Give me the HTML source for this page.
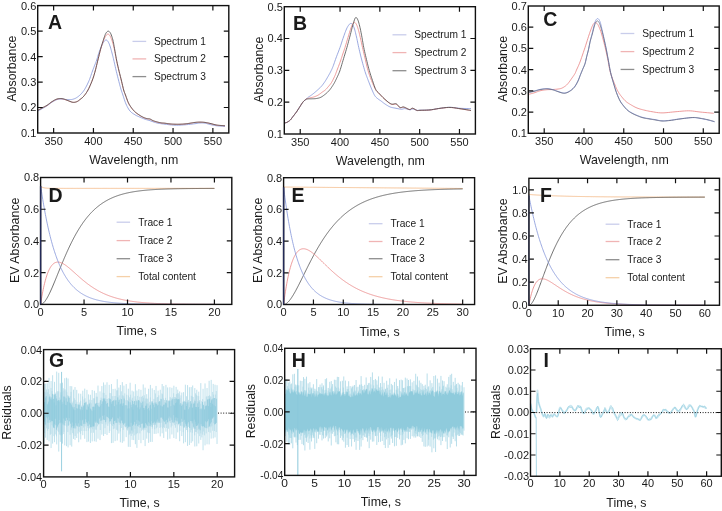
<!DOCTYPE html><html><head><meta charset="utf-8"><style>html,body{margin:0;padding:0;background:#fff;}svg{display:block;will-change:transform;}text{font-family:"Liberation Sans", sans-serif;}</style></head><body>
<svg width="722" height="511" viewBox="0 0 722 511">
<rect width="722" height="511" fill="#fff"/>
<path d="M37.5 111.2 L37.98 110.95 L38.65 110.6 L39.44 110.19 L40.3 109.73 L41.17 109.26 L42 108.8 L42.8 108.34 L43.63 107.87 L44.47 107.37 L45.31 106.87 L46.16 106.34 L47 105.8 L47.83 105.22 L48.67 104.61 L49.5 103.98 L50.33 103.35 L51.17 102.75 L52 102.2 L52.83 101.68 L53.67 101.18 L54.5 100.71 L55.33 100.27 L56.17 99.9 L57 99.6 L57.84 99.38 L58.7 99.24 L59.56 99.16 L60.41 99.12 L61.22 99.11 L62 99.1 L62.72 99.12 L63.4 99.18 L64.04 99.26 L64.68 99.36 L65.33 99.44 L66 99.5 L66.72 99.54 L67.47 99.57 L68.23 99.6 L68.97 99.61 L69.67 99.62 L70.3 99.6 L70.84 99.57 L71.3 99.54 L71.72 99.49 L72.12 99.42 L72.54 99.32 L73 99.2 L73.5 99.05 L74.01 98.89 L74.53 98.71 L75.07 98.49 L75.63 98.22 L76.2 97.9 L76.8 97.52 L77.43 97.1 L78.07 96.63 L78.72 96.12 L79.37 95.58 L80 95 L80.63 94.38 L81.27 93.72 L81.91 93.02 L82.54 92.29 L83.14 91.55 L83.7 90.8 L84.22 90.05 L84.69 89.31 L85.14 88.54 L85.59 87.75 L86.03 86.91 L86.5 86 L86.99 85.04 L87.49 84.03 L87.99 82.98 L88.49 81.88 L89 80.72 L89.5 79.5 L90.01 78.17 L90.53 76.72 L91.04 75.22 L91.55 73.72 L92.04 72.3 L92.5 71 L92.93 69.84 L93.33 68.78 L93.72 67.78 L94.09 66.83 L94.45 65.91 L94.8 65 L95.14 64.14 L95.45 63.35 L95.75 62.59 L96.05 61.81 L96.36 60.97 L96.7 60 L97.06 58.88 L97.43 57.65 L97.81 56.34 L98.2 55.02 L98.6 53.72 L99 52.5 L99.41 51.34 L99.82 50.19 L100.24 49.06 L100.66 47.98 L101.08 46.96 L101.5 46 L101.92 45.1 L102.35 44.24 L102.78 43.44 L103.2 42.7 L103.61 42.05 L104 41.5 L104.36 41.04 L104.7 40.67 L105.03 40.38 L105.35 40.17 L105.67 40.04 L106 40 L106.33 40.04 L106.67 40.17 L107 40.38 L107.33 40.67 L107.67 41.04 L108 41.5 L108.33 42.05 L108.67 42.69 L109 43.41 L109.33 44.2 L109.67 45.07 L110 46 L110.34 47.02 L110.68 48.15 L111.02 49.34 L111.35 50.57 L111.68 51.8 L112 53 L112.3 54.13 L112.58 55.22 L112.86 56.31 L113.14 57.44 L113.43 58.66 L113.75 60 L114.09 61.49 L114.45 63.11 L114.83 64.81 L115.21 66.56 L115.6 68.3 L116 70 L116.4 71.68 L116.82 73.37 L117.24 75.06 L117.66 76.74 L118.09 78.39 L118.5 80 L118.91 81.59 L119.32 83.19 L119.73 84.75 L120.13 86.26 L120.52 87.69 L120.9 89 L121.24 90.14 L121.56 91.11 L121.86 92 L122.17 92.89 L122.51 93.86 L122.9 95 L123.34 96.35 L123.82 97.85 L124.33 99.44 L124.86 101.04 L125.42 102.58 L126 104 L126.6 105.32 L127.23 106.6 L127.88 107.83 L128.56 108.98 L129.27 110.04 L130 111 L130.78 111.83 L131.59 112.56 L132.44 113.19 L133.3 113.76 L134.16 114.28 L135 114.8 L135.83 115.29 L136.67 115.72 L137.5 116.11 L138.33 116.48 L139.17 116.84 L140 117.2 L140.83 117.56 L141.67 117.91 L142.5 118.26 L143.33 118.59 L144.17 118.9 L145 119.2 L145.81 119.47 L146.6 119.71 L147.39 119.94 L148.21 120.17 L149.07 120.42 L150 120.7 L151 121.04 L152.05 121.41 L153.14 121.81 L154.29 122.21 L155.47 122.58 L156.7 122.9 L157.97 123.17 L159.29 123.41 L160.64 123.63 L162.05 123.82 L163.5 124.01 L165 124.2 L166.57 124.4 L168.21 124.61 L169.89 124.81 L171.6 124.98 L173.31 125.12 L175 125.2 L176.67 125.22 L178.33 125.2 L180 125.13 L181.67 125.04 L183.33 124.92 L185 124.8 L186.72 124.65 L188.52 124.47 L190.31 124.27 L192.04 124.06 L193.62 123.87 L195 123.7 L196.12 123.55 L197.04 123.4 L197.81 123.27 L198.52 123.15 L199.22 123.06 L200 123 L200.83 122.97 L201.67 122.96 L202.5 122.98 L203.33 123.02 L204.17 123.09 L205 123.2 L205.82 123.35 L206.63 123.56 L207.44 123.79 L208.26 124.03 L209.11 124.28 L210 124.5 L210.91 124.71 L211.81 124.93 L212.75 125.14 L213.74 125.34 L214.81 125.53 L216 125.7 L217.43 125.85 L219.11 126 L220.88 126.13 L222.56 126.24 L223.99 126.33 L225 126.4" fill="none" stroke="#8193d8" stroke-width="0.8" stroke-linejoin="round" />
<path d="M37.5 110.5 L37.98 110.23 L38.65 109.85 L39.44 109.41 L40.3 108.93 L41.17 108.45 L42 108 L42.8 107.6 L43.63 107.21 L44.47 106.83 L45.31 106.42 L46.16 105.99 L47 105.5 L47.83 104.94 L48.67 104.31 L49.5 103.66 L50.33 103 L51.17 102.37 L52 101.8 L52.83 101.28 L53.67 100.77 L54.5 100.29 L55.33 99.86 L56.17 99.49 L57 99.2 L57.83 98.98 L58.67 98.83 L59.5 98.74 L60.33 98.71 L61.17 98.73 L62 98.8 L62.82 98.93 L63.64 99.14 L64.45 99.4 L65.27 99.69 L66.12 100 L67 100.3 L67.94 100.64 L68.93 101.03 L69.95 101.44 L70.96 101.81 L71.92 102.12 L72.8 102.3 L73.61 102.36 L74.36 102.32 L75.07 102.21 L75.75 102.04 L76.39 101.83 L77 101.6 L77.56 101.34 L78.06 101.04 L78.53 100.71 L78.99 100.33 L79.47 99.93 L80 99.5 L80.57 99.07 L81.16 98.63 L81.77 98.16 L82.4 97.64 L83.04 97.03 L83.7 96.3 L84.38 95.47 L85.09 94.57 L85.81 93.57 L86.54 92.49 L87.27 91.3 L88 90 L88.75 88.54 L89.52 86.9 L90.29 85.17 L91.05 83.4 L91.76 81.65 L92.4 80 L92.96 78.47 L93.46 77 L93.91 75.56 L94.33 74.11 L94.76 72.6 L95.2 71 L95.66 69.27 L96.11 67.44 L96.56 65.56 L97.01 63.67 L97.46 61.8 L97.9 60 L98.34 58.25 L98.78 56.52 L99.21 54.81 L99.64 53.15 L100.07 51.54 L100.5 50 L100.92 48.52 L101.34 47.1 L101.76 45.73 L102.17 44.42 L102.58 43.18 L103 42 L103.42 40.88 L103.84 39.8 L104.26 38.79 L104.68 37.86 L105.09 37.02 L105.5 36.3 L105.9 35.69 L106.29 35.16 L106.67 34.74 L107.05 34.41 L107.42 34.2 L107.8 34.1 L108.17 34.11 L108.53 34.21 L108.89 34.43 L109.25 34.76 L109.62 35.21 L110 35.8 L110.41 36.55 L110.83 37.47 L111.26 38.51 L111.69 39.63 L112.11 40.81 L112.5 42 L112.86 43.21 L113.21 44.46 L113.54 45.76 L113.86 47.12 L114.18 48.53 L114.5 50 L114.82 51.55 L115.13 53.19 L115.43 54.88 L115.74 56.59 L116.06 58.31 L116.4 60 L116.76 61.67 L117.13 63.33 L117.51 65 L117.9 66.67 L118.3 68.33 L118.7 70 L119.11 71.67 L119.52 73.33 L119.94 75 L120.37 76.67 L120.79 78.33 L121.2 80 L121.61 81.72 L122.03 83.52 L122.44 85.31 L122.85 87.04 L123.24 88.62 L123.6 90 L123.92 91.09 L124.2 91.93 L124.47 92.63 L124.74 93.3 L125.04 94.06 L125.4 95 L125.82 96.18 L126.27 97.52 L126.76 98.94 L127.27 100.37 L127.79 101.71 L128.3 102.9 L128.81 103.92 L129.33 104.85 L129.86 105.69 L130.4 106.49 L130.95 107.25 L131.5 108 L132.06 108.74 L132.63 109.45 L133.2 110.13 L133.79 110.78 L134.38 111.4 L135 112 L135.63 112.56 L136.29 113.09 L136.95 113.59 L137.63 114.07 L138.31 114.54 L139 115 L139.71 115.46 L140.43 115.91 L141.17 116.36 L141.9 116.77 L142.61 117.16 L143.3 117.5 L143.96 117.8 L144.6 118.06 L145.23 118.28 L145.84 118.48 L146.43 118.65 L147 118.8 L147.54 118.9 L148.05 118.96 L148.54 118.98 L149.03 119.01 L149.51 119.07 L150 119.2 L150.49 119.4 L150.97 119.66 L151.46 119.95 L151.95 120.25 L152.46 120.54 L153 120.8 L153.57 121.03 L154.16 121.24 L154.77 121.44 L155.4 121.63 L156.04 121.82 L156.7 122 L157.39 122.19 L158.1 122.37 L158.83 122.56 L159.57 122.73 L160.29 122.88 L161 123 L161.67 123.09 L162.32 123.14 L162.96 123.17 L163.6 123.2 L164.28 123.23 L165 123.3 L165.78 123.4 L166.59 123.52 L167.44 123.65 L168.3 123.78 L169.16 123.9 L170 124 L170.83 124.08 L171.67 124.14 L172.5 124.19 L173.33 124.24 L174.17 124.27 L175 124.3 L175.83 124.32 L176.67 124.33 L177.5 124.34 L178.33 124.33 L179.17 124.32 L180 124.3 L180.83 124.27 L181.67 124.24 L182.5 124.19 L183.33 124.14 L184.17 124.08 L185 124 L185.83 123.91 L186.67 123.8 L187.5 123.68 L188.33 123.56 L189.17 123.43 L190 123.3 L190.83 123.17 L191.67 123.02 L192.5 122.87 L193.33 122.73 L194.17 122.61 L195 122.5 L195.83 122.41 L196.67 122.34 L197.5 122.28 L198.33 122.24 L199.17 122.21 L200 122.2 L200.83 122.21 L201.67 122.23 L202.5 122.27 L203.33 122.33 L204.17 122.4 L205 122.5 L205.82 122.62 L206.63 122.76 L207.44 122.92 L208.26 123.1 L209.11 123.3 L210 123.5 L210.97 123.73 L212 124 L213.06 124.28 L214.11 124.56 L215.1 124.8 L216 125 L216.77 125.14 L217.44 125.25 L218.06 125.33 L218.67 125.39 L219.3 125.44 L220 125.5 L220.83 125.57 L221.78 125.63 L222.75 125.68 L223.67 125.73 L224.44 125.77 L225 125.8" fill="none" stroke="#e88282" stroke-width="0.8" stroke-linejoin="round" />
<path d="M37.5 110.5 L37.98 110.23 L38.65 109.86 L39.44 109.42 L40.3 108.94 L41.17 108.46 L42 108 L42.8 107.57 L43.63 107.15 L44.47 106.73 L45.31 106.28 L46.16 105.81 L47 105.3 L47.83 104.73 L48.67 104.1 L49.5 103.44 L50.33 102.79 L51.17 102.16 L52 101.6 L52.83 101.08 L53.67 100.57 L54.5 100.09 L55.33 99.66 L56.17 99.29 L57 99 L57.83 98.78 L58.67 98.63 L59.5 98.54 L60.33 98.5 L61.17 98.53 L62 98.6 L62.82 98.75 L63.64 98.97 L64.45 99.24 L65.27 99.56 L66.12 99.88 L67 100.2 L67.94 100.55 L68.93 100.97 L69.95 101.39 L70.96 101.79 L71.92 102.11 L72.8 102.3 L73.61 102.36 L74.36 102.33 L75.07 102.21 L75.75 102.04 L76.39 101.83 L77 101.6 L77.56 101.34 L78.06 101.04 L78.53 100.71 L78.99 100.33 L79.47 99.93 L80 99.5 L80.57 99.07 L81.16 98.63 L81.77 98.16 L82.4 97.64 L83.04 97.03 L83.7 96.3 L84.38 95.47 L85.09 94.57 L85.81 93.57 L86.54 92.49 L87.27 91.3 L88 90 L88.75 88.54 L89.52 86.9 L90.29 85.17 L91.05 83.4 L91.76 81.65 L92.4 80 L92.96 78.47 L93.46 77 L93.91 75.56 L94.33 74.11 L94.76 72.6 L95.2 71 L95.66 69.28 L96.11 67.46 L96.56 65.59 L97.01 63.7 L97.46 61.83 L97.9 60 L98.34 58.2 L98.77 56.41 L99.2 54.62 L99.63 52.87 L100.06 51.16 L100.5 49.5 L100.95 47.89 L101.4 46.3 L101.86 44.76 L102.32 43.27 L102.77 41.85 L103.2 40.5 L103.62 39.2 L104.02 37.94 L104.41 36.75 L104.8 35.64 L105.2 34.65 L105.6 33.8 L106.01 33.08 L106.43 32.46 L106.85 31.96 L107.27 31.57 L107.69 31.32 L108.1 31.2 L108.51 31.21 L108.91 31.35 L109.31 31.61 L109.7 32.01 L110.1 32.54 L110.5 33.2 L110.91 34.02 L111.32 34.99 L111.73 36.1 L112.14 37.32 L112.53 38.63 L112.9 40 L113.25 41.48 L113.57 43.1 L113.89 44.8 L114.19 46.55 L114.49 48.3 L114.8 50 L115.1 51.67 L115.39 53.33 L115.68 55 L115.97 56.67 L116.28 58.33 L116.6 60 L116.94 61.67 L117.29 63.33 L117.66 65 L118.03 66.67 L118.41 68.33 L118.8 70 L119.2 71.67 L119.61 73.33 L120.04 75 L120.46 76.67 L120.89 78.33 L121.3 80 L121.71 81.72 L122.13 83.52 L122.54 85.31 L122.95 87.04 L123.34 88.62 L123.7 90 L124.02 91.09 L124.3 91.94 L124.57 92.64 L124.84 93.32 L125.14 94.07 L125.5 95 L125.92 96.16 L126.38 97.46 L126.87 98.84 L127.38 100.23 L127.89 101.54 L128.4 102.7 L128.9 103.71 L129.4 104.63 L129.91 105.48 L130.43 106.28 L130.96 107.04 L131.5 107.8 L132.05 108.54 L132.62 109.25 L133.19 109.93 L133.78 110.58 L134.38 111.2 L135 111.8 L135.63 112.36 L136.29 112.89 L136.95 113.39 L137.63 113.87 L138.31 114.34 L139 114.8 L139.71 115.26 L140.43 115.71 L141.17 116.16 L141.9 116.57 L142.61 116.96 L143.3 117.3 L143.96 117.6 L144.6 117.86 L145.23 118.08 L145.84 118.28 L146.43 118.45 L147 118.6 L147.54 118.7 L148.05 118.76 L148.54 118.78 L149.03 118.81 L149.51 118.87 L150 119 L150.49 119.2 L150.97 119.46 L151.46 119.75 L151.95 120.05 L152.46 120.34 L153 120.6 L153.57 120.83 L154.16 121.04 L154.77 121.24 L155.4 121.43 L156.04 121.62 L156.7 121.8 L157.39 121.99 L158.1 122.17 L158.83 122.35 L159.57 122.52 L160.29 122.67 L161 122.8 L161.67 122.9 L162.32 122.97 L162.96 123.02 L163.6 123.07 L164.28 123.12 L165 123.2 L165.78 123.3 L166.59 123.43 L167.44 123.56 L168.3 123.69 L169.16 123.8 L170 123.9 L170.83 123.98 L171.67 124.04 L172.5 124.09 L173.33 124.14 L174.17 124.17 L175 124.2 L175.83 124.22 L176.67 124.23 L177.5 124.24 L178.33 124.23 L179.17 124.22 L180 124.2 L180.83 124.17 L181.67 124.14 L182.5 124.09 L183.33 124.04 L184.17 123.98 L185 123.9 L185.83 123.81 L186.67 123.7 L187.5 123.58 L188.33 123.46 L189.17 123.33 L190 123.2 L190.83 123.07 L191.67 122.92 L192.5 122.78 L193.33 122.63 L194.17 122.51 L195 122.4 L195.83 122.31 L196.67 122.24 L197.5 122.18 L198.33 122.14 L199.17 122.11 L200 122.1 L200.83 122.11 L201.67 122.13 L202.5 122.17 L203.33 122.23 L204.17 122.3 L205 122.4 L205.82 122.52 L206.63 122.66 L207.44 122.83 L208.26 123 L209.11 123.2 L210 123.4 L210.97 123.63 L212 123.9 L213.06 124.18 L214.11 124.46 L215.1 124.7 L216 124.9 L216.77 125.04 L217.44 125.15 L218.06 125.23 L218.67 125.29 L219.3 125.34 L220 125.4 L220.83 125.47 L221.78 125.53 L222.75 125.58 L223.67 125.63 L224.44 125.67 L225 125.7" fill="none" stroke="#4a4a4a" stroke-width="0.8" stroke-linejoin="round" />
<path d="M132.5 41.4 H146.2" stroke="#c9cdeb" stroke-width="1.3"/>
<text x="153.9" y="44.87" font-size="10.2" text-anchor="start" font-weight="normal" fill="#1a1a1a" >Spectrum 1</text>
<path d="M132.5 58.9 H146.2" stroke="#f0b4b4" stroke-width="1.3"/>
<text x="153.9" y="62.37" font-size="10.2" text-anchor="start" font-weight="normal" fill="#1a1a1a" >Spectrum 2</text>
<path d="M132.5 76.6 H146.2" stroke="#8e8e8e" stroke-width="1.3"/>
<text x="153.9" y="80.07" font-size="10.2" text-anchor="start" font-weight="normal" fill="#1a1a1a" >Spectrum 3</text>
<path d="M53.62 133 V128 M53.62 5.6 V10.6 M93.44 133 V128 M93.44 5.6 V10.6 M133.25 133 V128 M133.25 5.6 V10.6 M173.06 133 V128 M173.06 5.6 V10.6 M212.88 133 V128 M212.88 5.6 V10.6 M37.7 107.52 H42.7 M228.8 107.52 H223.8 M37.7 82.04 H42.7 M228.8 82.04 H223.8 M37.7 56.56 H42.7 M228.8 56.56 H223.8 M37.7 31.08 H42.7 M228.8 31.08 H223.8" stroke="#111" stroke-width="1.2" fill="none"/>
<rect x="37.7" y="5.6" width="191.1" height="127.4" fill="none" stroke="#111" stroke-width="1.4"/>
<text x="53.62" y="144.7" font-size="11" text-anchor="middle" font-weight="normal" fill="#1a1a1a" >350</text>
<text x="93.44" y="144.7" font-size="11" text-anchor="middle" font-weight="normal" fill="#1a1a1a" >400</text>
<text x="133.25" y="144.7" font-size="11" text-anchor="middle" font-weight="normal" fill="#1a1a1a" >450</text>
<text x="173.06" y="144.7" font-size="11" text-anchor="middle" font-weight="normal" fill="#1a1a1a" >500</text>
<text x="212.88" y="144.7" font-size="11" text-anchor="middle" font-weight="normal" fill="#1a1a1a" >550</text>
<text x="36.3" y="136.96" font-size="11" text-anchor="end" font-weight="normal" fill="#1a1a1a" >0.1</text>
<text x="36.3" y="111.48" font-size="11" text-anchor="end" font-weight="normal" fill="#1a1a1a" >0.2</text>
<text x="36.3" y="86" font-size="11" text-anchor="end" font-weight="normal" fill="#1a1a1a" >0.3</text>
<text x="36.3" y="60.52" font-size="11" text-anchor="end" font-weight="normal" fill="#1a1a1a" >0.4</text>
<text x="36.3" y="35.04" font-size="11" text-anchor="end" font-weight="normal" fill="#1a1a1a" >0.5</text>
<text x="36.3" y="9.56" font-size="11" text-anchor="end" font-weight="normal" fill="#1a1a1a" >0.6</text>
<text x="133.75" y="163.7" font-size="12.4" text-anchor="middle" font-weight="normal" fill="#1a1a1a" >Wavelength, nm</text>
<text x="16" y="68.6" font-size="12.4" text-anchor="middle" font-weight="normal" fill="#1a1a1a" transform="rotate(-90 16 68.6)" >Absorbance</text>
<text x="48" y="28.7" font-size="19.5" text-anchor="start" font-weight="bold" fill="#1a1a1a" >A</text>
<path d="M284.5 123 L284.76 122.94 L285.12 122.88 L285.54 122.79 L286.01 122.68 L286.51 122.52 L287 122.3 L287.51 122.02 L288.06 121.7 L288.64 121.32 L289.21 120.91 L289.78 120.47 L290.3 120 L290.78 119.5 L291.21 118.96 L291.64 118.39 L292.06 117.79 L292.51 117.16 L293 116.5 L293.54 115.81 L294.11 115.08 L294.7 114.32 L295.3 113.53 L295.91 112.73 L296.5 111.9 L297.09 111.04 L297.69 110.13 L298.28 109.19 L298.87 108.26 L299.45 107.36 L300 106.5 L300.53 105.68 L301.04 104.86 L301.54 104.08 L302.03 103.33 L302.51 102.63 L303 102 L303.5 101.45 L304 100.97 L304.51 100.54 L305 100.15 L305.46 99.78 L305.9 99.4 L306.29 99.03 L306.63 98.69 L306.94 98.36 L307.26 98.04 L307.61 97.73 L308 97.4 L308.45 97.07 L308.93 96.74 L309.44 96.42 L309.97 96.09 L310.49 95.75 L311 95.4 L311.49 95.05 L311.96 94.7 L312.44 94.34 L312.93 93.97 L313.44 93.56 L314 93.1 L314.61 92.58 L315.28 92.02 L315.97 91.42 L316.67 90.8 L317.35 90.19 L318 89.6 L318.61 89.04 L319.2 88.51 L319.78 87.97 L320.35 87.43 L320.92 86.84 L321.5 86.2 L322.09 85.5 L322.69 84.74 L323.28 83.95 L323.87 83.14 L324.45 82.32 L325 81.5 L325.53 80.68 L326.06 79.84 L326.56 78.99 L327.06 78.14 L327.53 77.31 L328 76.5 L328.45 75.73 L328.87 75 L329.28 74.28 L329.69 73.56 L330.09 72.8 L330.5 72 L330.91 71.18 L331.31 70.35 L331.72 69.5 L332.13 68.59 L332.55 67.6 L333 66.5 L333.46 65.28 L333.93 63.96 L334.41 62.56 L334.91 61.09 L335.44 59.57 L336 58 L336.61 56.37 L337.28 54.65 L337.97 52.88 L338.67 51.07 L339.35 49.27 L340 47.5 L340.62 45.72 L341.22 43.91 L341.81 42.09 L342.39 40.31 L342.95 38.61 L343.5 37 L344.04 35.48 L344.56 34 L345.07 32.59 L345.57 31.28 L346.05 30.07 L346.5 29 L346.93 28.07 L347.34 27.28 L347.72 26.59 L348.1 26 L348.45 25.48 L348.8 25 L349.13 24.58 L349.43 24.22 L349.73 23.94 L350.01 23.72 L350.3 23.58 L350.6 23.5 L350.91 23.48 L351.22 23.52 L351.54 23.62 L351.86 23.81 L352.18 24.1 L352.5 24.5 L352.83 25.01 L353.16 25.61 L353.49 26.31 L353.83 27.11 L354.17 28.01 L354.5 29 L354.83 30.1 L355.16 31.31 L355.48 32.62 L355.81 34.02 L356.15 35.48 L356.5 37 L356.85 38.59 L357.21 40.28 L357.58 42.03 L357.95 43.83 L358.34 45.66 L358.75 47.5 L359.17 49.35 L359.6 51.22 L360.05 53.12 L360.51 55.06 L360.99 57.01 L361.5 59 L362.05 61.09 L362.65 63.3 L363.27 65.53 L363.88 67.7 L364.47 69.72 L365 71.5 L365.47 72.99 L365.91 74.26 L366.31 75.38 L366.7 76.41 L367.09 77.43 L367.5 78.5 L367.92 79.62 L368.33 80.72 L368.75 81.81 L369.17 82.89 L369.58 83.95 L370 85 L370.42 86.04 L370.83 87.07 L371.25 88.09 L371.67 89.09 L372.08 90.06 L372.5 91 L372.91 91.92 L373.31 92.82 L373.72 93.69 L374.13 94.53 L374.55 95.3 L375 96 L375.47 96.61 L375.95 97.14 L376.45 97.62 L376.96 98.06 L377.48 98.48 L378 98.9 L378.53 99.31 L379.06 99.69 L379.61 100.06 L380.16 100.42 L380.72 100.79 L381.3 101.2 L381.88 101.64 L382.46 102.09 L383.04 102.56 L383.66 103.04 L384.3 103.52 L385 104 L385.76 104.5 L386.57 105.02 L387.42 105.55 L388.29 106.06 L389.15 106.51 L390 106.9 L390.82 107.2 L391.62 107.43 L392.42 107.61 L393.24 107.77 L394.09 107.93 L395 108.1 L396 108.31 L397.1 108.54 L398.23 108.76 L399.34 108.96 L400.39 109.12 L401.3 109.2 L402.05 109.18 L402.68 109.06 L403.23 108.89 L403.77 108.73 L404.34 108.62 L405 108.6 L405.78 108.72 L406.64 108.94 L407.54 109.21 L408.43 109.48 L409.27 109.69 L410 109.8 L410.6 109.76 L411.11 109.6 L411.56 109.39 L412 109.19 L412.47 109.03 L413 109 L413.62 109.11 L414.3 109.33 L415 109.61 L415.7 109.89 L416.38 110.14 L417 110.3 L417.48 110.37 L417.81 110.38 L418.12 110.35 L418.52 110.3 L419.11 110.24 L420 110.2 L421.26 110.18 L422.81 110.16 L424.56 110.14 L426.41 110.1 L428.25 110.03 L430 109.9 L431.67 109.7 L433.33 109.44 L435 109.14 L436.67 108.84 L438.33 108.55 L440 108.3 L441.67 108.08 L443.33 107.85 L445 107.64 L446.67 107.46 L448.33 107.34 L450 107.3 L451.66 107.36 L453.3 107.51 L454.94 107.72 L456.59 107.94 L458.28 108.15 L460 108.3 L461.9 108.39 L464 108.46 L466.12 108.51 L468.11 108.55 L469.79 108.58 L471 108.6" fill="none" stroke="#8193d8" stroke-width="0.8" stroke-linejoin="round" />
<path d="M284.5 123 L284.76 122.94 L285.12 122.88 L285.54 122.79 L286.01 122.68 L286.51 122.52 L287 122.3 L287.51 122.02 L288.06 121.7 L288.64 121.32 L289.21 120.91 L289.78 120.47 L290.3 120 L290.78 119.5 L291.21 118.96 L291.64 118.39 L292.06 117.79 L292.51 117.16 L293 116.5 L293.54 115.81 L294.11 115.08 L294.7 114.32 L295.3 113.53 L295.91 112.73 L296.5 111.9 L297.09 111.04 L297.69 110.13 L298.28 109.19 L298.87 108.26 L299.45 107.36 L300 106.5 L300.53 105.68 L301.04 104.86 L301.54 104.08 L302.03 103.33 L302.51 102.63 L303 102 L303.5 101.44 L304 100.93 L304.51 100.48 L305 100.08 L305.46 99.72 L305.9 99.4 L306.29 99.14 L306.63 98.94 L306.94 98.79 L307.26 98.66 L307.61 98.54 L308 98.4 L308.45 98.25 L308.93 98.11 L309.44 97.98 L309.97 97.85 L310.49 97.73 L311 97.6 L311.49 97.49 L311.96 97.4 L312.44 97.31 L312.93 97.2 L313.44 97.07 L314 96.9 L314.61 96.69 L315.26 96.45 L315.94 96.19 L316.63 95.89 L317.32 95.56 L318 95.2 L318.68 94.78 L319.36 94.3 L320.05 93.79 L320.72 93.27 L321.38 92.76 L322 92.3 L322.59 91.89 L323.16 91.51 L323.7 91.16 L324.23 90.8 L324.75 90.42 L325.25 90 L325.73 89.56 L326.18 89.11 L326.61 88.64 L327.05 88.14 L327.5 87.59 L328 87 L328.54 86.37 L329.11 85.7 L329.7 85 L330.31 84.24 L330.91 83.41 L331.5 82.5 L332.09 81.47 L332.7 80.33 L333.31 79.12 L333.91 77.89 L334.47 76.67 L335 75.5 L335.47 74.41 L335.89 73.35 L336.28 72.31 L336.67 71.26 L337.07 70.16 L337.5 69 L337.98 67.74 L338.49 66.41 L339.01 65.03 L339.53 63.65 L340.03 62.29 L340.5 61 L340.92 59.77 L341.32 58.57 L341.7 57.41 L342.07 56.26 L342.43 55.13 L342.8 54 L343.16 52.93 L343.51 51.93 L343.86 50.94 L344.21 49.91 L344.59 48.78 L345 47.5 L345.45 46.03 L345.94 44.41 L346.45 42.69 L346.97 40.93 L347.49 39.18 L348 37.5 L348.5 35.84 L349.01 34.15 L349.52 32.47 L350.02 30.85 L350.51 29.35 L351 28 L351.48 26.77 L351.95 25.61 L352.41 24.56 L352.86 23.67 L353.31 22.97 L353.75 22.5 L354.18 22.3 L354.6 22.33 L355.02 22.56 L355.42 22.94 L355.82 23.44 L356.2 24 L356.57 24.66 L356.93 25.44 L357.28 26.34 L357.62 27.33 L357.96 28.39 L358.3 29.5 L358.64 30.67 L358.97 31.91 L359.29 33.22 L359.62 34.59 L359.96 36.02 L360.3 37.5 L360.65 39.03 L361 40.63 L361.36 42.28 L361.72 43.98 L362.1 45.72 L362.5 47.5 L362.92 49.33 L363.36 51.22 L363.81 53.16 L364.27 55.11 L364.74 57.07 L365.2 59 L365.65 60.93 L366.1 62.89 L366.55 64.84 L367.01 66.78 L367.49 68.67 L368 70.5 L368.54 72.26 L369.09 73.98 L369.67 75.65 L370.26 77.29 L370.87 78.9 L371.5 80.5 L372.16 82.13 L372.86 83.8 L373.57 85.45 L374.28 87.01 L374.96 88.41 L375.6 89.6 L376.14 90.49 L376.61 91.11 L377.04 91.57 L377.51 92 L378.06 92.51 L378.75 93.2 L379.61 94.11 L380.6 95.16 L381.68 96.28 L382.8 97.42 L383.92 98.51 L385 99.5 L386.06 100.43 L387.13 101.36 L388.2 102.24 L389.26 103.03 L390.28 103.7 L391.25 104.2 L392.17 104.45 L393.06 104.46 L393.91 104.34 L394.72 104.2 L395.5 104.15 L396.25 104.3 L396.95 104.71 L397.59 105.3 L398.2 105.98 L398.8 106.66 L399.39 107.23 L400 107.6 L400.6 107.72 L401.18 107.64 L401.75 107.46 L402.35 107.26 L403.01 107.15 L403.75 107.2 L404.62 107.48 L405.62 107.93 L406.67 108.46 L407.71 108.97 L408.68 109.38 L409.5 109.6 L410.14 109.56 L410.65 109.31 L411.08 108.96 L411.49 108.61 L411.95 108.36 L412.5 108.3 L413.18 108.49 L413.94 108.86 L414.75 109.33 L415.56 109.81 L416.32 110.23 L417 110.5 L417.51 110.62 L417.85 110.65 L418.16 110.61 L418.54 110.54 L419.11 110.46 L420 110.4 L421.26 110.36 L422.81 110.33 L424.56 110.29 L426.41 110.23 L428.25 110.14 L430 110 L431.67 109.79 L433.33 109.53 L435 109.23 L436.67 108.93 L438.33 108.64 L440 108.4 L441.67 108.18 L443.33 107.97 L445 107.77 L446.67 107.61 L448.33 107.51 L450 107.5 L451.66 107.58 L453.3 107.75 L454.94 107.98 L456.59 108.25 L458.28 108.53 L460 108.8 L461.9 109.09 L464 109.43 L466.12 109.78 L468.11 110.11 L469.79 110.4 L471 110.6" fill="none" stroke="#e88282" stroke-width="0.8" stroke-linejoin="round" />
<path d="M284.5 123 L284.76 122.94 L285.12 122.88 L285.54 122.79 L286.01 122.68 L286.51 122.52 L287 122.3 L287.51 122.02 L288.06 121.7 L288.64 121.32 L289.21 120.91 L289.78 120.47 L290.3 120 L290.78 119.5 L291.21 118.96 L291.64 118.39 L292.06 117.79 L292.51 117.16 L293 116.5 L293.54 115.81 L294.11 115.08 L294.7 114.32 L295.3 113.53 L295.91 112.73 L296.5 111.9 L297.09 111.04 L297.69 110.13 L298.28 109.19 L298.87 108.26 L299.45 107.36 L300 106.5 L300.53 105.68 L301.04 104.86 L301.54 104.08 L302.03 103.33 L302.51 102.63 L303 102 L303.5 101.43 L304 100.91 L304.51 100.45 L305 100.04 L305.46 99.69 L305.9 99.4 L306.27 99.19 L306.59 99.06 L306.88 98.99 L307.19 98.96 L307.55 98.94 L308 98.9 L308.55 98.86 L309.17 98.84 L309.85 98.84 L310.56 98.83 L311.28 98.82 L312 98.8 L312.72 98.77 L313.46 98.75 L314.22 98.72 L314.98 98.68 L315.74 98.61 L316.5 98.5 L317.24 98.37 L317.98 98.23 L318.72 98.06 L319.46 97.84 L320.22 97.56 L321 97.2 L321.82 96.74 L322.67 96.19 L323.53 95.57 L324.39 94.92 L325.22 94.26 L326 93.6 L326.72 92.97 L327.41 92.34 L328.06 91.7 L328.7 91.03 L329.34 90.3 L330 89.5 L330.68 88.61 L331.37 87.64 L332.06 86.62 L332.74 85.57 L333.39 84.52 L334 83.5 L334.56 82.51 L335.08 81.52 L335.57 80.53 L336.05 79.54 L336.52 78.53 L337 77.5 L337.47 76.49 L337.93 75.52 L338.39 74.53 L338.84 73.48 L339.31 72.32 L339.8 71 L340.3 69.51 L340.81 67.89 L341.33 66.16 L341.87 64.33 L342.42 62.44 L343 60.5 L343.62 58.46 L344.28 56.3 L344.96 54.06 L345.63 51.81 L346.29 49.61 L346.9 47.5 L347.47 45.48 L348.01 43.5 L348.53 41.56 L349.03 39.67 L349.52 37.81 L350 36 L350.46 34.23 L350.9 32.49 L351.32 30.79 L351.74 29.14 L352.16 27.55 L352.6 26 L353.06 24.41 L353.53 22.76 L354.01 21.15 L354.49 19.71 L354.95 18.56 L355.4 17.8 L355.83 17.48 L356.24 17.5 L356.64 17.81 L357.03 18.33 L357.42 19.02 L357.8 19.8 L358.18 20.73 L358.56 21.86 L358.93 23.15 L359.29 24.55 L359.65 26.02 L360 27.5 L360.35 29.03 L360.69 30.66 L361.03 32.36 L361.36 34.08 L361.68 35.81 L362 37.5 L362.29 39.14 L362.56 40.76 L362.83 42.38 L363.1 44.02 L363.4 45.72 L363.75 47.5 L364.15 49.4 L364.59 51.39 L365.06 53.44 L365.54 55.5 L366.03 57.53 L366.5 59.5 L366.96 61.4 L367.41 63.28 L367.87 65.12 L368.34 66.94 L368.81 68.74 L369.3 70.5 L369.81 72.23 L370.33 73.94 L370.87 75.62 L371.41 77.27 L371.96 78.9 L372.5 80.5 L373.05 82.13 L373.6 83.8 L374.16 85.45 L374.71 87.01 L375.26 88.41 L375.8 89.6 L376.29 90.49 L376.74 91.11 L377.17 91.58 L377.65 92.01 L378.21 92.51 L378.9 93.2 L379.74 94.1 L380.71 95.13 L381.75 96.24 L382.84 97.36 L383.94 98.43 L385 99.4 L386.05 100.31 L387.12 101.23 L388.19 102.1 L389.25 102.88 L390.28 103.53 L391.25 104 L392.17 104.2 L393.06 104.14 L393.91 103.96 L394.72 103.76 L395.5 103.66 L396.25 103.8 L396.95 104.24 L397.59 104.9 L398.2 105.67 L398.8 106.43 L399.39 107.08 L400 107.5 L400.6 107.62 L401.18 107.53 L401.75 107.33 L402.35 107.1 L403.01 106.96 L403.75 107 L404.62 107.29 L405.62 107.75 L406.67 108.3 L407.71 108.84 L408.68 109.27 L409.5 109.5 L410.14 109.46 L410.65 109.22 L411.08 108.87 L411.49 108.51 L411.95 108.26 L412.5 108.2 L413.18 108.39 L413.94 108.76 L414.75 109.23 L415.56 109.71 L416.32 110.13 L417 110.4 L417.51 110.52 L417.85 110.55 L418.16 110.51 L418.54 110.44 L419.11 110.36 L420 110.3 L421.26 110.26 L422.81 110.23 L424.56 110.19 L426.41 110.13 L428.25 110.04 L430 109.9 L431.67 109.69 L433.33 109.43 L435 109.13 L436.67 108.83 L438.33 108.54 L440 108.3 L441.67 108.08 L443.33 107.87 L445 107.67 L446.67 107.51 L448.33 107.41 L450 107.4 L451.66 107.48 L453.3 107.66 L454.94 107.89 L456.59 108.16 L458.28 108.43 L460 108.7 L461.9 108.98 L464 109.3 L466.12 109.63 L468.11 109.94 L469.79 110.21 L471 110.4" fill="none" stroke="#4a4a4a" stroke-width="0.8" stroke-linejoin="round" />
<path d="M392.5 34.8 H406.4" stroke="#c9cdeb" stroke-width="1.3"/>
<text x="414.3" y="38.27" font-size="10.2" text-anchor="start" font-weight="normal" fill="#1a1a1a" >Spectrum 1</text>
<path d="M392.5 52.6 H406.4" stroke="#f0b4b4" stroke-width="1.3"/>
<text x="414.3" y="56.07" font-size="10.2" text-anchor="start" font-weight="normal" fill="#1a1a1a" >Spectrum 2</text>
<path d="M392.5 70.7 H406.4" stroke="#8e8e8e" stroke-width="1.3"/>
<text x="414.3" y="74.17" font-size="10.2" text-anchor="start" font-weight="normal" fill="#1a1a1a" >Spectrum 3</text>
<path d="M300.23 134 V129 M300.23 6.7 V11.7 M340.04 134 V129 M340.04 6.7 V11.7 M379.85 134 V129 M379.85 6.7 V11.7 M419.66 134 V129 M419.66 6.7 V11.7 M459.47 134 V129 M459.47 6.7 V11.7 M284.3 102.17 H289.3 M475.4 102.17 H470.4 M284.3 70.35 H289.3 M475.4 70.35 H470.4 M284.3 38.52 H289.3 M475.4 38.52 H470.4" stroke="#111" stroke-width="1.2" fill="none"/>
<rect x="284.3" y="6.7" width="191.1" height="127.3" fill="none" stroke="#111" stroke-width="1.4"/>
<text x="300.23" y="145.7" font-size="11" text-anchor="middle" font-weight="normal" fill="#1a1a1a" >350</text>
<text x="340.04" y="145.7" font-size="11" text-anchor="middle" font-weight="normal" fill="#1a1a1a" >400</text>
<text x="379.85" y="145.7" font-size="11" text-anchor="middle" font-weight="normal" fill="#1a1a1a" >450</text>
<text x="419.66" y="145.7" font-size="11" text-anchor="middle" font-weight="normal" fill="#1a1a1a" >500</text>
<text x="459.47" y="145.7" font-size="11" text-anchor="middle" font-weight="normal" fill="#1a1a1a" >550</text>
<text x="282.9" y="137.96" font-size="11" text-anchor="end" font-weight="normal" fill="#1a1a1a" >0.1</text>
<text x="282.9" y="106.13" font-size="11" text-anchor="end" font-weight="normal" fill="#1a1a1a" >0.2</text>
<text x="282.9" y="74.31" font-size="11" text-anchor="end" font-weight="normal" fill="#1a1a1a" >0.3</text>
<text x="282.9" y="42.48" font-size="11" text-anchor="end" font-weight="normal" fill="#1a1a1a" >0.4</text>
<text x="282.9" y="10.66" font-size="11" text-anchor="end" font-weight="normal" fill="#1a1a1a" >0.5</text>
<text x="380.35" y="164.7" font-size="12.4" text-anchor="middle" font-weight="normal" fill="#1a1a1a" >Wavelength, nm</text>
<text x="262.6" y="69.65" font-size="12.4" text-anchor="middle" font-weight="normal" fill="#1a1a1a" transform="rotate(-90 262.6 69.65)" >Absorbance</text>
<text x="293" y="30.3" font-size="19.5" text-anchor="start" font-weight="bold" fill="#1a1a1a" >B</text>
<path d="M528.5 94.4 L529.22 94.2 L530.24 93.93 L531.44 93.61 L532.7 93.27 L533.93 92.92 L535 92.6 L535.9 92.29 L536.71 91.97 L537.48 91.65 L538.26 91.34 L539.08 91.06 L540 90.8 L541.04 90.57 L542.16 90.36 L543.33 90.18 L544.51 90.01 L545.68 89.87 L546.8 89.75 L547.85 89.67 L548.86 89.63 L549.86 89.62 L550.86 89.6 L551.9 89.57 L553 89.5 L554.21 89.4 L555.51 89.3 L556.86 89.18 L558.17 89.03 L559.41 88.84 L560.5 88.6 L561.44 88.3 L562.28 87.96 L563.03 87.57 L563.72 87.16 L564.37 86.73 L565 86.3 L565.58 85.89 L566.07 85.5 L566.53 85.1 L566.98 84.65 L567.46 84.13 L568 83.5 L568.62 82.73 L569.3 81.83 L570 80.86 L570.7 79.86 L571.38 78.89 L572 78 L572.58 77.18 L573.13 76.39 L573.66 75.62 L574.15 74.89 L574.6 74.18 L575 73.5 L575.31 72.91 L575.54 72.43 L575.72 71.97 L575.91 71.46 L576.15 70.83 L576.5 70 L576.95 69 L577.46 67.91 L578.03 66.69 L578.65 65.31 L579.31 63.76 L580 62 L580.76 59.94 L581.59 57.57 L582.47 55.03 L583.35 52.43 L584.21 49.88 L585 47.5 L585.74 45.24 L586.46 42.98 L587.16 40.78 L587.81 38.69 L588.43 36.74 L589 35 L589.51 33.48 L589.97 32.14 L590.39 30.95 L590.78 29.89 L591.15 28.91 L591.5 28 L591.83 27.17 L592.12 26.45 L592.39 25.82 L592.66 25.26 L592.92 24.76 L593.2 24.3 L593.49 23.87 L593.79 23.5 L594.09 23.18 L594.4 22.91 L594.7 22.72 L595 22.6 L595.3 22.55 L595.6 22.58 L595.9 22.68 L596.2 22.83 L596.5 23.04 L596.8 23.3 L597.09 23.58 L597.37 23.89 L597.64 24.26 L597.93 24.71 L598.25 25.28 L598.6 26 L598.98 26.83 L599.39 27.73 L599.82 28.76 L600.28 29.94 L600.77 31.34 L601.3 33 L601.89 35.01 L602.55 37.37 L603.24 39.93 L603.94 42.58 L604.6 45.18 L605.2 47.6 L605.73 49.86 L606.23 52.06 L606.69 54.21 L607.14 56.33 L607.57 58.42 L608 60.5 L608.4 62.55 L608.75 64.55 L609.09 66.53 L609.45 68.5 L609.88 70.48 L610.4 72.5 L611.06 74.62 L611.83 76.85 L612.66 79.09 L613.5 81.26 L614.3 83.26 L615 85 L615.59 86.45 L616.11 87.67 L616.58 88.73 L617.04 89.68 L617.5 90.58 L618 91.5 L618.52 92.39 L619.03 93.21 L619.54 93.98 L620.09 94.73 L620.67 95.5 L621.3 96.3 L622 97.16 L622.74 98.07 L623.52 98.98 L624.34 99.88 L625.17 100.73 L626 101.5 L626.84 102.19 L627.71 102.81 L628.59 103.39 L629.48 103.93 L630.39 104.47 L631.3 105 L632.21 105.54 L633.13 106.07 L634.06 106.59 L635.01 107.09 L635.98 107.56 L637 108 L638.05 108.39 L639.12 108.75 L640.22 109.08 L641.35 109.39 L642.53 109.7 L643.75 110 L645.02 110.31 L646.32 110.61 L647.67 110.9 L649.06 111.18 L650.51 111.45 L652 111.7 L653.53 111.96 L655.09 112.22 L656.7 112.48 L658.38 112.69 L660.14 112.84 L662 112.9 L663.98 112.85 L666.09 112.7 L668.27 112.49 L670.5 112.24 L672.76 112 L675 111.8 L677.27 111.6 L679.6 111.38 L681.96 111.16 L684.29 110.97 L686.55 110.84 L688.7 110.8 L690.69 110.87 L692.56 111.03 L694.35 111.26 L696.14 111.51 L698.01 111.77 L700 112 L702.3 112.23 L704.9 112.47 L707.56 112.72 L710.06 112.96 L712.18 113.16 L713.7 113.3" fill="none" stroke="#e88282" stroke-width="0.8" stroke-linejoin="round" />
<path d="M528.5 92.3 L529.22 92.14 L530.24 91.91 L531.44 91.64 L532.7 91.35 L533.93 91.06 L535 90.8 L535.9 90.55 L536.71 90.3 L537.48 90.06 L538.26 89.82 L539.08 89.6 L540 89.4 L541.04 89.21 L542.16 89.02 L543.33 88.85 L544.51 88.71 L545.68 88.62 L546.8 88.6 L547.88 88.65 L548.96 88.77 L550.01 88.94 L551.04 89.14 L552.04 89.37 L553 89.6 L553.89 89.86 L554.71 90.15 L555.49 90.46 L556.28 90.79 L557.11 91.1 L558 91.4 L558.99 91.72 L560.04 92.08 L561.12 92.44 L562.22 92.74 L563.29 92.94 L564.3 93 L565.26 92.9 L566.19 92.68 L567.1 92.36 L567.99 91.96 L568.85 91.5 L569.7 91 L570.54 90.46 L571.36 89.86 L572.17 89.19 L572.95 88.48 L573.69 87.71 L574.4 86.9 L575.07 86.02 L575.7 85.06 L576.3 84.06 L576.87 83.03 L577.4 82 L577.9 81 L578.35 80.03 L578.75 79.06 L579.12 78.1 L579.47 77.14 L579.82 76.17 L580.2 75.2 L580.59 74.22 L580.99 73.24 L581.39 72.25 L581.8 71.26 L582.2 70.28 L582.6 69.3 L583.01 68.34 L583.43 67.41 L583.84 66.47 L584.25 65.53 L584.64 64.54 L585 63.5 L585.32 62.39 L585.61 61.23 L585.89 60.02 L586.15 58.81 L586.42 57.59 L586.7 56.4 L587 55.24 L587.3 54.11 L587.6 52.98 L587.9 51.83 L588.2 50.65 L588.5 49.4 L588.78 48.08 L589.06 46.69 L589.33 45.26 L589.61 43.82 L589.89 42.39 L590.2 41 L590.52 39.66 L590.86 38.36 L591.21 37.07 L591.57 35.76 L591.93 34.42 L592.3 33 L592.68 31.44 L593.08 29.73 L593.49 27.98 L593.89 26.29 L594.26 24.77 L594.6 23.5 L594.9 22.52 L595.16 21.74 L595.4 21.13 L595.63 20.63 L595.86 20.2 L596.1 19.8 L596.35 19.43 L596.6 19.13 L596.85 18.89 L597.1 18.73 L597.35 18.63 L597.6 18.6 L597.85 18.63 L598.1 18.73 L598.35 18.89 L598.6 19.13 L598.85 19.43 L599.1 19.8 L599.34 20.19 L599.57 20.6 L599.79 21.07 L600.03 21.67 L600.3 22.46 L600.6 23.5 L600.94 24.82 L601.31 26.38 L601.71 28.13 L602.12 30.02 L602.55 31.99 L603 34 L603.47 36.1 L603.98 38.35 L604.51 40.68 L605.03 43.04 L605.53 45.37 L606 47.6 L606.42 49.73 L606.82 51.82 L607.19 53.87 L607.56 55.9 L607.92 57.94 L608.3 60 L608.67 62.09 L609.04 64.21 L609.4 66.32 L609.77 68.42 L610.17 70.49 L610.6 72.5 L611.08 74.48 L611.6 76.44 L612.15 78.36 L612.7 80.23 L613.24 82.03 L613.75 83.75 L614.22 85.36 L614.67 86.88 L615.1 88.32 L615.54 89.72 L616 91.11 L616.5 92.5 L617.04 93.92 L617.61 95.36 L618.2 96.78 L618.81 98.15 L619.41 99.44 L620 100.6 L620.58 101.62 L621.15 102.52 L621.72 103.33 L622.3 104.09 L622.89 104.84 L623.5 105.6 L624.13 106.38 L624.78 107.16 L625.44 107.92 L626.11 108.66 L626.8 109.35 L627.5 110 L628.21 110.59 L628.92 111.12 L629.65 111.61 L630.4 112.08 L631.18 112.54 L632 113 L632.87 113.46 L633.79 113.92 L634.74 114.37 L635.71 114.8 L636.67 115.21 L637.6 115.6 L638.49 115.96 L639.36 116.31 L640.21 116.63 L641.09 116.94 L642.01 117.23 L643 117.5 L644.1 117.76 L645.29 118 L646.52 118.22 L647.76 118.43 L648.93 118.62 L650 118.8 L650.93 118.96 L651.74 119.09 L652.5 119.21 L653.26 119.32 L654.07 119.45 L655 119.6 L656.04 119.8 L657.15 120.03 L658.31 120.28 L659.52 120.51 L660.75 120.69 L662 120.8 L663.25 120.83 L664.52 120.8 L665.81 120.72 L667.15 120.6 L668.54 120.46 L670 120.3 L671.52 120.1 L673.08 119.86 L674.7 119.59 L676.39 119.31 L678.15 119.04 L680 118.8 L682.04 118.56 L684.27 118.3 L686.58 118.06 L688.84 117.84 L690.96 117.68 L692.8 117.6 L694.31 117.61 L695.59 117.69 L696.7 117.83 L697.75 118 L698.82 118.2 L700 118.4 L701.3 118.62 L702.66 118.87 L704.04 119.14 L705.41 119.42 L706.74 119.71 L708 120 L709.25 120.31 L710.52 120.65 L711.75 121 L712.87 121.33 L713.81 121.6 L714.5 121.8" fill="none" stroke="#8193d8" stroke-width="0.8" stroke-linejoin="round" />
<path d="M528.5 92.6 L529.22 92.44 L530.24 92.21 L531.44 91.94 L532.7 91.65 L533.93 91.36 L535 91.1 L535.9 90.85 L536.71 90.6 L537.48 90.36 L538.26 90.12 L539.08 89.9 L540 89.7 L541.04 89.51 L542.16 89.32 L543.33 89.15 L544.51 89.01 L545.68 88.92 L546.8 88.9 L547.88 88.95 L548.96 89.07 L550.01 89.24 L551.04 89.44 L552.04 89.67 L553 89.9 L553.89 90.16 L554.71 90.45 L555.49 90.76 L556.28 91.09 L557.11 91.4 L558 91.7 L558.99 92.02 L560.04 92.38 L561.12 92.74 L562.22 93.04 L563.29 93.24 L564.3 93.3 L565.26 93.2 L566.19 92.98 L567.1 92.66 L567.99 92.26 L568.85 91.8 L569.7 91.3 L570.54 90.76 L571.36 90.16 L572.17 89.49 L572.95 88.78 L573.69 88.01 L574.4 87.2 L575.07 86.32 L575.7 85.36 L576.3 84.36 L576.87 83.33 L577.4 82.3 L577.9 81.3 L578.35 80.33 L578.75 79.36 L579.12 78.4 L579.47 77.44 L579.82 76.47 L580.2 75.5 L580.59 74.52 L580.99 73.54 L581.39 72.55 L581.8 71.56 L582.2 70.58 L582.6 69.6 L583.01 68.64 L583.43 67.71 L583.84 66.77 L584.25 65.83 L584.64 64.84 L585 63.8 L585.32 62.69 L585.61 61.53 L585.89 60.33 L586.15 59.11 L586.42 57.89 L586.7 56.7 L587 55.54 L587.3 54.4 L587.6 53.27 L587.9 52.12 L588.2 50.93 L588.5 49.7 L588.78 48.39 L589.06 47.03 L589.33 45.63 L589.61 44.23 L589.89 42.84 L590.2 41.5 L590.53 40.22 L590.87 38.97 L591.23 37.74 L591.59 36.51 L591.95 35.27 L592.3 34 L592.66 32.65 L593.02 31.21 L593.39 29.77 L593.74 28.37 L594.08 27.1 L594.4 26 L594.68 25.09 L594.94 24.33 L595.19 23.68 L595.42 23.13 L595.66 22.64 L595.9 22.2 L596.15 21.81 L596.4 21.49 L596.65 21.23 L596.9 21.05 L597.15 20.94 L597.4 20.9 L597.65 20.94 L597.9 21.06 L598.15 21.24 L598.4 21.5 L598.65 21.82 L598.9 22.2 L599.14 22.61 L599.36 23.04 L599.59 23.54 L599.83 24.14 L600.09 24.88 L600.4 25.8 L600.75 26.9 L601.14 28.15 L601.56 29.54 L601.99 31.06 L602.44 32.72 L602.9 34.5 L603.38 36.47 L603.89 38.66 L604.41 40.97 L604.93 43.33 L605.43 45.67 L605.9 47.9 L606.34 50.03 L606.75 52.11 L607.14 54.17 L607.53 56.21 L607.91 58.25 L608.3 60.3 L608.68 62.37 L609.04 64.44 L609.4 66.51 L609.77 68.57 L610.17 70.6 L610.6 72.6 L611.08 74.58 L611.6 76.56 L612.15 78.52 L612.7 80.43 L613.24 82.26 L613.75 84 L614.22 85.63 L614.67 87.15 L615.1 88.61 L615.54 90.01 L616 91.4 L616.5 92.8 L617.04 94.23 L617.61 95.67 L618.2 97.09 L618.81 98.46 L619.41 99.74 L620 100.9 L620.58 101.92 L621.15 102.82 L621.72 103.63 L622.3 104.39 L622.89 105.14 L623.5 105.9 L624.13 106.68 L624.78 107.46 L625.44 108.23 L626.11 108.96 L626.8 109.65 L627.5 110.3 L628.21 110.89 L628.92 111.42 L629.65 111.91 L630.4 112.38 L631.18 112.84 L632 113.3 L632.87 113.76 L633.79 114.22 L634.74 114.67 L635.71 115.1 L636.67 115.51 L637.6 115.9 L638.49 116.26 L639.36 116.61 L640.21 116.93 L641.09 117.24 L642.01 117.53 L643 117.8 L644.1 118.06 L645.29 118.3 L646.52 118.52 L647.76 118.73 L648.93 118.92 L650 119.1 L650.93 119.26 L651.74 119.39 L652.5 119.51 L653.26 119.63 L654.07 119.76 L655 119.9 L656.04 120.08 L657.15 120.3 L658.31 120.53 L659.52 120.74 L660.75 120.91 L662 121 L663.25 121.02 L664.52 120.99 L665.81 120.91 L667.15 120.8 L668.54 120.66 L670 120.5 L671.52 120.31 L673.08 120.07 L674.7 119.81 L676.39 119.54 L678.15 119.26 L680 119 L682.04 118.72 L684.27 118.42 L686.58 118.11 L688.84 117.84 L690.96 117.62 L692.8 117.5 L694.31 117.48 L695.59 117.54 L696.7 117.66 L697.75 117.82 L698.82 118.01 L700 118.2 L701.3 118.41 L702.66 118.66 L704.04 118.93 L705.41 119.22 L706.74 119.51 L708 119.8 L709.25 120.11 L710.52 120.45 L711.75 120.8 L712.87 121.13 L713.81 121.4 L714.5 121.6" fill="none" stroke="#686c80" stroke-width="0.8" stroke-linejoin="round" />
<path d="M620.6 33.5 H634.3" stroke="#c9cdeb" stroke-width="1.3"/>
<text x="642.2" y="36.97" font-size="10.2" text-anchor="start" font-weight="normal" fill="#1a1a1a" >Spectrum 1</text>
<path d="M620.6 51.6 H634.3" stroke="#f0b4b4" stroke-width="1.3"/>
<text x="642.2" y="55.07" font-size="10.2" text-anchor="start" font-weight="normal" fill="#1a1a1a" >Spectrum 2</text>
<path d="M620.6 69.45 H634.3" stroke="#8e8e8e" stroke-width="1.3"/>
<text x="642.2" y="72.92" font-size="10.2" text-anchor="start" font-weight="normal" fill="#1a1a1a" >Spectrum 3</text>
<path d="M544.21 133.3 V128.3 M544.21 6 V11 M583.98 133.3 V128.3 M583.98 6 V11 M623.75 133.3 V128.3 M623.75 6 V11 M663.52 133.3 V128.3 M663.52 6 V11 M703.29 133.3 V128.3 M703.29 6 V11 M528.3 112.08 H533.3 M719.2 112.08 H714.2 M528.3 90.87 H533.3 M719.2 90.87 H714.2 M528.3 69.65 H533.3 M719.2 69.65 H714.2 M528.3 48.43 H533.3 M719.2 48.43 H714.2 M528.3 27.22 H533.3 M719.2 27.22 H714.2" stroke="#111" stroke-width="1.2" fill="none"/>
<rect x="528.3" y="6" width="190.9" height="127.3" fill="none" stroke="#111" stroke-width="1.4"/>
<text x="544.21" y="145" font-size="11" text-anchor="middle" font-weight="normal" fill="#1a1a1a" >350</text>
<text x="583.98" y="145" font-size="11" text-anchor="middle" font-weight="normal" fill="#1a1a1a" >400</text>
<text x="623.75" y="145" font-size="11" text-anchor="middle" font-weight="normal" fill="#1a1a1a" >450</text>
<text x="663.52" y="145" font-size="11" text-anchor="middle" font-weight="normal" fill="#1a1a1a" >500</text>
<text x="703.29" y="145" font-size="11" text-anchor="middle" font-weight="normal" fill="#1a1a1a" >550</text>
<text x="526.9" y="137.26" font-size="11" text-anchor="end" font-weight="normal" fill="#1a1a1a" >0.1</text>
<text x="526.9" y="116.04" font-size="11" text-anchor="end" font-weight="normal" fill="#1a1a1a" >0.2</text>
<text x="526.9" y="94.83" font-size="11" text-anchor="end" font-weight="normal" fill="#1a1a1a" >0.3</text>
<text x="526.9" y="73.61" font-size="11" text-anchor="end" font-weight="normal" fill="#1a1a1a" >0.4</text>
<text x="526.9" y="52.39" font-size="11" text-anchor="end" font-weight="normal" fill="#1a1a1a" >0.5</text>
<text x="526.9" y="31.18" font-size="11" text-anchor="end" font-weight="normal" fill="#1a1a1a" >0.6</text>
<text x="526.9" y="9.96" font-size="11" text-anchor="end" font-weight="normal" fill="#1a1a1a" >0.7</text>
<text x="624.25" y="164" font-size="12.4" text-anchor="middle" font-weight="normal" fill="#1a1a1a" >Wavelength, nm</text>
<text x="506.6" y="68.95" font-size="12.4" text-anchor="middle" font-weight="normal" fill="#1a1a1a" transform="rotate(-90 506.6 68.95)" >Absorbance</text>
<text x="543.3" y="25.9" font-size="19.5" text-anchor="start" font-weight="bold" fill="#1a1a1a" >C</text>
<path d="M40.6 186.22 L41.04 186.55 L41.47 186.83 L41.91 187.07 L42.34 187.27 L42.78 187.44 L43.21 187.58 L43.65 187.7 L44.09 187.8 L44.52 187.89 L44.96 187.96 L45.39 188.03 L45.83 188.08 L46.26 188.12 L46.7 188.16 L47.13 188.19 L47.57 188.22 L48.01 188.24 L48.44 188.26 L48.88 188.28 L49.31 188.29 L49.75 188.3 L50.18 188.31 L50.62 188.32 L51.06 188.33 L51.49 188.33 L51.93 188.34 L52.36 188.34 L52.8 188.35 L53.23 188.35 L53.67 188.35 L54.1 188.35 L54.54 188.36 L54.98 188.36 L55.41 188.36 L55.85 188.36 L56.28 188.36 L56.72 188.36 L57.15 188.36 L57.59 188.36 L58.03 188.36 L58.46 188.36 L58.9 188.36 L59.33 188.36 L59.77 188.36 L60.2 188.36 L60.64 188.36 L61.07 188.36 L61.51 188.37 L61.95 188.37 L62.38 188.37 L62.82 188.37 L63.25 188.37 L63.69 188.37 L64.12 188.37 L64.56 188.37 L65 188.37 L65.43 188.37 L65.87 188.37 L66.3 188.37 L66.74 188.37 L67.17 188.37 L67.61 188.37 L68.04 188.37 L68.48 188.37 L68.92 188.37 L69.35 188.37 L69.79 188.37 L70.22 188.37 L70.66 188.37 L71.09 188.37 L71.53 188.37 L71.97 188.37 L72.4 188.37 L72.84 188.37 L73.27 188.37 L73.71 188.37 L74.14 188.37 L74.58 188.37 L75.02 188.37 L75.45 188.37 L75.89 188.37 L76.32 188.37 L76.76 188.37 L77.19 188.37 L77.63 188.37 L78.06 188.37 L78.5 188.37 L78.94 188.37 L79.37 188.37 L79.81 188.37 L80.24 188.37 L80.68 188.37 L81.11 188.37 L81.55 188.37 L81.99 188.37 L82.42 188.37 L82.86 188.37 L83.29 188.37 L83.73 188.37 L84.16 188.37 L84.6 188.37 L85.03 188.37 L85.47 188.37 L85.91 188.37 L86.34 188.37 L86.78 188.37 L87.21 188.37 L87.65 188.37 L88.08 188.37 L88.52 188.37 L88.96 188.37 L89.39 188.37 L89.83 188.37 L90.26 188.37 L90.7 188.37 L91.13 188.37 L91.57 188.37 L92 188.37 L92.44 188.37 L92.88 188.37 L93.31 188.37 L93.75 188.37 L94.18 188.37 L94.62 188.37 L95.05 188.37 L95.49 188.37 L95.93 188.37 L96.36 188.37 L96.8 188.37 L97.23 188.37 L97.67 188.37 L98.1 188.37 L98.54 188.37 L98.98 188.37 L99.41 188.37 L99.85 188.37 L100.28 188.37 L100.72 188.37 L101.15 188.37 L101.59 188.37 L102.02 188.37 L102.46 188.37 L102.9 188.37 L103.33 188.37 L103.77 188.37 L104.2 188.37 L104.64 188.37 L105.07 188.37 L105.51 188.37 L105.95 188.37 L106.38 188.37 L106.82 188.37 L107.25 188.37 L107.69 188.37 L108.12 188.37 L108.56 188.37 L108.99 188.37 L109.43 188.37 L109.87 188.37 L110.3 188.37 L110.74 188.37 L111.17 188.37 L111.61 188.37 L112.04 188.37 L112.48 188.37 L112.92 188.37 L113.35 188.37 L113.79 188.37 L114.22 188.37 L114.66 188.37 L115.09 188.37 L115.53 188.37 L115.96 188.37 L116.4 188.37 L116.84 188.37 L117.27 188.37 L117.71 188.37 L118.14 188.37 L118.58 188.37 L119.01 188.37 L119.45 188.37 L119.89 188.37 L120.32 188.37 L120.76 188.37 L121.19 188.37 L121.63 188.37 L122.06 188.37 L122.5 188.37 L122.93 188.37 L123.37 188.37 L123.81 188.37 L124.24 188.37 L124.68 188.37 L125.11 188.37 L125.55 188.37 L125.98 188.37 L126.42 188.37 L126.86 188.37 L127.29 188.37 L127.73 188.37 L128.16 188.37 L128.6 188.37 L129.03 188.37 L129.47 188.37 L129.91 188.37 L130.34 188.37 L130.78 188.37 L131.21 188.37 L131.65 188.37 L132.08 188.37 L132.52 188.37 L132.95 188.37 L133.39 188.37 L133.83 188.37 L134.26 188.37 L134.7 188.37 L135.13 188.37 L135.57 188.37 L136 188.37 L136.44 188.37 L136.88 188.37 L137.31 188.37 L137.75 188.37 L138.18 188.37 L138.62 188.37 L139.05 188.37 L139.49 188.37 L139.92 188.37 L140.36 188.37 L140.8 188.37 L141.23 188.37 L141.67 188.37 L142.1 188.37 L142.54 188.37 L142.97 188.37 L143.41 188.37 L143.85 188.37 L144.28 188.37 L144.72 188.37 L145.15 188.37 L145.59 188.37 L146.02 188.37 L146.46 188.37 L146.89 188.37 L147.33 188.37 L147.77 188.37 L148.2 188.37 L148.64 188.37 L149.07 188.37 L149.51 188.37 L149.94 188.37 L150.38 188.37 L150.82 188.37 L151.25 188.37 L151.69 188.37 L152.12 188.37 L152.56 188.37 L152.99 188.37 L153.43 188.37 L153.86 188.37 L154.3 188.37 L154.74 188.37 L155.17 188.37 L155.61 188.37 L156.04 188.37 L156.48 188.37 L156.91 188.37 L157.35 188.37 L157.79 188.37 L158.22 188.37 L158.66 188.37 L159.09 188.37 L159.53 188.37 L159.96 188.37 L160.4 188.37 L160.84 188.37 L161.27 188.37 L161.71 188.37 L162.14 188.37 L162.58 188.37 L163.01 188.37 L163.45 188.37 L163.88 188.37 L164.32 188.37 L164.76 188.37 L165.19 188.37 L165.63 188.37 L166.06 188.37 L166.5 188.37 L166.93 188.37 L167.37 188.37 L167.81 188.37 L168.24 188.37 L168.68 188.37 L169.11 188.37 L169.55 188.37 L169.98 188.37 L170.42 188.37 L170.85 188.37 L171.29 188.37 L171.73 188.37 L172.16 188.37 L172.6 188.37 L173.03 188.37 L173.47 188.37 L173.9 188.37 L174.34 188.37 L174.78 188.37 L175.21 188.37 L175.65 188.37 L176.08 188.37 L176.52 188.37 L176.95 188.37 L177.39 188.37 L177.82 188.37 L178.26 188.37 L178.7 188.37 L179.13 188.37 L179.57 188.37 L180 188.37 L180.44 188.37 L180.87 188.37 L181.31 188.37 L181.75 188.37 L182.18 188.37 L182.62 188.37 L183.05 188.37 L183.49 188.37 L183.92 188.37 L184.36 188.37 L184.8 188.37 L185.23 188.37 L185.67 188.37 L186.1 188.37 L186.54 188.37 L186.97 188.37 L187.41 188.37 L187.84 188.37 L188.28 188.37 L188.72 188.37 L189.15 188.37 L189.59 188.37 L190.02 188.37 L190.46 188.37 L190.89 188.37 L191.33 188.37 L191.77 188.37 L192.2 188.37 L192.64 188.37 L193.07 188.37 L193.51 188.37 L193.94 188.37 L194.38 188.37 L194.81 188.37 L195.25 188.37 L195.69 188.37 L196.12 188.37 L196.56 188.37 L196.99 188.37 L197.43 188.37 L197.86 188.37 L198.3 188.37 L198.74 188.37 L199.17 188.37 L199.61 188.37 L200.04 188.37 L200.48 188.37 L200.91 188.37 L201.35 188.37 L201.78 188.37 L202.22 188.37 L202.66 188.37 L203.09 188.37 L203.53 188.37 L203.96 188.37 L204.4 188.37 L204.83 188.37 L205.27 188.37 L205.71 188.37 L206.14 188.37 L206.58 188.37 L207.01 188.37 L207.45 188.37 L207.88 188.37 L208.32 188.37 L208.75 188.37 L209.19 188.37 L209.63 188.37 L210.06 188.37 L210.5 188.37 L210.93 188.37 L211.37 188.37 L211.8 188.37 L212.24 188.37 L212.68 188.37 L213.11 188.37 L213.55 188.37 L213.98 188.37 L214.42 188.37" fill="none" stroke="#f2b27a" stroke-width="0.8" stroke-linejoin="round" />
<path d="M40.6 304.4 L41.04 304.36 L41.47 304.26 L41.91 304.08 L42.34 303.85 L42.78 303.55 L43.21 303.2 L43.65 302.79 L44.09 302.33 L44.52 301.82 L44.96 301.27 L45.39 300.68 L45.83 300.04 L46.26 299.37 L46.7 298.66 L47.13 297.92 L47.57 297.14 L48.01 296.34 L48.44 295.51 L48.88 294.65 L49.31 293.77 L49.75 292.86 L50.18 291.94 L50.62 291 L51.06 290.04 L51.49 289.06 L51.93 288.07 L52.36 287.07 L52.8 286.06 L53.23 285.03 L53.67 283.99 L54.1 282.95 L54.54 281.9 L54.98 280.84 L55.41 279.78 L55.85 278.71 L56.28 277.64 L56.72 276.57 L57.15 275.49 L57.59 274.42 L58.03 273.34 L58.46 272.26 L58.9 271.19 L59.33 270.11 L59.77 269.04 L60.2 267.97 L60.64 266.9 L61.07 265.84 L61.51 264.78 L61.95 263.73 L62.38 262.68 L62.82 261.64 L63.25 260.6 L63.69 259.57 L64.12 258.54 L64.56 257.52 L65 256.51 L65.43 255.51 L65.87 254.51 L66.3 253.53 L66.74 252.55 L67.17 251.58 L67.61 250.61 L68.04 249.66 L68.48 248.71 L68.92 247.78 L69.35 246.85 L69.79 245.93 L70.22 245.03 L70.66 244.13 L71.09 243.24 L71.53 242.36 L71.97 241.49 L72.4 240.63 L72.84 239.78 L73.27 238.94 L73.71 238.11 L74.14 237.29 L74.58 236.48 L75.02 235.68 L75.45 234.89 L75.89 234.11 L76.32 233.34 L76.76 232.58 L77.19 231.83 L77.63 231.09 L78.06 230.36 L78.5 229.64 L78.94 228.93 L79.37 228.23 L79.81 227.54 L80.24 226.85 L80.68 226.18 L81.11 225.52 L81.55 224.87 L81.99 224.22 L82.42 223.59 L82.86 222.97 L83.29 222.35 L83.73 221.74 L84.16 221.15 L84.6 220.56 L85.03 219.98 L85.47 219.41 L85.91 218.85 L86.34 218.3 L86.78 217.75 L87.21 217.22 L87.65 216.69 L88.08 216.17 L88.52 215.66 L88.96 215.16 L89.39 214.66 L89.83 214.18 L90.26 213.7 L90.7 213.23 L91.13 212.77 L91.57 212.31 L92 211.86 L92.44 211.42 L92.88 210.99 L93.31 210.57 L93.75 210.15 L94.18 209.74 L94.62 209.33 L95.05 208.93 L95.49 208.54 L95.93 208.16 L96.36 207.78 L96.8 207.41 L97.23 207.05 L97.67 206.69 L98.1 206.34 L98.54 205.99 L98.98 205.65 L99.41 205.32 L99.85 204.99 L100.28 204.67 L100.72 204.35 L101.15 204.04 L101.59 203.74 L102.02 203.44 L102.46 203.14 L102.9 202.85 L103.33 202.57 L103.77 202.29 L104.2 202.02 L104.64 201.75 L105.07 201.49 L105.51 201.23 L105.95 200.97 L106.38 200.72 L106.82 200.48 L107.25 200.24 L107.69 200 L108.12 199.77 L108.56 199.54 L108.99 199.32 L109.43 199.1 L109.87 198.89 L110.3 198.68 L110.74 198.47 L111.17 198.27 L111.61 198.07 L112.04 197.87 L112.48 197.68 L112.92 197.5 L113.35 197.31 L113.79 197.13 L114.22 196.95 L114.66 196.78 L115.09 196.61 L115.53 196.44 L115.96 196.28 L116.4 196.12 L116.84 195.96 L117.27 195.8 L117.71 195.65 L118.14 195.5 L118.58 195.36 L119.01 195.22 L119.45 195.07 L119.89 194.94 L120.32 194.8 L120.76 194.67 L121.19 194.54 L121.63 194.41 L122.06 194.29 L122.5 194.17 L122.93 194.05 L123.37 193.93 L123.81 193.81 L124.24 193.7 L124.68 193.59 L125.11 193.48 L125.55 193.38 L125.98 193.27 L126.42 193.17 L126.86 193.07 L127.29 192.97 L127.73 192.88 L128.16 192.78 L128.6 192.69 L129.03 192.6 L129.47 192.51 L129.91 192.43 L130.34 192.34 L130.78 192.26 L131.21 192.18 L131.65 192.1 L132.08 192.02 L132.52 191.94 L132.95 191.87 L133.39 191.79 L133.83 191.72 L134.26 191.65 L134.7 191.58 L135.13 191.51 L135.57 191.45 L136 191.38 L136.44 191.32 L136.88 191.25 L137.31 191.19 L137.75 191.13 L138.18 191.07 L138.62 191.02 L139.05 190.96 L139.49 190.91 L139.92 190.85 L140.36 190.8 L140.8 190.75 L141.23 190.7 L141.67 190.65 L142.1 190.6 L142.54 190.55 L142.97 190.5 L143.41 190.46 L143.85 190.41 L144.28 190.37 L144.72 190.33 L145.15 190.28 L145.59 190.24 L146.02 190.2 L146.46 190.16 L146.89 190.13 L147.33 190.09 L147.77 190.05 L148.2 190.01 L148.64 189.98 L149.07 189.94 L149.51 189.91 L149.94 189.88 L150.38 189.84 L150.82 189.81 L151.25 189.78 L151.69 189.75 L152.12 189.72 L152.56 189.69 L152.99 189.66 L153.43 189.63 L153.86 189.61 L154.3 189.58 L154.74 189.55 L155.17 189.53 L155.61 189.5 L156.04 189.48 L156.48 189.45 L156.91 189.43 L157.35 189.41 L157.79 189.38 L158.22 189.36 L158.66 189.34 L159.09 189.32 L159.53 189.3 L159.96 189.28 L160.4 189.26 L160.84 189.24 L161.27 189.22 L161.71 189.2 L162.14 189.18 L162.58 189.17 L163.01 189.15 L163.45 189.13 L163.88 189.11 L164.32 189.1 L164.76 189.08 L165.19 189.07 L165.63 189.05 L166.06 189.04 L166.5 189.02 L166.93 189.01 L167.37 188.99 L167.81 188.98 L168.24 188.97 L168.68 188.95 L169.11 188.94 L169.55 188.93 L169.98 188.91 L170.42 188.9 L170.85 188.89 L171.29 188.88 L171.73 188.87 L172.16 188.86 L172.6 188.85 L173.03 188.83 L173.47 188.82 L173.9 188.81 L174.34 188.8 L174.78 188.79 L175.21 188.79 L175.65 188.78 L176.08 188.77 L176.52 188.76 L176.95 188.75 L177.39 188.74 L177.82 188.73 L178.26 188.72 L178.7 188.72 L179.13 188.71 L179.57 188.7 L180 188.69 L180.44 188.69 L180.87 188.68 L181.31 188.67 L181.75 188.67 L182.18 188.66 L182.62 188.65 L183.05 188.65 L183.49 188.64 L183.92 188.63 L184.36 188.63 L184.8 188.62 L185.23 188.62 L185.67 188.61 L186.1 188.61 L186.54 188.6 L186.97 188.59 L187.41 188.59 L187.84 188.58 L188.28 188.58 L188.72 188.57 L189.15 188.57 L189.59 188.57 L190.02 188.56 L190.46 188.56 L190.89 188.55 L191.33 188.55 L191.77 188.54 L192.2 188.54 L192.64 188.54 L193.07 188.53 L193.51 188.53 L193.94 188.53 L194.38 188.52 L194.81 188.52 L195.25 188.51 L195.69 188.51 L196.12 188.51 L196.56 188.5 L196.99 188.5 L197.43 188.5 L197.86 188.5 L198.3 188.49 L198.74 188.49 L199.17 188.49 L199.61 188.48 L200.04 188.48 L200.48 188.48 L200.91 188.48 L201.35 188.47 L201.78 188.47 L202.22 188.47 L202.66 188.47 L203.09 188.46 L203.53 188.46 L203.96 188.46 L204.4 188.46 L204.83 188.46 L205.27 188.45 L205.71 188.45 L206.14 188.45 L206.58 188.45 L207.01 188.45 L207.45 188.44 L207.88 188.44 L208.32 188.44 L208.75 188.44 L209.19 188.44 L209.63 188.44 L210.06 188.43 L210.5 188.43 L210.93 188.43 L211.37 188.43 L211.8 188.43 L212.24 188.43 L212.68 188.43 L213.11 188.42 L213.55 188.42 L213.98 188.42 L214.42 188.42" fill="none" stroke="#4a4a4a" stroke-width="0.8" stroke-linejoin="round" />
<path d="M40.6 304.4 L41.04 301.57 L41.47 298.88 L41.91 296.33 L42.34 293.9 L42.78 291.61 L43.21 289.43 L43.65 287.37 L44.09 285.42 L44.52 283.59 L44.96 281.85 L45.39 280.21 L45.83 278.67 L46.26 277.22 L46.7 275.86 L47.13 274.58 L47.57 273.39 L48.01 272.27 L48.44 271.23 L48.88 270.26 L49.31 269.36 L49.75 268.52 L50.18 267.75 L50.62 267.04 L51.06 266.39 L51.49 265.79 L51.93 265.24 L52.36 264.75 L52.8 264.31 L53.23 263.91 L53.67 263.56 L54.1 263.25 L54.54 262.98 L54.98 262.75 L55.41 262.56 L55.85 262.4 L56.28 262.28 L56.72 262.19 L57.15 262.12 L57.59 262.09 L58.03 262.09 L58.46 262.11 L58.9 262.16 L59.33 262.23 L59.77 262.33 L60.2 262.44 L60.64 262.58 L61.07 262.74 L61.51 262.91 L61.95 263.1 L62.38 263.31 L62.82 263.53 L63.25 263.77 L63.69 264.02 L64.12 264.28 L64.56 264.56 L65 264.84 L65.43 265.14 L65.87 265.45 L66.3 265.76 L66.74 266.09 L67.17 266.42 L67.61 266.76 L68.04 267.1 L68.48 267.46 L68.92 267.81 L69.35 268.18 L69.79 268.54 L70.22 268.92 L70.66 269.29 L71.09 269.67 L71.53 270.05 L71.97 270.44 L72.4 270.82 L72.84 271.21 L73.27 271.6 L73.71 271.99 L74.14 272.38 L74.58 272.78 L75.02 273.17 L75.45 273.56 L75.89 273.95 L76.32 274.35 L76.76 274.74 L77.19 275.13 L77.63 275.52 L78.06 275.91 L78.5 276.29 L78.94 276.68 L79.37 277.06 L79.81 277.44 L80.24 277.82 L80.68 278.2 L81.11 278.58 L81.55 278.95 L81.99 279.32 L82.42 279.69 L82.86 280.05 L83.29 280.41 L83.73 280.77 L84.16 281.13 L84.6 281.48 L85.03 281.83 L85.47 282.18 L85.91 282.52 L86.34 282.86 L86.78 283.2 L87.21 283.53 L87.65 283.86 L88.08 284.19 L88.52 284.51 L88.96 284.83 L89.39 285.15 L89.83 285.46 L90.26 285.77 L90.7 286.07 L91.13 286.37 L91.57 286.67 L92 286.96 L92.44 287.25 L92.88 287.54 L93.31 287.82 L93.75 288.1 L94.18 288.38 L94.62 288.65 L95.05 288.92 L95.49 289.19 L95.93 289.45 L96.36 289.7 L96.8 289.96 L97.23 290.21 L97.67 290.46 L98.1 290.7 L98.54 290.94 L98.98 291.18 L99.41 291.41 L99.85 291.64 L100.28 291.87 L100.72 292.09 L101.15 292.31 L101.59 292.53 L102.02 292.74 L102.46 292.95 L102.9 293.16 L103.33 293.36 L103.77 293.56 L104.2 293.76 L104.64 293.95 L105.07 294.14 L105.51 294.33 L105.95 294.52 L106.38 294.7 L106.82 294.88 L107.25 295.05 L107.69 295.23 L108.12 295.4 L108.56 295.56 L108.99 295.73 L109.43 295.89 L109.87 296.05 L110.3 296.21 L110.74 296.36 L111.17 296.51 L111.61 296.66 L112.04 296.81 L112.48 296.95 L112.92 297.09 L113.35 297.23 L113.79 297.37 L114.22 297.5 L114.66 297.64 L115.09 297.77 L115.53 297.89 L115.96 298.02 L116.4 298.14 L116.84 298.26 L117.27 298.38 L117.71 298.5 L118.14 298.61 L118.58 298.73 L119.01 298.84 L119.45 298.94 L119.89 299.05 L120.32 299.16 L120.76 299.26 L121.19 299.36 L121.63 299.46 L122.06 299.56 L122.5 299.65 L122.93 299.74 L123.37 299.84 L123.81 299.93 L124.24 300.02 L124.68 300.1 L125.11 300.19 L125.55 300.27 L125.98 300.35 L126.42 300.43 L126.86 300.51 L127.29 300.59 L127.73 300.67 L128.16 300.74 L128.6 300.82 L129.03 300.89 L129.47 300.96 L129.91 301.03 L130.34 301.1 L130.78 301.16 L131.21 301.23 L131.65 301.29 L132.08 301.36 L132.52 301.42 L132.95 301.48 L133.39 301.54 L133.83 301.6 L134.26 301.65 L134.7 301.71 L135.13 301.76 L135.57 301.82 L136 301.87 L136.44 301.92 L136.88 301.97 L137.31 302.02 L137.75 302.07 L138.18 302.12 L138.62 302.17 L139.05 302.21 L139.49 302.26 L139.92 302.3 L140.36 302.34 L140.8 302.39 L141.23 302.43 L141.67 302.47 L142.1 302.51 L142.54 302.55 L142.97 302.59 L143.41 302.62 L143.85 302.66 L144.28 302.7 L144.72 302.73 L145.15 302.77 L145.59 302.8 L146.02 302.84 L146.46 302.87 L146.89 302.9 L147.33 302.93 L147.77 302.96 L148.2 302.99 L148.64 303.02 L149.07 303.05 L149.51 303.08 L149.94 303.11 L150.38 303.13 L150.82 303.16 L151.25 303.19 L151.69 303.21 L152.12 303.24 L152.56 303.26 L152.99 303.29 L153.43 303.31 L153.86 303.33 L154.3 303.36 L154.74 303.38 L155.17 303.4 L155.61 303.42 L156.04 303.44 L156.48 303.46 L156.91 303.48 L157.35 303.5 L157.79 303.52 L158.22 303.54 L158.66 303.56 L159.09 303.57 L159.53 303.59 L159.96 303.61 L160.4 303.63 L160.84 303.64 L161.27 303.66 L161.71 303.68 L162.14 303.69 L162.58 303.71 L163.01 303.72 L163.45 303.74 L163.88 303.75 L164.32 303.76 L164.76 303.78 L165.19 303.79 L165.63 303.8 L166.06 303.82 L166.5 303.83 L166.93 303.84 L167.37 303.85 L167.81 303.87 L168.24 303.88 L168.68 303.89 L169.11 303.9 L169.55 303.91 L169.98 303.92 L170.42 303.93 L170.85 303.94 L171.29 303.95 L171.73 303.96 L172.16 303.97 L172.6 303.98 L173.03 303.99 L173.47 304 L173.9 304.01 L174.34 304.01 L174.78 304.02 L175.21 304.03 L175.65 304.04 L176.08 304.05 L176.52 304.06 L176.95 304.06 L177.39 304.07 L177.82 304.08 L178.26 304.08 L178.7 304.09 L179.13 304.1 L179.57 304.1 L180 304.11 L180.44 304.12 L180.87 304.12 L181.31 304.13 L181.75 304.14 L182.18 304.14 L182.62 304.15 L183.05 304.15 L183.49 304.16 L183.92 304.16 L184.36 304.17 L184.8 304.17 L185.23 304.18 L185.67 304.18 L186.1 304.19 L186.54 304.19 L186.97 304.2 L187.41 304.2 L187.84 304.21 L188.28 304.21 L188.72 304.21 L189.15 304.22 L189.59 304.22 L190.02 304.23 L190.46 304.23 L190.89 304.23 L191.33 304.24 L191.77 304.24 L192.2 304.24 L192.64 304.25 L193.07 304.25 L193.51 304.25 L193.94 304.26 L194.38 304.26 L194.81 304.26 L195.25 304.27 L195.69 304.27 L196.12 304.27 L196.56 304.28 L196.99 304.28 L197.43 304.28 L197.86 304.28 L198.3 304.29 L198.74 304.29 L199.17 304.29 L199.61 304.29 L200.04 304.3 L200.48 304.3 L200.91 304.3 L201.35 304.3 L201.78 304.31 L202.22 304.31 L202.66 304.31 L203.09 304.31 L203.53 304.31 L203.96 304.32 L204.4 304.32 L204.83 304.32 L205.27 304.32 L205.71 304.32 L206.14 304.32 L206.58 304.33 L207.01 304.33 L207.45 304.33 L207.88 304.33 L208.32 304.33 L208.75 304.33 L209.19 304.34 L209.63 304.34 L210.06 304.34 L210.5 304.34 L210.93 304.34 L211.37 304.34 L211.8 304.34 L212.24 304.34 L212.68 304.35 L213.11 304.35 L213.55 304.35 L213.98 304.35 L214.42 304.35" fill="none" stroke="#e88282" stroke-width="0.8" stroke-linejoin="round" />
<path d="M40.6 185.43 L41.04 188.42 L41.47 191.33 L41.91 194.16 L42.34 196.93 L42.78 199.63 L43.21 202.26 L43.65 204.82 L44.09 207.32 L44.52 209.75 L44.96 212.13 L45.39 214.44 L45.83 216.7 L46.26 218.9 L46.7 221.05 L47.13 223.14 L47.57 225.18 L48.01 227.17 L48.44 229.1 L48.88 230.99 L49.31 232.84 L49.75 234.63 L50.18 236.38 L50.62 238.09 L51.06 239.75 L51.49 241.38 L51.93 242.96 L52.36 244.5 L52.8 246 L53.23 247.47 L53.67 248.9 L54.1 250.29 L54.54 251.65 L54.98 252.97 L55.41 254.26 L55.85 255.52 L56.28 256.75 L56.72 257.94 L57.15 259.11 L57.59 260.24 L58.03 261.35 L58.46 262.43 L58.9 263.49 L59.33 264.51 L59.77 265.51 L60.2 266.49 L60.64 267.44 L61.07 268.37 L61.51 269.27 L61.95 270.15 L62.38 271.01 L62.82 271.85 L63.25 272.67 L63.69 273.46 L64.12 274.24 L64.56 275 L65 275.73 L65.43 276.45 L65.87 277.15 L66.3 277.84 L66.74 278.51 L67.17 279.15 L67.61 279.79 L68.04 280.41 L68.48 281.01 L68.92 281.59 L69.35 282.17 L69.79 282.73 L70.22 283.27 L70.66 283.8 L71.09 284.32 L71.53 284.82 L71.97 285.31 L72.4 285.79 L72.84 286.26 L73.27 286.71 L73.71 287.16 L74.14 287.59 L74.58 288.01 L75.02 288.42 L75.45 288.82 L75.89 289.21 L76.32 289.6 L76.76 289.97 L77.19 290.33 L77.63 290.68 L78.06 291.03 L78.5 291.36 L78.94 291.69 L79.37 292.01 L79.81 292.32 L80.24 292.62 L80.68 292.92 L81.11 293.21 L81.55 293.49 L81.99 293.76 L82.42 294.03 L82.86 294.29 L83.29 294.54 L83.73 294.79 L84.16 295.03 L84.6 295.27 L85.03 295.49 L85.47 295.72 L85.91 295.94 L86.34 296.15 L86.78 296.36 L87.21 296.56 L87.65 296.75 L88.08 296.95 L88.52 297.13 L88.96 297.32 L89.39 297.49 L89.83 297.67 L90.26 297.84 L90.7 298 L91.13 298.16 L91.57 298.32 L92 298.47 L92.44 298.62 L92.88 298.76 L93.31 298.91 L93.75 299.04 L94.18 299.18 L94.62 299.31 L95.05 299.44 L95.49 299.56 L95.93 299.68 L96.36 299.8 L96.8 299.92 L97.23 300.03 L97.67 300.14 L98.1 300.25 L98.54 300.35 L98.98 300.45 L99.41 300.55 L99.85 300.65 L100.28 300.74 L100.72 300.83 L101.15 300.92 L101.59 301.01 L102.02 301.09 L102.46 301.18 L102.9 301.26 L103.33 301.34 L103.77 301.41 L104.2 301.49 L104.64 301.56 L105.07 301.63 L105.51 301.7 L105.95 301.77 L106.38 301.84 L106.82 301.9 L107.25 301.96 L107.69 302.02 L108.12 302.08 L108.56 302.14 L108.99 302.2 L109.43 302.25 L109.87 302.31 L110.3 302.36 L110.74 302.41 L111.17 302.46 L111.61 302.51 L112.04 302.56 L112.48 302.6 L112.92 302.65 L113.35 302.69 L113.79 302.74 L114.22 302.78 L114.66 302.82 L115.09 302.86 L115.53 302.9 L115.96 302.93 L116.4 302.97 L116.84 303.01 L117.27 303.04 L117.71 303.08 L118.14 303.11 L118.58 303.14 L119.01 303.17 L119.45 303.2 L119.89 303.23 L120.32 303.26 L120.76 303.29 L121.19 303.32 L121.63 303.35 L122.06 303.37 L122.5 303.4 L122.93 303.42 L123.37 303.45 L123.81 303.47 L124.24 303.5 L124.68 303.52 L125.11 303.54 L125.55 303.56 L125.98 303.58 L126.42 303.6 L126.86 303.62 L127.29 303.64 L127.73 303.66 L128.16 303.68 L128.6 303.7 L129.03 303.72 L129.47 303.73 L129.91 303.75 L130.34 303.77 L130.78 303.78 L131.21 303.8 L131.65 303.81 L132.08 303.83 L132.52 303.84 L132.95 303.86 L133.39 303.87 L133.83 303.88 L134.26 303.9 L134.7 303.91 L135.13 303.92 L135.57 303.93 L136 303.94 L136.44 303.96 L136.88 303.97 L137.31 303.98 L137.75 303.99 L138.18 304 L138.62 304.01 L139.05 304.02 L139.49 304.03 L139.92 304.04 L140.36 304.05 L140.8 304.06 L141.23 304.06 L141.67 304.07 L142.1 304.08 L142.54 304.09 L142.97 304.1 L143.41 304.1 L143.85 304.11 L144.28 304.12 L144.72 304.13 L145.15 304.13 L145.59 304.14 L146.02 304.15 L146.46 304.15 L146.89 304.16 L147.33 304.16 L147.77 304.17 L148.2 304.18 L148.64 304.18 L149.07 304.19 L149.51 304.19 L149.94 304.2 L150.38 304.2 L150.82 304.21 L151.25 304.21 L151.69 304.22 L152.12 304.22 L152.56 304.23 L152.99 304.23 L153.43 304.24 L153.86 304.24 L154.3 304.24 L154.74 304.25 L155.17 304.25 L155.61 304.25 L156.04 304.26 L156.48 304.26 L156.91 304.27 L157.35 304.27 L157.79 304.27 L158.22 304.28 L158.66 304.28 L159.09 304.28 L159.53 304.28 L159.96 304.29 L160.4 304.29 L160.84 304.29 L161.27 304.3 L161.71 304.3 L162.14 304.3 L162.58 304.3 L163.01 304.31 L163.45 304.31 L163.88 304.31 L164.32 304.31 L164.76 304.31 L165.19 304.32 L165.63 304.32 L166.06 304.32 L166.5 304.32 L166.93 304.33 L167.37 304.33 L167.81 304.33 L168.24 304.33 L168.68 304.33 L169.11 304.33 L169.55 304.34 L169.98 304.34 L170.42 304.34 L170.85 304.34 L171.29 304.34 L171.73 304.34 L172.16 304.34 L172.6 304.35 L173.03 304.35 L173.47 304.35 L173.9 304.35 L174.34 304.35 L174.78 304.35 L175.21 304.35 L175.65 304.35 L176.08 304.36 L176.52 304.36 L176.95 304.36 L177.39 304.36 L177.82 304.36 L178.26 304.36 L178.7 304.36 L179.13 304.36 L179.57 304.36 L180 304.37 L180.44 304.37 L180.87 304.37 L181.31 304.37 L181.75 304.37 L182.18 304.37 L182.62 304.37 L183.05 304.37 L183.49 304.37 L183.92 304.37 L184.36 304.37 L184.8 304.37 L185.23 304.37 L185.67 304.37 L186.1 304.38 L186.54 304.38 L186.97 304.38 L187.41 304.38 L187.84 304.38 L188.28 304.38 L188.72 304.38 L189.15 304.38 L189.59 304.38 L190.02 304.38 L190.46 304.38 L190.89 304.38 L191.33 304.38 L191.77 304.38 L192.2 304.38 L192.64 304.38 L193.07 304.38 L193.51 304.38 L193.94 304.38 L194.38 304.38 L194.81 304.39 L195.25 304.39 L195.69 304.39 L196.12 304.39 L196.56 304.39 L196.99 304.39 L197.43 304.39 L197.86 304.39 L198.3 304.39 L198.74 304.39 L199.17 304.39 L199.61 304.39 L200.04 304.39 L200.48 304.39 L200.91 304.39 L201.35 304.39 L201.78 304.39 L202.22 304.39 L202.66 304.39 L203.09 304.39 L203.53 304.39 L203.96 304.39 L204.4 304.39 L204.83 304.39 L205.27 304.39 L205.71 304.39 L206.14 304.39 L206.58 304.39 L207.01 304.39 L207.45 304.39 L207.88 304.39 L208.32 304.39 L208.75 304.39 L209.19 304.39 L209.63 304.39 L210.06 304.39 L210.5 304.39 L210.93 304.39 L211.37 304.39 L211.8 304.39 L212.24 304.39 L212.68 304.39 L213.11 304.39 L213.55 304.4 L213.98 304.4 L214.42 304.4" fill="none" stroke="#8193d8" stroke-width="0.8" stroke-linejoin="round" />
<path d="M116.6 222.2 H130.1" stroke="#c9cdeb" stroke-width="1.3"/>
<text x="138.2" y="225.67" font-size="10.2" text-anchor="start" font-weight="normal" fill="#1a1a1a" >Trace 1</text>
<path d="M116.6 240.6 H130.1" stroke="#f0b4b4" stroke-width="1.3"/>
<text x="138.2" y="244.07" font-size="10.2" text-anchor="start" font-weight="normal" fill="#1a1a1a" >Trace 2</text>
<path d="M116.6 258.7 H130.1" stroke="#8e8e8e" stroke-width="1.3"/>
<text x="138.2" y="262.17" font-size="10.2" text-anchor="start" font-weight="normal" fill="#1a1a1a" >Trace 3</text>
<path d="M116.6 276.6 H130.1" stroke="#f5d0a8" stroke-width="1.3"/>
<text x="138.2" y="280.07" font-size="10.2" text-anchor="start" font-weight="normal" fill="#1a1a1a" >Total content</text>
<path d="M84.05 304.4 V299.4 M84.05 177.5 V182.5 M127.51 304.4 V299.4 M127.51 177.5 V182.5 M170.96 304.4 V299.4 M170.96 177.5 V182.5 M214.42 304.4 V299.4 M214.42 177.5 V182.5 M40.6 272.67 H45.6 M231.8 272.67 H226.8 M40.6 240.95 H45.6 M231.8 240.95 H226.8 M40.6 209.23 H45.6 M231.8 209.23 H226.8" stroke="#111" stroke-width="1.2" fill="none"/>
<rect x="40.6" y="177.5" width="191.2" height="126.9" fill="none" stroke="#111" stroke-width="1.4"/>
<text x="40.6" y="316.1" font-size="11" text-anchor="middle" font-weight="normal" fill="#1a1a1a" >0</text>
<text x="84.05" y="316.1" font-size="11" text-anchor="middle" font-weight="normal" fill="#1a1a1a" >5</text>
<text x="127.51" y="316.1" font-size="11" text-anchor="middle" font-weight="normal" fill="#1a1a1a" >10</text>
<text x="170.96" y="316.1" font-size="11" text-anchor="middle" font-weight="normal" fill="#1a1a1a" >15</text>
<text x="214.42" y="316.1" font-size="11" text-anchor="middle" font-weight="normal" fill="#1a1a1a" >20</text>
<text x="39.2" y="308.36" font-size="11" text-anchor="end" font-weight="normal" fill="#1a1a1a" >0.0</text>
<text x="39.2" y="276.63" font-size="11" text-anchor="end" font-weight="normal" fill="#1a1a1a" >0.2</text>
<text x="39.2" y="244.91" font-size="11" text-anchor="end" font-weight="normal" fill="#1a1a1a" >0.4</text>
<text x="39.2" y="213.19" font-size="11" text-anchor="end" font-weight="normal" fill="#1a1a1a" >0.6</text>
<text x="39.2" y="181.46" font-size="11" text-anchor="end" font-weight="normal" fill="#1a1a1a" >0.8</text>
<text x="136.7" y="335.1" font-size="12.4" text-anchor="middle" font-weight="normal" fill="#1a1a1a" >Time, s</text>
<text x="18.9" y="240.25" font-size="12.4" text-anchor="middle" font-weight="normal" fill="#1a1a1a" transform="rotate(-90 18.9 240.25)" >EV Absorbance</text>
<text x="48.5" y="201.8" font-size="19.5" text-anchor="start" font-weight="bold" fill="#1a1a1a" >D</text>
<path d="M40.6 304.4 V186.22" stroke="#232a58" stroke-width="1.4"/>
<path d="M283.6 187.05 L284.05 187.06 L284.5 187.06 L284.95 187.06 L285.4 187.07 L285.84 187.07 L286.29 187.07 L286.74 187.08 L287.19 187.08 L287.64 187.08 L288.09 187.09 L288.54 187.09 L288.99 187.09 L289.43 187.1 L289.88 187.1 L290.33 187.11 L290.78 187.11 L291.23 187.11 L291.68 187.12 L292.13 187.12 L292.58 187.12 L293.02 187.13 L293.47 187.13 L293.92 187.13 L294.37 187.14 L294.82 187.14 L295.27 187.14 L295.72 187.15 L296.17 187.15 L296.61 187.16 L297.06 187.16 L297.51 187.16 L297.96 187.17 L298.41 187.17 L298.86 187.17 L299.31 187.18 L299.76 187.18 L300.2 187.18 L300.65 187.19 L301.1 187.19 L301.55 187.19 L302 187.2 L302.45 187.2 L302.9 187.21 L303.35 187.21 L303.8 187.21 L304.24 187.22 L304.69 187.22 L305.14 187.22 L305.59 187.23 L306.04 187.23 L306.49 187.23 L306.94 187.24 L307.39 187.24 L307.83 187.24 L308.28 187.25 L308.73 187.25 L309.18 187.26 L309.63 187.26 L310.08 187.26 L310.53 187.27 L310.98 187.27 L311.42 187.27 L311.87 187.28 L312.32 187.28 L312.77 187.28 L313.22 187.29 L313.67 187.29 L314.12 187.29 L314.57 187.3 L315.01 187.3 L315.46 187.31 L315.91 187.31 L316.36 187.31 L316.81 187.32 L317.26 187.32 L317.71 187.32 L318.16 187.33 L318.6 187.33 L319.05 187.33 L319.5 187.34 L319.95 187.34 L320.4 187.34 L320.85 187.35 L321.3 187.35 L321.75 187.36 L322.19 187.36 L322.64 187.36 L323.09 187.37 L323.54 187.37 L323.99 187.37 L324.44 187.38 L324.89 187.38 L325.34 187.38 L325.79 187.39 L326.23 187.39 L326.68 187.39 L327.13 187.4 L327.58 187.4 L328.03 187.41 L328.48 187.41 L328.93 187.41 L329.38 187.42 L329.82 187.42 L330.27 187.42 L330.72 187.43 L331.17 187.43 L331.62 187.43 L332.07 187.44 L332.52 187.44 L332.97 187.44 L333.41 187.45 L333.86 187.45 L334.31 187.46 L334.76 187.46 L335.21 187.46 L335.66 187.47 L336.11 187.47 L336.56 187.47 L337 187.48 L337.45 187.48 L337.9 187.48 L338.35 187.49 L338.8 187.49 L339.25 187.49 L339.7 187.5 L340.15 187.5 L340.59 187.51 L341.04 187.51 L341.49 187.51 L341.94 187.52 L342.39 187.52 L342.84 187.52 L343.29 187.53 L343.74 187.53 L344.19 187.53 L344.63 187.54 L345.08 187.54 L345.53 187.54 L345.98 187.55 L346.43 187.55 L346.88 187.56 L347.33 187.56 L347.78 187.56 L348.22 187.57 L348.67 187.57 L349.12 187.57 L349.57 187.58 L350.02 187.58 L350.47 187.58 L350.92 187.59 L351.37 187.59 L351.81 187.59 L352.26 187.6 L352.71 187.6 L353.16 187.61 L353.61 187.61 L354.06 187.61 L354.51 187.62 L354.96 187.62 L355.4 187.62 L355.85 187.63 L356.3 187.63 L356.75 187.63 L357.2 187.64 L357.65 187.64 L358.1 187.64 L358.55 187.65 L358.99 187.65 L359.44 187.66 L359.89 187.66 L360.34 187.66 L360.79 187.67 L361.24 187.67 L361.69 187.67 L362.14 187.68 L362.58 187.68 L363.03 187.68 L363.48 187.69 L363.93 187.69 L364.38 187.7 L364.83 187.7 L365.28 187.7 L365.73 187.71 L366.18 187.71 L366.62 187.71 L367.07 187.72 L367.52 187.72 L367.97 187.72 L368.42 187.73 L368.87 187.73 L369.32 187.73 L369.77 187.74 L370.21 187.74 L370.66 187.75 L371.11 187.75 L371.56 187.75 L372.01 187.76 L372.46 187.76 L372.91 187.76 L373.36 187.77 L373.8 187.77 L374.25 187.77 L374.7 187.78 L375.15 187.78 L375.6 187.78 L376.05 187.79 L376.5 187.79 L376.95 187.8 L377.39 187.8 L377.84 187.8 L378.29 187.81 L378.74 187.81 L379.19 187.81 L379.64 187.82 L380.09 187.82 L380.54 187.82 L380.98 187.83 L381.43 187.83 L381.88 187.83 L382.33 187.84 L382.78 187.84 L383.23 187.85 L383.68 187.85 L384.13 187.85 L384.58 187.86 L385.02 187.86 L385.47 187.86 L385.92 187.87 L386.37 187.87 L386.82 187.87 L387.27 187.88 L387.72 187.88 L388.17 187.88 L388.61 187.89 L389.06 187.89 L389.51 187.9 L389.96 187.9 L390.41 187.9 L390.86 187.91 L391.31 187.91 L391.76 187.91 L392.2 187.92 L392.65 187.92 L393.1 187.92 L393.55 187.93 L394 187.93 L394.45 187.93 L394.9 187.94 L395.35 187.94 L395.79 187.95 L396.24 187.95 L396.69 187.95 L397.14 187.96 L397.59 187.96 L398.04 187.96 L398.49 187.97 L398.94 187.97 L399.38 187.97 L399.83 187.98 L400.28 187.98 L400.73 187.98 L401.18 187.99 L401.63 187.99 L402.08 188 L402.53 188 L402.98 188 L403.42 188.01 L403.87 188.01 L404.32 188.01 L404.77 188.02 L405.22 188.02 L405.67 188.02 L406.12 188.03 L406.57 188.03 L407.01 188.03 L407.46 188.04 L407.91 188.04 L408.36 188.05 L408.81 188.05 L409.26 188.05 L409.71 188.06 L410.16 188.06 L410.6 188.06 L411.05 188.07 L411.5 188.07 L411.95 188.07 L412.4 188.08 L412.85 188.08 L413.3 188.08 L413.75 188.09 L414.19 188.09 L414.64 188.1 L415.09 188.1 L415.54 188.1 L415.99 188.11 L416.44 188.11 L416.89 188.11 L417.34 188.12 L417.78 188.12 L418.23 188.12 L418.68 188.13 L419.13 188.13 L419.58 188.13 L420.03 188.14 L420.48 188.14 L420.93 188.15 L421.37 188.15 L421.82 188.15 L422.27 188.16 L422.72 188.16 L423.17 188.16 L423.62 188.17 L424.07 188.17 L424.52 188.17 L424.97 188.18 L425.41 188.18 L425.86 188.18 L426.31 188.19 L426.76 188.19 L427.21 188.2 L427.66 188.2 L428.11 188.2 L428.56 188.21 L429 188.21 L429.45 188.21 L429.9 188.22 L430.35 188.22 L430.8 188.22 L431.25 188.23 L431.7 188.23 L432.15 188.23 L432.59 188.24 L433.04 188.24 L433.49 188.25 L433.94 188.25 L434.39 188.25 L434.84 188.26 L435.29 188.26 L435.74 188.26 L436.18 188.27 L436.63 188.27 L437.08 188.27 L437.53 188.28 L437.98 188.28 L438.43 188.28 L438.88 188.29 L439.33 188.29 L439.77 188.3 L440.22 188.3 L440.67 188.3 L441.12 188.31 L441.57 188.31 L442.02 188.31 L442.47 188.32 L442.92 188.32 L443.37 188.32 L443.81 188.33 L444.26 188.33 L444.71 188.33 L445.16 188.34 L445.61 188.34 L446.06 188.35 L446.51 188.35 L446.96 188.35 L447.4 188.36 L447.85 188.36 L448.3 188.36 L448.75 188.37 L449.2 188.37 L449.65 188.37 L450.1 188.38 L450.55 188.38 L450.99 188.39 L451.44 188.39 L451.89 188.39 L452.34 188.4 L452.79 188.4 L453.24 188.4 L453.69 188.41 L454.14 188.41 L454.58 188.41 L455.03 188.42 L455.48 188.42 L455.93 188.42 L456.38 188.43 L456.83 188.43 L457.28 188.44 L457.73 188.44 L458.17 188.44 L458.62 188.45 L459.07 188.45 L459.52 188.45 L459.97 188.46 L460.42 188.46 L460.87 188.46 L461.32 188.47 L461.76 188.47 L462.21 188.47 L462.66 188.48" fill="none" stroke="#f2b27a" stroke-width="0.8" stroke-linejoin="round" />
<path d="M283.6 304.5 L284.05 304.47 L284.5 304.39 L284.95 304.25 L285.4 304.07 L285.84 303.84 L286.29 303.56 L286.74 303.24 L287.19 302.88 L287.64 302.49 L288.09 302.05 L288.54 301.58 L288.99 301.08 L289.43 300.55 L289.88 299.98 L290.33 299.39 L290.78 298.78 L291.23 298.13 L291.68 297.47 L292.13 296.78 L292.58 296.07 L293.02 295.35 L293.47 294.6 L293.92 293.84 L294.37 293.06 L294.82 292.27 L295.27 291.47 L295.72 290.65 L296.17 289.82 L296.61 288.98 L297.06 288.13 L297.51 287.27 L297.96 286.4 L298.41 285.52 L298.86 284.64 L299.31 283.76 L299.76 282.86 L300.2 281.97 L300.65 281.07 L301.1 280.16 L301.55 279.26 L302 278.35 L302.45 277.44 L302.9 276.53 L303.35 275.62 L303.8 274.7 L304.24 273.79 L304.69 272.88 L305.14 271.97 L305.59 271.06 L306.04 270.16 L306.49 269.26 L306.94 268.35 L307.39 267.46 L307.83 266.56 L308.28 265.67 L308.73 264.78 L309.18 263.9 L309.63 263.02 L310.08 262.14 L310.53 261.27 L310.98 260.41 L311.42 259.55 L311.87 258.69 L312.32 257.85 L312.77 257 L313.22 256.16 L313.67 255.33 L314.12 254.51 L314.57 253.69 L315.01 252.87 L315.46 252.06 L315.91 251.26 L316.36 250.47 L316.81 249.68 L317.26 248.9 L317.71 248.13 L318.16 247.36 L318.6 246.6 L319.05 245.84 L319.5 245.1 L319.95 244.36 L320.4 243.63 L320.85 242.9 L321.3 242.18 L321.75 241.47 L322.19 240.77 L322.64 240.07 L323.09 239.38 L323.54 238.7 L323.99 238.02 L324.44 237.35 L324.89 236.69 L325.34 236.04 L325.79 235.39 L326.23 234.75 L326.68 234.12 L327.13 233.49 L327.58 232.88 L328.03 232.26 L328.48 231.66 L328.93 231.06 L329.38 230.47 L329.82 229.89 L330.27 229.31 L330.72 228.74 L331.17 228.18 L331.62 227.62 L332.07 227.07 L332.52 226.53 L332.97 225.99 L333.41 225.46 L333.86 224.94 L334.31 224.42 L334.76 223.91 L335.21 223.41 L335.66 222.91 L336.11 222.42 L336.56 221.93 L337 221.46 L337.45 220.98 L337.9 220.52 L338.35 220.05 L338.8 219.6 L339.25 219.15 L339.7 218.71 L340.15 218.27 L340.59 217.84 L341.04 217.41 L341.49 216.99 L341.94 216.58 L342.39 216.17 L342.84 215.76 L343.29 215.37 L343.74 214.97 L344.19 214.59 L344.63 214.2 L345.08 213.83 L345.53 213.45 L345.98 213.09 L346.43 212.72 L346.88 212.37 L347.33 212.01 L347.78 211.67 L348.22 211.32 L348.67 210.99 L349.12 210.65 L349.57 210.33 L350.02 210 L350.47 209.68 L350.92 209.37 L351.37 209.06 L351.81 208.75 L352.26 208.45 L352.71 208.15 L353.16 207.86 L353.61 207.57 L354.06 207.28 L354.51 207 L354.96 206.72 L355.4 206.45 L355.85 206.18 L356.3 205.92 L356.75 205.65 L357.2 205.4 L357.65 205.14 L358.1 204.89 L358.55 204.64 L358.99 204.4 L359.44 204.16 L359.89 203.92 L360.34 203.69 L360.79 203.46 L361.24 203.23 L361.69 203.01 L362.14 202.79 L362.58 202.57 L363.03 202.36 L363.48 202.15 L363.93 201.94 L364.38 201.74 L364.83 201.54 L365.28 201.34 L365.73 201.14 L366.18 200.95 L366.62 200.76 L367.07 200.58 L367.52 200.39 L367.97 200.21 L368.42 200.03 L368.87 199.86 L369.32 199.68 L369.77 199.51 L370.21 199.34 L370.66 199.18 L371.11 199.01 L371.56 198.85 L372.01 198.69 L372.46 198.54 L372.91 198.38 L373.36 198.23 L373.8 198.08 L374.25 197.94 L374.7 197.79 L375.15 197.65 L375.6 197.51 L376.05 197.37 L376.5 197.23 L376.95 197.1 L377.39 196.97 L377.84 196.84 L378.29 196.71 L378.74 196.58 L379.19 196.46 L379.64 196.33 L380.09 196.21 L380.54 196.09 L380.98 195.98 L381.43 195.86 L381.88 195.75 L382.33 195.64 L382.78 195.53 L383.23 195.42 L383.68 195.31 L384.13 195.2 L384.58 195.1 L385.02 195 L385.47 194.9 L385.92 194.8 L386.37 194.7 L386.82 194.61 L387.27 194.51 L387.72 194.42 L388.17 194.33 L388.61 194.24 L389.06 194.15 L389.51 194.06 L389.96 193.97 L390.41 193.89 L390.86 193.8 L391.31 193.72 L391.76 193.64 L392.2 193.56 L392.65 193.48 L393.1 193.4 L393.55 193.33 L394 193.25 L394.45 193.18 L394.9 193.11 L395.35 193.03 L395.79 192.96 L396.24 192.89 L396.69 192.83 L397.14 192.76 L397.59 192.69 L398.04 192.63 L398.49 192.56 L398.94 192.5 L399.38 192.44 L399.83 192.37 L400.28 192.31 L400.73 192.25 L401.18 192.2 L401.63 192.14 L402.08 192.08 L402.53 192.03 L402.98 191.97 L403.42 191.92 L403.87 191.86 L404.32 191.81 L404.77 191.76 L405.22 191.71 L405.67 191.66 L406.12 191.61 L406.57 191.56 L407.01 191.51 L407.46 191.46 L407.91 191.42 L408.36 191.37 L408.81 191.33 L409.26 191.28 L409.71 191.24 L410.16 191.2 L410.6 191.15 L411.05 191.11 L411.5 191.07 L411.95 191.03 L412.4 190.99 L412.85 190.95 L413.3 190.91 L413.75 190.88 L414.19 190.84 L414.64 190.8 L415.09 190.76 L415.54 190.73 L415.99 190.69 L416.44 190.66 L416.89 190.63 L417.34 190.59 L417.78 190.56 L418.23 190.53 L418.68 190.49 L419.13 190.46 L419.58 190.43 L420.03 190.4 L420.48 190.37 L420.93 190.34 L421.37 190.31 L421.82 190.28 L422.27 190.26 L422.72 190.23 L423.17 190.2 L423.62 190.17 L424.07 190.15 L424.52 190.12 L424.97 190.1 L425.41 190.07 L425.86 190.05 L426.31 190.02 L426.76 190 L427.21 189.97 L427.66 189.95 L428.11 189.93 L428.56 189.9 L429 189.88 L429.45 189.86 L429.9 189.84 L430.35 189.82 L430.8 189.8 L431.25 189.78 L431.7 189.76 L432.15 189.74 L432.59 189.72 L433.04 189.7 L433.49 189.68 L433.94 189.66 L434.39 189.64 L434.84 189.62 L435.29 189.6 L435.74 189.59 L436.18 189.57 L436.63 189.55 L437.08 189.54 L437.53 189.52 L437.98 189.5 L438.43 189.49 L438.88 189.47 L439.33 189.46 L439.77 189.44 L440.22 189.43 L440.67 189.41 L441.12 189.4 L441.57 189.38 L442.02 189.37 L442.47 189.35 L442.92 189.34 L443.37 189.33 L443.81 189.31 L444.26 189.3 L444.71 189.29 L445.16 189.27 L445.61 189.26 L446.06 189.25 L446.51 189.24 L446.96 189.23 L447.4 189.21 L447.85 189.2 L448.3 189.19 L448.75 189.18 L449.2 189.17 L449.65 189.16 L450.1 189.15 L450.55 189.14 L450.99 189.13 L451.44 189.12 L451.89 189.11 L452.34 189.1 L452.79 189.09 L453.24 189.08 L453.69 189.07 L454.14 189.06 L454.58 189.05 L455.03 189.04 L455.48 189.03 L455.93 189.02 L456.38 189.02 L456.83 189.01 L457.28 189 L457.73 188.99 L458.17 188.98 L458.62 188.97 L459.07 188.97 L459.52 188.96 L459.97 188.95 L460.42 188.94 L460.87 188.94 L461.32 188.93 L461.76 188.92 L462.21 188.92 L462.66 188.91" fill="none" stroke="#4a4a4a" stroke-width="0.8" stroke-linejoin="round" />
<path d="M283.6 304.5 L284.05 301.09 L284.5 297.83 L284.95 294.73 L285.4 291.77 L285.84 288.96 L286.29 286.28 L286.74 283.73 L287.19 281.32 L287.64 279.02 L288.09 276.84 L288.54 274.77 L288.99 272.82 L289.43 270.97 L289.88 269.22 L290.33 267.56 L290.78 266 L291.23 264.54 L291.68 263.15 L292.13 261.85 L292.58 260.63 L293.02 259.49 L293.47 258.42 L293.92 257.43 L294.37 256.5 L294.82 255.64 L295.27 254.84 L295.72 254.1 L296.17 253.42 L296.61 252.79 L297.06 252.22 L297.51 251.7 L297.96 251.23 L298.41 250.81 L298.86 250.43 L299.31 250.1 L299.76 249.8 L300.2 249.55 L300.65 249.33 L301.1 249.16 L301.55 249.01 L302 248.9 L302.45 248.82 L302.9 248.77 L303.35 248.75 L303.8 248.76 L304.24 248.8 L304.69 248.86 L305.14 248.94 L305.59 249.05 L306.04 249.18 L306.49 249.33 L306.94 249.49 L307.39 249.68 L307.83 249.89 L308.28 250.11 L308.73 250.35 L309.18 250.6 L309.63 250.87 L310.08 251.15 L310.53 251.45 L310.98 251.75 L311.42 252.07 L311.87 252.4 L312.32 252.74 L312.77 253.08 L313.22 253.44 L313.67 253.8 L314.12 254.18 L314.57 254.55 L315.01 254.94 L315.46 255.33 L315.91 255.73 L316.36 256.13 L316.81 256.54 L317.26 256.95 L317.71 257.37 L318.16 257.79 L318.6 258.21 L319.05 258.64 L319.5 259.07 L319.95 259.5 L320.4 259.93 L320.85 260.36 L321.3 260.8 L321.75 261.23 L322.19 261.67 L322.64 262.11 L323.09 262.55 L323.54 262.99 L323.99 263.42 L324.44 263.86 L324.89 264.3 L325.34 264.73 L325.79 265.17 L326.23 265.6 L326.68 266.04 L327.13 266.47 L327.58 266.9 L328.03 267.33 L328.48 267.75 L328.93 268.18 L329.38 268.6 L329.82 269.02 L330.27 269.44 L330.72 269.86 L331.17 270.27 L331.62 270.68 L332.07 271.09 L332.52 271.5 L332.97 271.9 L333.41 272.3 L333.86 272.7 L334.31 273.09 L334.76 273.48 L335.21 273.87 L335.66 274.26 L336.11 274.64 L336.56 275.02 L337 275.4 L337.45 275.77 L337.9 276.14 L338.35 276.5 L338.8 276.87 L339.25 277.23 L339.7 277.58 L340.15 277.93 L340.59 278.28 L341.04 278.63 L341.49 278.97 L341.94 279.31 L342.39 279.65 L342.84 279.98 L343.29 280.31 L343.74 280.63 L344.19 280.95 L344.63 281.27 L345.08 281.59 L345.53 281.9 L345.98 282.21 L346.43 282.51 L346.88 282.81 L347.33 283.11 L347.78 283.4 L348.22 283.7 L348.67 283.98 L349.12 284.27 L349.57 284.55 L350.02 284.83 L350.47 285.1 L350.92 285.37 L351.37 285.64 L351.81 285.91 L352.26 286.17 L352.71 286.42 L353.16 286.68 L353.61 286.93 L354.06 287.18 L354.51 287.43 L354.96 287.67 L355.4 287.91 L355.85 288.15 L356.3 288.38 L356.75 288.61 L357.2 288.84 L357.65 289.06 L358.1 289.29 L358.55 289.5 L358.99 289.72 L359.44 289.93 L359.89 290.15 L360.34 290.35 L360.79 290.56 L361.24 290.76 L361.69 290.96 L362.14 291.16 L362.58 291.35 L363.03 291.54 L363.48 291.73 L363.93 291.92 L364.38 292.1 L364.83 292.29 L365.28 292.47 L365.73 292.64 L366.18 292.82 L366.62 292.99 L367.07 293.16 L367.52 293.33 L367.97 293.49 L368.42 293.65 L368.87 293.81 L369.32 293.97 L369.77 294.13 L370.21 294.28 L370.66 294.43 L371.11 294.58 L371.56 294.73 L372.01 294.88 L372.46 295.02 L372.91 295.16 L373.36 295.3 L373.8 295.44 L374.25 295.57 L374.7 295.71 L375.15 295.84 L375.6 295.97 L376.05 296.1 L376.5 296.22 L376.95 296.35 L377.39 296.47 L377.84 296.59 L378.29 296.71 L378.74 296.83 L379.19 296.94 L379.64 297.06 L380.09 297.17 L380.54 297.28 L380.98 297.39 L381.43 297.5 L381.88 297.6 L382.33 297.71 L382.78 297.81 L383.23 297.91 L383.68 298.01 L384.13 298.11 L384.58 298.21 L385.02 298.3 L385.47 298.4 L385.92 298.49 L386.37 298.58 L386.82 298.67 L387.27 298.76 L387.72 298.85 L388.17 298.93 L388.61 299.02 L389.06 299.1 L389.51 299.18 L389.96 299.26 L390.41 299.34 L390.86 299.42 L391.31 299.5 L391.76 299.58 L392.2 299.65 L392.65 299.73 L393.1 299.8 L393.55 299.87 L394 299.94 L394.45 300.01 L394.9 300.08 L395.35 300.15 L395.79 300.22 L396.24 300.28 L396.69 300.35 L397.14 300.41 L397.59 300.47 L398.04 300.53 L398.49 300.6 L398.94 300.66 L399.38 300.71 L399.83 300.77 L400.28 300.83 L400.73 300.89 L401.18 300.94 L401.63 301 L402.08 301.05 L402.53 301.1 L402.98 301.16 L403.42 301.21 L403.87 301.26 L404.32 301.31 L404.77 301.36 L405.22 301.41 L405.67 301.45 L406.12 301.5 L406.57 301.55 L407.01 301.59 L407.46 301.64 L407.91 301.68 L408.36 301.73 L408.81 301.77 L409.26 301.81 L409.71 301.85 L410.16 301.89 L410.6 301.93 L411.05 301.97 L411.5 302.01 L411.95 302.05 L412.4 302.09 L412.85 302.13 L413.3 302.16 L413.75 302.2 L414.19 302.23 L414.64 302.27 L415.09 302.3 L415.54 302.34 L415.99 302.37 L416.44 302.4 L416.89 302.44 L417.34 302.47 L417.78 302.5 L418.23 302.53 L418.68 302.56 L419.13 302.59 L419.58 302.62 L420.03 302.65 L420.48 302.68 L420.93 302.71 L421.37 302.74 L421.82 302.76 L422.27 302.79 L422.72 302.82 L423.17 302.84 L423.62 302.87 L424.07 302.89 L424.52 302.92 L424.97 302.94 L425.41 302.97 L425.86 302.99 L426.31 303.02 L426.76 303.04 L427.21 303.06 L427.66 303.08 L428.11 303.11 L428.56 303.13 L429 303.15 L429.45 303.17 L429.9 303.19 L430.35 303.21 L430.8 303.23 L431.25 303.25 L431.7 303.27 L432.15 303.29 L432.59 303.31 L433.04 303.33 L433.49 303.34 L433.94 303.36 L434.39 303.38 L434.84 303.4 L435.29 303.42 L435.74 303.43 L436.18 303.45 L436.63 303.46 L437.08 303.48 L437.53 303.5 L437.98 303.51 L438.43 303.53 L438.88 303.54 L439.33 303.56 L439.77 303.57 L440.22 303.59 L440.67 303.6 L441.12 303.62 L441.57 303.63 L442.02 303.64 L442.47 303.66 L442.92 303.67 L443.37 303.68 L443.81 303.7 L444.26 303.71 L444.71 303.72 L445.16 303.73 L445.61 303.74 L446.06 303.76 L446.51 303.77 L446.96 303.78 L447.4 303.79 L447.85 303.8 L448.3 303.81 L448.75 303.82 L449.2 303.83 L449.65 303.84 L450.1 303.85 L450.55 303.86 L450.99 303.87 L451.44 303.88 L451.89 303.89 L452.34 303.9 L452.79 303.91 L453.24 303.92 L453.69 303.93 L454.14 303.94 L454.58 303.95 L455.03 303.96 L455.48 303.97 L455.93 303.97 L456.38 303.98 L456.83 303.99 L457.28 304 L457.73 304.01 L458.17 304.01 L458.62 304.02 L459.07 304.03 L459.52 304.04 L459.97 304.04 L460.42 304.05 L460.87 304.06 L461.32 304.06 L461.76 304.07 L462.21 304.08 L462.66 304.08" fill="none" stroke="#e88282" stroke-width="0.8" stroke-linejoin="round" />
<path d="M283.6 187.21 L284.05 190.81 L284.5 194.31 L284.95 197.69 L285.4 200.97 L285.84 204.15 L286.29 207.24 L286.74 210.22 L287.19 213.12 L287.64 215.93 L288.09 218.65 L288.54 221.29 L288.99 223.84 L289.43 226.32 L289.88 228.72 L290.33 231.05 L290.78 233.31 L291.23 235.49 L291.68 237.61 L292.13 239.67 L292.58 241.66 L293.02 243.59 L293.47 245.46 L293.92 247.28 L294.37 249.03 L294.82 250.74 L295.27 252.39 L295.72 253.99 L296.17 255.54 L296.61 257.05 L297.06 258.5 L297.51 259.92 L297.96 261.29 L298.41 262.61 L298.86 263.9 L299.31 265.15 L299.76 266.36 L300.2 267.53 L300.65 268.66 L301.1 269.77 L301.55 270.83 L302 271.87 L302.45 272.87 L302.9 273.84 L303.35 274.78 L303.8 275.7 L304.24 276.58 L304.69 277.44 L305.14 278.27 L305.59 279.08 L306.04 279.86 L306.49 280.61 L306.94 281.35 L307.39 282.06 L307.83 282.75 L308.28 283.42 L308.73 284.06 L309.18 284.69 L309.63 285.3 L310.08 285.89 L310.53 286.46 L310.98 287.02 L311.42 287.55 L311.87 288.07 L312.32 288.58 L312.77 289.07 L313.22 289.54 L313.67 290 L314.12 290.45 L314.57 290.88 L315.01 291.3 L315.46 291.7 L315.91 292.1 L316.36 292.48 L316.81 292.85 L317.26 293.2 L317.71 293.55 L318.16 293.89 L318.6 294.21 L319.05 294.53 L319.5 294.84 L319.95 295.13 L320.4 295.42 L320.85 295.7 L321.3 295.97 L321.75 296.23 L322.19 296.49 L322.64 296.73 L323.09 296.97 L323.54 297.2 L323.99 297.43 L324.44 297.64 L324.89 297.85 L325.34 298.06 L325.79 298.26 L326.23 298.45 L326.68 298.63 L327.13 298.81 L327.58 298.99 L328.03 299.16 L328.48 299.32 L328.93 299.48 L329.38 299.64 L329.82 299.79 L330.27 299.93 L330.72 300.07 L331.17 300.21 L331.62 300.34 L332.07 300.47 L332.52 300.59 L332.97 300.71 L333.41 300.83 L333.86 300.94 L334.31 301.05 L334.76 301.15 L335.21 301.26 L335.66 301.36 L336.11 301.45 L336.56 301.55 L337 301.64 L337.45 301.73 L337.9 301.81 L338.35 301.89 L338.8 301.97 L339.25 302.05 L339.7 302.13 L340.15 302.2 L340.59 302.27 L341.04 302.34 L341.49 302.41 L341.94 302.47 L342.39 302.53 L342.84 302.59 L343.29 302.65 L343.74 302.71 L344.19 302.76 L344.63 302.82 L345.08 302.87 L345.53 302.92 L345.98 302.97 L346.43 303.01 L346.88 303.06 L347.33 303.1 L347.78 303.15 L348.22 303.19 L348.67 303.23 L349.12 303.27 L349.57 303.31 L350.02 303.34 L350.47 303.38 L350.92 303.41 L351.37 303.45 L351.81 303.48 L352.26 303.51 L352.71 303.54 L353.16 303.57 L353.61 303.6 L354.06 303.63 L354.51 303.65 L354.96 303.68 L355.4 303.7 L355.85 303.73 L356.3 303.75 L356.75 303.77 L357.2 303.8 L357.65 303.82 L358.1 303.84 L358.55 303.86 L358.99 303.88 L359.44 303.9 L359.89 303.92 L360.34 303.94 L360.79 303.95 L361.24 303.97 L361.69 303.99 L362.14 304 L362.58 304.02 L363.03 304.03 L363.48 304.05 L363.93 304.06 L364.38 304.07 L364.83 304.09 L365.28 304.1 L365.73 304.11 L366.18 304.12 L366.62 304.14 L367.07 304.15 L367.52 304.16 L367.97 304.17 L368.42 304.18 L368.87 304.19 L369.32 304.2 L369.77 304.21 L370.21 304.22 L370.66 304.22 L371.11 304.23 L371.56 304.24 L372.01 304.25 L372.46 304.26 L372.91 304.26 L373.36 304.27 L373.8 304.28 L374.25 304.29 L374.7 304.29 L375.15 304.3 L375.6 304.3 L376.05 304.31 L376.5 304.32 L376.95 304.32 L377.39 304.33 L377.84 304.33 L378.29 304.34 L378.74 304.34 L379.19 304.35 L379.64 304.35 L380.09 304.36 L380.54 304.36 L380.98 304.37 L381.43 304.37 L381.88 304.37 L382.33 304.38 L382.78 304.38 L383.23 304.38 L383.68 304.39 L384.13 304.39 L384.58 304.4 L385.02 304.4 L385.47 304.4 L385.92 304.4 L386.37 304.41 L386.82 304.41 L387.27 304.41 L387.72 304.42 L388.17 304.42 L388.61 304.42 L389.06 304.42 L389.51 304.43 L389.96 304.43 L390.41 304.43 L390.86 304.43 L391.31 304.43 L391.76 304.44 L392.2 304.44 L392.65 304.44 L393.1 304.44 L393.55 304.44 L394 304.45 L394.45 304.45 L394.9 304.45 L395.35 304.45 L395.79 304.45 L396.24 304.45 L396.69 304.45 L397.14 304.46 L397.59 304.46 L398.04 304.46 L398.49 304.46 L398.94 304.46 L399.38 304.46 L399.83 304.46 L400.28 304.46 L400.73 304.47 L401.18 304.47 L401.63 304.47 L402.08 304.47 L402.53 304.47 L402.98 304.47 L403.42 304.47 L403.87 304.47 L404.32 304.47 L404.77 304.47 L405.22 304.48 L405.67 304.48 L406.12 304.48 L406.57 304.48 L407.01 304.48 L407.46 304.48 L407.91 304.48 L408.36 304.48 L408.81 304.48 L409.26 304.48 L409.71 304.48 L410.16 304.48 L410.6 304.48 L411.05 304.48 L411.5 304.48 L411.95 304.48 L412.4 304.48 L412.85 304.49 L413.3 304.49 L413.75 304.49 L414.19 304.49 L414.64 304.49 L415.09 304.49 L415.54 304.49 L415.99 304.49 L416.44 304.49 L416.89 304.49 L417.34 304.49 L417.78 304.49 L418.23 304.49 L418.68 304.49 L419.13 304.49 L419.58 304.49 L420.03 304.49 L420.48 304.49 L420.93 304.49 L421.37 304.49 L421.82 304.49 L422.27 304.49 L422.72 304.49 L423.17 304.49 L423.62 304.49 L424.07 304.49 L424.52 304.49 L424.97 304.49 L425.41 304.49 L425.86 304.49 L426.31 304.49 L426.76 304.49 L427.21 304.49 L427.66 304.49 L428.11 304.49 L428.56 304.5 L429 304.5 L429.45 304.5 L429.9 304.5 L430.35 304.5 L430.8 304.5 L431.25 304.5 L431.7 304.5 L432.15 304.5 L432.59 304.5 L433.04 304.5 L433.49 304.5 L433.94 304.5 L434.39 304.5 L434.84 304.5 L435.29 304.5 L435.74 304.5 L436.18 304.5 L436.63 304.5 L437.08 304.5 L437.53 304.5 L437.98 304.5 L438.43 304.5 L438.88 304.5 L439.33 304.5 L439.77 304.5 L440.22 304.5 L440.67 304.5 L441.12 304.5 L441.57 304.5 L442.02 304.5 L442.47 304.5 L442.92 304.5 L443.37 304.5 L443.81 304.5 L444.26 304.5 L444.71 304.5 L445.16 304.5 L445.61 304.5 L446.06 304.5 L446.51 304.5 L446.96 304.5 L447.4 304.5 L447.85 304.5 L448.3 304.5 L448.75 304.5 L449.2 304.5 L449.65 304.5 L450.1 304.5 L450.55 304.5 L450.99 304.5 L451.44 304.5 L451.89 304.5 L452.34 304.5 L452.79 304.5 L453.24 304.5 L453.69 304.5 L454.14 304.5 L454.58 304.5 L455.03 304.5 L455.48 304.5 L455.93 304.5 L456.38 304.5 L456.83 304.5 L457.28 304.5 L457.73 304.5 L458.17 304.5 L458.62 304.5 L459.07 304.5 L459.52 304.5 L459.97 304.5 L460.42 304.5 L460.87 304.5 L461.32 304.5 L461.76 304.5 L462.21 304.5 L462.66 304.5" fill="none" stroke="#8193d8" stroke-width="0.8" stroke-linejoin="round" />
<path d="M368.8 223.7 H382.5" stroke="#c9cdeb" stroke-width="1.3"/>
<text x="390.4" y="227.17" font-size="10.2" text-anchor="start" font-weight="normal" fill="#1a1a1a" >Trace 1</text>
<path d="M368.8 241.5 H382.5" stroke="#f0b4b4" stroke-width="1.3"/>
<text x="390.4" y="244.97" font-size="10.2" text-anchor="start" font-weight="normal" fill="#1a1a1a" >Trace 2</text>
<path d="M368.8 258.7 H382.5" stroke="#8e8e8e" stroke-width="1.3"/>
<text x="390.4" y="262.17" font-size="10.2" text-anchor="start" font-weight="normal" fill="#1a1a1a" >Trace 3</text>
<path d="M368.8 276.7 H382.5" stroke="#f5d0a8" stroke-width="1.3"/>
<text x="390.4" y="280.17" font-size="10.2" text-anchor="start" font-weight="normal" fill="#1a1a1a" >Total content</text>
<path d="M313.44 304.5 V299.5 M313.44 177.7 V182.7 M343.29 304.5 V299.5 M343.29 177.7 V182.7 M373.13 304.5 V299.5 M373.13 177.7 V182.7 M402.98 304.5 V299.5 M402.98 177.7 V182.7 M432.82 304.5 V299.5 M432.82 177.7 V182.7 M462.66 304.5 V299.5 M462.66 177.7 V182.7 M283.6 272.8 H288.6 M474.6 272.8 H469.6 M283.6 241.1 H288.6 M474.6 241.1 H469.6 M283.6 209.4 H288.6 M474.6 209.4 H469.6" stroke="#111" stroke-width="1.2" fill="none"/>
<rect x="283.6" y="177.7" width="191" height="126.8" fill="none" stroke="#111" stroke-width="1.4"/>
<text x="283.6" y="316.2" font-size="11" text-anchor="middle" font-weight="normal" fill="#1a1a1a" >0</text>
<text x="313.44" y="316.2" font-size="11" text-anchor="middle" font-weight="normal" fill="#1a1a1a" >5</text>
<text x="343.29" y="316.2" font-size="11" text-anchor="middle" font-weight="normal" fill="#1a1a1a" >10</text>
<text x="373.13" y="316.2" font-size="11" text-anchor="middle" font-weight="normal" fill="#1a1a1a" >15</text>
<text x="402.98" y="316.2" font-size="11" text-anchor="middle" font-weight="normal" fill="#1a1a1a" >20</text>
<text x="432.82" y="316.2" font-size="11" text-anchor="middle" font-weight="normal" fill="#1a1a1a" >25</text>
<text x="462.66" y="316.2" font-size="11" text-anchor="middle" font-weight="normal" fill="#1a1a1a" >30</text>
<text x="282.2" y="308.46" font-size="11" text-anchor="end" font-weight="normal" fill="#1a1a1a" >0.0</text>
<text x="282.2" y="276.76" font-size="11" text-anchor="end" font-weight="normal" fill="#1a1a1a" >0.2</text>
<text x="282.2" y="245.06" font-size="11" text-anchor="end" font-weight="normal" fill="#1a1a1a" >0.4</text>
<text x="282.2" y="213.36" font-size="11" text-anchor="end" font-weight="normal" fill="#1a1a1a" >0.6</text>
<text x="282.2" y="181.66" font-size="11" text-anchor="end" font-weight="normal" fill="#1a1a1a" >0.8</text>
<text x="379.6" y="335.7" font-size="12.4" text-anchor="middle" font-weight="normal" fill="#1a1a1a" >Time, s</text>
<text x="261.9" y="240.4" font-size="12.4" text-anchor="middle" font-weight="normal" fill="#1a1a1a" transform="rotate(-90 261.9 240.4)" >EV Absorbance</text>
<text x="291.5" y="201.6" font-size="19.5" text-anchor="start" font-weight="bold" fill="#1a1a1a" >E</text>
<path d="M283.6 304.5 V187.21" stroke="#232a58" stroke-width="1.4"/>
<path d="M528.9 194.46 L529.34 194.49 L529.78 194.52 L530.22 194.56 L530.66 194.59 L531.1 194.62 L531.55 194.65 L531.99 194.68 L532.43 194.71 L532.87 194.74 L533.31 194.77 L533.75 194.8 L534.19 194.83 L534.63 194.86 L535.07 194.88 L535.51 194.91 L535.96 194.94 L536.4 194.97 L536.84 194.99 L537.28 195.02 L537.72 195.05 L538.16 195.07 L538.6 195.1 L539.04 195.12 L539.48 195.15 L539.92 195.17 L540.36 195.2 L540.81 195.22 L541.25 195.24 L541.69 195.27 L542.13 195.29 L542.57 195.31 L543.01 195.33 L543.45 195.36 L543.89 195.38 L544.33 195.4 L544.77 195.42 L545.22 195.44 L545.66 195.46 L546.1 195.48 L546.54 195.5 L546.98 195.52 L547.42 195.54 L547.86 195.56 L548.3 195.58 L548.74 195.6 L549.18 195.62 L549.62 195.64 L550.07 195.66 L550.51 195.68 L550.95 195.69 L551.39 195.71 L551.83 195.73 L552.27 195.75 L552.71 195.76 L553.15 195.78 L553.59 195.8 L554.03 195.81 L554.48 195.83 L554.92 195.84 L555.36 195.86 L555.8 195.88 L556.24 195.89 L556.68 195.91 L557.12 195.92 L557.56 195.94 L558 195.95 L558.44 195.97 L558.88 195.98 L559.33 195.99 L559.77 196.01 L560.21 196.02 L560.65 196.03 L561.09 196.05 L561.53 196.06 L561.97 196.07 L562.41 196.09 L562.85 196.1 L563.29 196.11 L563.73 196.13 L564.18 196.14 L564.62 196.15 L565.06 196.16 L565.5 196.17 L565.94 196.19 L566.38 196.2 L566.82 196.21 L567.26 196.22 L567.7 196.23 L568.14 196.24 L568.59 196.25 L569.03 196.26 L569.47 196.27 L569.91 196.28 L570.35 196.29 L570.79 196.3 L571.23 196.31 L571.67 196.32 L572.11 196.33 L572.55 196.34 L572.99 196.35 L573.44 196.36 L573.88 196.37 L574.32 196.38 L574.76 196.39 L575.2 196.4 L575.64 196.41 L576.08 196.42 L576.52 196.43 L576.96 196.43 L577.4 196.44 L577.85 196.45 L578.29 196.46 L578.73 196.47 L579.17 196.48 L579.61 196.48 L580.05 196.49 L580.49 196.5 L580.93 196.51 L581.37 196.51 L581.81 196.52 L582.25 196.53 L582.7 196.54 L583.14 196.54 L583.58 196.55 L584.02 196.56 L584.46 196.56 L584.9 196.57 L585.34 196.58 L585.78 196.58 L586.22 196.59 L586.66 196.6 L587.11 196.6 L587.55 196.61 L587.99 196.62 L588.43 196.62 L588.87 196.63 L589.31 196.63 L589.75 196.64 L590.19 196.65 L590.63 196.65 L591.07 196.66 L591.51 196.66 L591.96 196.67 L592.4 196.67 L592.84 196.68 L593.28 196.69 L593.72 196.69 L594.16 196.7 L594.6 196.7 L595.04 196.71 L595.48 196.71 L595.92 196.72 L596.37 196.72 L596.81 196.73 L597.25 196.73 L597.69 196.74 L598.13 196.74 L598.57 196.75 L599.01 196.75 L599.45 196.75 L599.89 196.76 L600.33 196.76 L600.77 196.77 L601.22 196.77 L601.66 196.78 L602.1 196.78 L602.54 196.78 L602.98 196.79 L603.42 196.79 L603.86 196.8 L604.3 196.8 L604.74 196.8 L605.18 196.81 L605.63 196.81 L606.07 196.82 L606.51 196.82 L606.95 196.82 L607.39 196.83 L607.83 196.83 L608.27 196.83 L608.71 196.84 L609.15 196.84 L609.59 196.84 L610.03 196.85 L610.48 196.85 L610.92 196.85 L611.36 196.86 L611.8 196.86 L612.24 196.86 L612.68 196.87 L613.12 196.87 L613.56 196.87 L614 196.88 L614.44 196.88 L614.88 196.88 L615.33 196.88 L615.77 196.89 L616.21 196.89 L616.65 196.89 L617.09 196.9 L617.53 196.9 L617.97 196.9 L618.41 196.9 L618.85 196.91 L619.29 196.91 L619.74 196.91 L620.18 196.91 L620.62 196.92 L621.06 196.92 L621.5 196.92 L621.94 196.92 L622.38 196.93 L622.82 196.93 L623.26 196.93 L623.7 196.93 L624.14 196.93 L624.59 196.94 L625.03 196.94 L625.47 196.94 L625.91 196.94 L626.35 196.95 L626.79 196.95 L627.23 196.95 L627.67 196.95 L628.11 196.95 L628.55 196.96 L629 196.96 L629.44 196.96 L629.88 196.96 L630.32 196.96 L630.76 196.96 L631.2 196.97 L631.64 196.97 L632.08 196.97 L632.52 196.97 L632.96 196.97 L633.4 196.98 L633.85 196.98 L634.29 196.98 L634.73 196.98 L635.17 196.98 L635.61 196.98 L636.05 196.99 L636.49 196.99 L636.93 196.99 L637.37 196.99 L637.81 196.99 L638.26 196.99 L638.7 196.99 L639.14 197 L639.58 197 L640.02 197 L640.46 197 L640.9 197 L641.34 197 L641.78 197 L642.22 197.01 L642.66 197.01 L643.11 197.01 L643.55 197.01 L643.99 197.01 L644.43 197.01 L644.87 197.01 L645.31 197.01 L645.75 197.02 L646.19 197.02 L646.63 197.02 L647.07 197.02 L647.52 197.02 L647.96 197.02 L648.4 197.02 L648.84 197.02 L649.28 197.02 L649.72 197.03 L650.16 197.03 L650.6 197.03 L651.04 197.03 L651.48 197.03 L651.92 197.03 L652.37 197.03 L652.81 197.03 L653.25 197.03 L653.69 197.04 L654.13 197.04 L654.57 197.04 L655.01 197.04 L655.45 197.04 L655.89 197.04 L656.33 197.04 L656.78 197.04 L657.22 197.04 L657.66 197.04 L658.1 197.04 L658.54 197.05 L658.98 197.05 L659.42 197.05 L659.86 197.05 L660.3 197.05 L660.74 197.05 L661.18 197.05 L661.63 197.05 L662.07 197.05 L662.51 197.05 L662.95 197.05 L663.39 197.05 L663.83 197.05 L664.27 197.06 L664.71 197.06 L665.15 197.06 L665.59 197.06 L666.03 197.06 L666.48 197.06 L666.92 197.06 L667.36 197.06 L667.8 197.06 L668.24 197.06 L668.68 197.06 L669.12 197.06 L669.56 197.06 L670 197.06 L670.44 197.06 L670.89 197.06 L671.33 197.07 L671.77 197.07 L672.21 197.07 L672.65 197.07 L673.09 197.07 L673.53 197.07 L673.97 197.07 L674.41 197.07 L674.85 197.07 L675.29 197.07 L675.74 197.07 L676.18 197.07 L676.62 197.07 L677.06 197.07 L677.5 197.07 L677.94 197.07 L678.38 197.07 L678.82 197.07 L679.26 197.07 L679.7 197.08 L680.15 197.08 L680.59 197.08 L681.03 197.08 L681.47 197.08 L681.91 197.08 L682.35 197.08 L682.79 197.08 L683.23 197.08 L683.67 197.08 L684.11 197.08 L684.55 197.08 L685 197.08 L685.44 197.08 L685.88 197.08 L686.32 197.08 L686.76 197.08 L687.2 197.08 L687.64 197.08 L688.08 197.08 L688.52 197.08 L688.96 197.08 L689.41 197.08 L689.85 197.08 L690.29 197.08 L690.73 197.08 L691.17 197.09 L691.61 197.09 L692.05 197.09 L692.49 197.09 L692.93 197.09 L693.37 197.09 L693.81 197.09 L694.26 197.09 L694.7 197.09 L695.14 197.09 L695.58 197.09 L696.02 197.09 L696.46 197.09 L696.9 197.09 L697.34 197.09 L697.78 197.09 L698.22 197.09 L698.67 197.09 L699.11 197.09 L699.55 197.09 L699.99 197.09 L700.43 197.09 L700.87 197.09 L701.31 197.09 L701.75 197.09 L702.19 197.09 L702.63 197.09 L703.07 197.09 L703.52 197.09 L703.96 197.09 L704.4 197.09 L704.84 197.09" fill="none" stroke="#f2b27a" stroke-width="0.8" stroke-linejoin="round" />
<path d="M528.9 305.25 L529.34 305.2 L529.78 305.04 L530.22 304.78 L530.66 304.44 L531.1 304.01 L531.55 303.51 L531.99 302.93 L532.43 302.29 L532.87 301.58 L533.31 300.82 L533.75 300.01 L534.19 299.15 L534.63 298.24 L535.07 297.3 L535.51 296.32 L535.96 295.31 L536.4 294.27 L536.84 293.2 L537.28 292.1 L537.72 290.99 L538.16 289.86 L538.6 288.71 L539.04 287.55 L539.48 286.38 L539.92 285.19 L540.36 284 L540.81 282.8 L541.25 281.6 L541.69 280.4 L542.13 279.19 L542.57 277.98 L543.01 276.77 L543.45 275.57 L543.89 274.37 L544.33 273.17 L544.77 271.98 L545.22 270.79 L545.66 269.61 L546.1 268.43 L546.54 267.27 L546.98 266.11 L547.42 264.96 L547.86 263.82 L548.3 262.7 L548.74 261.58 L549.18 260.47 L549.62 259.38 L550.07 258.29 L550.51 257.22 L550.95 256.16 L551.39 255.12 L551.83 254.08 L552.27 253.06 L552.71 252.05 L553.15 251.06 L553.59 250.08 L554.03 249.11 L554.48 248.15 L554.92 247.21 L555.36 246.28 L555.8 245.37 L556.24 244.47 L556.68 243.58 L557.12 242.7 L557.56 241.84 L558 240.99 L558.44 240.16 L558.88 239.34 L559.33 238.53 L559.77 237.74 L560.21 236.95 L560.65 236.19 L561.09 235.43 L561.53 234.69 L561.97 233.95 L562.41 233.24 L562.85 232.53 L563.29 231.84 L563.73 231.15 L564.18 230.49 L564.62 229.83 L565.06 229.18 L565.5 228.55 L565.94 227.92 L566.38 227.31 L566.82 226.71 L567.26 226.12 L567.7 225.54 L568.14 224.97 L568.59 224.41 L569.03 223.87 L569.47 223.33 L569.91 222.8 L570.35 222.28 L570.79 221.77 L571.23 221.28 L571.67 220.79 L572.11 220.31 L572.55 219.84 L572.99 219.38 L573.44 218.92 L573.88 218.48 L574.32 218.04 L574.76 217.62 L575.2 217.2 L575.64 216.79 L576.08 216.39 L576.52 215.99 L576.96 215.6 L577.4 215.22 L577.85 214.85 L578.29 214.49 L578.73 214.13 L579.17 213.78 L579.61 213.44 L580.05 213.1 L580.49 212.77 L580.93 212.45 L581.37 212.13 L581.81 211.82 L582.25 211.52 L582.7 211.22 L583.14 210.93 L583.58 210.64 L584.02 210.36 L584.46 210.08 L584.9 209.82 L585.34 209.55 L585.78 209.29 L586.22 209.04 L586.66 208.79 L587.11 208.55 L587.55 208.31 L587.99 208.08 L588.43 207.85 L588.87 207.62 L589.31 207.41 L589.75 207.19 L590.19 206.98 L590.63 206.77 L591.07 206.57 L591.51 206.37 L591.96 206.18 L592.4 205.99 L592.84 205.81 L593.28 205.62 L593.72 205.45 L594.16 205.27 L594.6 205.1 L595.04 204.93 L595.48 204.77 L595.92 204.61 L596.37 204.45 L596.81 204.3 L597.25 204.15 L597.69 204 L598.13 203.85 L598.57 203.71 L599.01 203.57 L599.45 203.44 L599.89 203.3 L600.33 203.17 L600.77 203.05 L601.22 202.92 L601.66 202.8 L602.1 202.68 L602.54 202.56 L602.98 202.45 L603.42 202.34 L603.86 202.23 L604.3 202.12 L604.74 202.01 L605.18 201.91 L605.63 201.81 L606.07 201.71 L606.51 201.61 L606.95 201.52 L607.39 201.42 L607.83 201.33 L608.27 201.24 L608.71 201.16 L609.15 201.07 L609.59 200.99 L610.03 200.9 L610.48 200.82 L610.92 200.75 L611.36 200.67 L611.8 200.59 L612.24 200.52 L612.68 200.45 L613.12 200.38 L613.56 200.31 L614 200.24 L614.44 200.17 L614.88 200.11 L615.33 200.05 L615.77 199.98 L616.21 199.92 L616.65 199.86 L617.09 199.8 L617.53 199.75 L617.97 199.69 L618.41 199.64 L618.85 199.58 L619.29 199.53 L619.74 199.48 L620.18 199.43 L620.62 199.38 L621.06 199.33 L621.5 199.28 L621.94 199.24 L622.38 199.19 L622.82 199.15 L623.26 199.11 L623.7 199.06 L624.14 199.02 L624.59 198.98 L625.03 198.94 L625.47 198.9 L625.91 198.86 L626.35 198.83 L626.79 198.79 L627.23 198.75 L627.67 198.72 L628.11 198.69 L628.55 198.65 L629 198.62 L629.44 198.59 L629.88 198.55 L630.32 198.52 L630.76 198.49 L631.2 198.46 L631.64 198.44 L632.08 198.41 L632.52 198.38 L632.96 198.35 L633.4 198.33 L633.85 198.3 L634.29 198.27 L634.73 198.25 L635.17 198.22 L635.61 198.2 L636.05 198.18 L636.49 198.15 L636.93 198.13 L637.37 198.11 L637.81 198.09 L638.26 198.07 L638.7 198.05 L639.14 198.03 L639.58 198.01 L640.02 197.99 L640.46 197.97 L640.9 197.95 L641.34 197.93 L641.78 197.92 L642.22 197.9 L642.66 197.88 L643.11 197.86 L643.55 197.85 L643.99 197.83 L644.43 197.82 L644.87 197.8 L645.31 197.79 L645.75 197.77 L646.19 197.76 L646.63 197.74 L647.07 197.73 L647.52 197.72 L647.96 197.7 L648.4 197.69 L648.84 197.68 L649.28 197.67 L649.72 197.65 L650.16 197.64 L650.6 197.63 L651.04 197.62 L651.48 197.61 L651.92 197.6 L652.37 197.59 L652.81 197.58 L653.25 197.57 L653.69 197.56 L654.13 197.55 L654.57 197.54 L655.01 197.53 L655.45 197.52 L655.89 197.51 L656.33 197.5 L656.78 197.49 L657.22 197.48 L657.66 197.47 L658.1 197.47 L658.54 197.46 L658.98 197.45 L659.42 197.44 L659.86 197.44 L660.3 197.43 L660.74 197.42 L661.18 197.41 L661.63 197.41 L662.07 197.4 L662.51 197.39 L662.95 197.39 L663.39 197.38 L663.83 197.38 L664.27 197.37 L664.71 197.36 L665.15 197.36 L665.59 197.35 L666.03 197.35 L666.48 197.34 L666.92 197.34 L667.36 197.33 L667.8 197.33 L668.24 197.32 L668.68 197.32 L669.12 197.31 L669.56 197.31 L670 197.3 L670.44 197.3 L670.89 197.29 L671.33 197.29 L671.77 197.29 L672.21 197.28 L672.65 197.28 L673.09 197.27 L673.53 197.27 L673.97 197.27 L674.41 197.26 L674.85 197.26 L675.29 197.26 L675.74 197.25 L676.18 197.25 L676.62 197.25 L677.06 197.24 L677.5 197.24 L677.94 197.24 L678.38 197.23 L678.82 197.23 L679.26 197.23 L679.7 197.22 L680.15 197.22 L680.59 197.22 L681.03 197.22 L681.47 197.21 L681.91 197.21 L682.35 197.21 L682.79 197.21 L683.23 197.2 L683.67 197.2 L684.11 197.2 L684.55 197.2 L685 197.2 L685.44 197.19 L685.88 197.19 L686.32 197.19 L686.76 197.19 L687.2 197.18 L687.64 197.18 L688.08 197.18 L688.52 197.18 L688.96 197.18 L689.41 197.18 L689.85 197.17 L690.29 197.17 L690.73 197.17 L691.17 197.17 L691.61 197.17 L692.05 197.17 L692.49 197.16 L692.93 197.16 L693.37 197.16 L693.81 197.16 L694.26 197.16 L694.7 197.16 L695.14 197.16 L695.58 197.15 L696.02 197.15 L696.46 197.15 L696.9 197.15 L697.34 197.15 L697.78 197.15 L698.22 197.15 L698.67 197.15 L699.11 197.14 L699.55 197.14 L699.99 197.14 L700.43 197.14 L700.87 197.14 L701.31 197.14 L701.75 197.14 L702.19 197.14 L702.63 197.14 L703.07 197.14 L703.52 197.14 L703.96 197.13 L704.4 197.13 L704.84 197.13" fill="none" stroke="#4a4a4a" stroke-width="0.8" stroke-linejoin="round" />
<path d="M528.9 305.25 L529.34 302.9 L529.78 300.71 L530.22 298.67 L530.66 296.77 L531.1 295.01 L531.55 293.38 L531.99 291.87 L532.43 290.47 L532.87 289.18 L533.31 288 L533.75 286.91 L534.19 285.91 L534.63 285 L535.07 284.17 L535.51 283.41 L535.96 282.73 L536.4 282.12 L536.84 281.57 L537.28 281.08 L537.72 280.65 L538.16 280.27 L538.6 279.94 L539.04 279.66 L539.48 279.42 L539.92 279.23 L540.36 279.07 L540.81 278.95 L541.25 278.87 L541.69 278.81 L542.13 278.79 L542.57 278.79 L543.01 278.82 L543.45 278.88 L543.89 278.95 L544.33 279.05 L544.77 279.17 L545.22 279.3 L545.66 279.45 L546.1 279.62 L546.54 279.8 L546.98 280 L547.42 280.2 L547.86 280.42 L548.3 280.65 L548.74 280.89 L549.18 281.13 L549.62 281.38 L550.07 281.64 L550.51 281.91 L550.95 282.18 L551.39 282.45 L551.83 282.73 L552.27 283.02 L552.71 283.3 L553.15 283.59 L553.59 283.88 L554.03 284.17 L554.48 284.47 L554.92 284.76 L555.36 285.06 L555.8 285.35 L556.24 285.65 L556.68 285.94 L557.12 286.24 L557.56 286.53 L558 286.83 L558.44 287.12 L558.88 287.41 L559.33 287.69 L559.77 287.98 L560.21 288.26 L560.65 288.54 L561.09 288.82 L561.53 289.1 L561.97 289.38 L562.41 289.65 L562.85 289.92 L563.29 290.18 L563.73 290.45 L564.18 290.71 L564.62 290.96 L565.06 291.22 L565.5 291.47 L565.94 291.72 L566.38 291.96 L566.82 292.2 L567.26 292.44 L567.7 292.68 L568.14 292.91 L568.59 293.13 L569.03 293.36 L569.47 293.58 L569.91 293.8 L570.35 294.02 L570.79 294.23 L571.23 294.44 L571.67 294.64 L572.11 294.84 L572.55 295.04 L572.99 295.24 L573.44 295.43 L573.88 295.62 L574.32 295.81 L574.76 295.99 L575.2 296.17 L575.64 296.34 L576.08 296.52 L576.52 296.69 L576.96 296.86 L577.4 297.02 L577.85 297.18 L578.29 297.34 L578.73 297.5 L579.17 297.65 L579.61 297.8 L580.05 297.95 L580.49 298.1 L580.93 298.24 L581.37 298.38 L581.81 298.52 L582.25 298.65 L582.7 298.78 L583.14 298.91 L583.58 299.04 L584.02 299.17 L584.46 299.29 L584.9 299.41 L585.34 299.53 L585.78 299.64 L586.22 299.76 L586.66 299.87 L587.11 299.98 L587.55 300.09 L587.99 300.19 L588.43 300.29 L588.87 300.4 L589.31 300.5 L589.75 300.59 L590.19 300.69 L590.63 300.78 L591.07 300.87 L591.51 300.96 L591.96 301.05 L592.4 301.14 L592.84 301.22 L593.28 301.3 L593.72 301.39 L594.16 301.47 L594.6 301.54 L595.04 301.62 L595.48 301.69 L595.92 301.77 L596.37 301.84 L596.81 301.91 L597.25 301.98 L597.69 302.05 L598.13 302.11 L598.57 302.18 L599.01 302.24 L599.45 302.31 L599.89 302.37 L600.33 302.43 L600.77 302.49 L601.22 302.54 L601.66 302.6 L602.1 302.65 L602.54 302.71 L602.98 302.76 L603.42 302.81 L603.86 302.86 L604.3 302.91 L604.74 302.96 L605.18 303.01 L605.63 303.06 L606.07 303.1 L606.51 303.15 L606.95 303.19 L607.39 303.23 L607.83 303.28 L608.27 303.32 L608.71 303.36 L609.15 303.4 L609.59 303.44 L610.03 303.47 L610.48 303.51 L610.92 303.55 L611.36 303.58 L611.8 303.62 L612.24 303.65 L612.68 303.69 L613.12 303.72 L613.56 303.75 L614 303.78 L614.44 303.81 L614.88 303.84 L615.33 303.87 L615.77 303.9 L616.21 303.93 L616.65 303.96 L617.09 303.99 L617.53 304.01 L617.97 304.04 L618.41 304.06 L618.85 304.09 L619.29 304.11 L619.74 304.14 L620.18 304.16 L620.62 304.18 L621.06 304.21 L621.5 304.23 L621.94 304.25 L622.38 304.27 L622.82 304.29 L623.26 304.31 L623.7 304.33 L624.14 304.35 L624.59 304.37 L625.03 304.39 L625.47 304.41 L625.91 304.42 L626.35 304.44 L626.79 304.46 L627.23 304.47 L627.67 304.49 L628.11 304.51 L628.55 304.52 L629 304.54 L629.44 304.55 L629.88 304.57 L630.32 304.58 L630.76 304.6 L631.2 304.61 L631.64 304.62 L632.08 304.64 L632.52 304.65 L632.96 304.66 L633.4 304.67 L633.85 304.69 L634.29 304.7 L634.73 304.71 L635.17 304.72 L635.61 304.73 L636.05 304.74 L636.49 304.75 L636.93 304.76 L637.37 304.77 L637.81 304.78 L638.26 304.79 L638.7 304.8 L639.14 304.81 L639.58 304.82 L640.02 304.83 L640.46 304.84 L640.9 304.85 L641.34 304.86 L641.78 304.87 L642.22 304.87 L642.66 304.88 L643.11 304.89 L643.55 304.9 L643.99 304.9 L644.43 304.91 L644.87 304.92 L645.31 304.93 L645.75 304.93 L646.19 304.94 L646.63 304.95 L647.07 304.95 L647.52 304.96 L647.96 304.97 L648.4 304.97 L648.84 304.98 L649.28 304.98 L649.72 304.99 L650.16 304.99 L650.6 305 L651.04 305 L651.48 305.01 L651.92 305.01 L652.37 305.02 L652.81 305.02 L653.25 305.03 L653.69 305.03 L654.13 305.04 L654.57 305.04 L655.01 305.05 L655.45 305.05 L655.89 305.06 L656.33 305.06 L656.78 305.06 L657.22 305.07 L657.66 305.07 L658.1 305.08 L658.54 305.08 L658.98 305.08 L659.42 305.09 L659.86 305.09 L660.3 305.09 L660.74 305.1 L661.18 305.1 L661.63 305.1 L662.07 305.11 L662.51 305.11 L662.95 305.11 L663.39 305.12 L663.83 305.12 L664.27 305.12 L664.71 305.12 L665.15 305.13 L665.59 305.13 L666.03 305.13 L666.48 305.13 L666.92 305.14 L667.36 305.14 L667.8 305.14 L668.24 305.14 L668.68 305.15 L669.12 305.15 L669.56 305.15 L670 305.15 L670.44 305.15 L670.89 305.16 L671.33 305.16 L671.77 305.16 L672.21 305.16 L672.65 305.16 L673.09 305.17 L673.53 305.17 L673.97 305.17 L674.41 305.17 L674.85 305.17 L675.29 305.17 L675.74 305.18 L676.18 305.18 L676.62 305.18 L677.06 305.18 L677.5 305.18 L677.94 305.18 L678.38 305.18 L678.82 305.19 L679.26 305.19 L679.7 305.19 L680.15 305.19 L680.59 305.19 L681.03 305.19 L681.47 305.19 L681.91 305.19 L682.35 305.2 L682.79 305.2 L683.23 305.2 L683.67 305.2 L684.11 305.2 L684.55 305.2 L685 305.2 L685.44 305.2 L685.88 305.2 L686.32 305.21 L686.76 305.21 L687.2 305.21 L687.64 305.21 L688.08 305.21 L688.52 305.21 L688.96 305.21 L689.41 305.21 L689.85 305.21 L690.29 305.21 L690.73 305.21 L691.17 305.21 L691.61 305.22 L692.05 305.22 L692.49 305.22 L692.93 305.22 L693.37 305.22 L693.81 305.22 L694.26 305.22 L694.7 305.22 L695.14 305.22 L695.58 305.22 L696.02 305.22 L696.46 305.22 L696.9 305.22 L697.34 305.22 L697.78 305.22 L698.22 305.23 L698.67 305.23 L699.11 305.23 L699.55 305.23 L699.99 305.23 L700.43 305.23 L700.87 305.23 L701.31 305.23 L701.75 305.23 L702.19 305.23 L702.63 305.23 L703.07 305.23 L703.52 305.23 L703.96 305.23 L704.4 305.23 L704.84 305.23" fill="none" stroke="#e88282" stroke-width="0.8" stroke-linejoin="round" />
<path d="M528.9 195.61 L529.34 197.93 L529.78 200.2 L530.22 202.41 L530.66 204.59 L531.1 206.71 L531.55 208.8 L531.99 210.83 L532.43 212.83 L532.87 214.78 L533.31 216.69 L533.75 218.56 L534.19 220.39 L534.63 222.19 L535.07 223.94 L535.51 225.66 L535.96 227.34 L536.4 228.99 L536.84 230.6 L537.28 232.18 L537.72 233.72 L538.16 235.23 L538.6 236.71 L539.04 238.16 L539.48 239.58 L539.92 240.96 L540.36 242.32 L540.81 243.65 L541.25 244.95 L541.69 246.23 L542.13 247.47 L542.57 248.69 L543.01 249.89 L543.45 251.06 L543.89 252.2 L544.33 253.32 L544.77 254.42 L545.22 255.49 L545.66 256.55 L546.1 257.57 L546.54 258.58 L546.98 259.57 L547.42 260.53 L547.86 261.48 L548.3 262.4 L548.74 263.31 L549.18 264.19 L549.62 265.06 L550.07 265.91 L550.51 266.74 L550.95 267.56 L551.39 268.35 L551.83 269.13 L552.27 269.89 L552.71 270.64 L553.15 271.37 L553.59 272.09 L554.03 272.79 L554.48 273.47 L554.92 274.15 L555.36 274.8 L555.8 275.45 L556.24 276.08 L556.68 276.69 L557.12 277.3 L557.56 277.89 L558 278.46 L558.44 279.03 L558.88 279.58 L559.33 280.13 L559.77 280.66 L560.21 281.18 L560.65 281.69 L561.09 282.18 L561.53 282.67 L561.97 283.15 L562.41 283.61 L562.85 284.07 L563.29 284.52 L563.73 284.96 L564.18 285.39 L564.62 285.81 L565.06 286.22 L565.5 286.62 L565.94 287.01 L566.38 287.4 L566.82 287.77 L567.26 288.14 L567.7 288.51 L568.14 288.86 L568.59 289.21 L569.03 289.54 L569.47 289.88 L569.91 290.2 L570.35 290.52 L570.79 290.83 L571.23 291.13 L571.67 291.43 L572.11 291.72 L572.55 292.01 L572.99 292.29 L573.44 292.56 L573.88 292.83 L574.32 293.09 L574.76 293.35 L575.2 293.6 L575.64 293.85 L576.08 294.09 L576.52 294.33 L576.96 294.56 L577.4 294.78 L577.85 295 L578.29 295.22 L578.73 295.43 L579.17 295.64 L579.61 295.84 L580.05 296.04 L580.49 296.24 L580.93 296.43 L581.37 296.61 L581.81 296.79 L582.25 296.97 L582.7 297.15 L583.14 297.32 L583.58 297.49 L584.02 297.65 L584.46 297.81 L584.9 297.97 L585.34 298.12 L585.78 298.27 L586.22 298.42 L586.66 298.56 L587.11 298.71 L587.55 298.84 L587.99 298.98 L588.43 299.11 L588.87 299.24 L589.31 299.37 L589.75 299.49 L590.19 299.61 L590.63 299.73 L591.07 299.85 L591.51 299.96 L591.96 300.08 L592.4 300.19 L592.84 300.29 L593.28 300.4 L593.72 300.5 L594.16 300.6 L594.6 300.7 L595.04 300.79 L595.48 300.89 L595.92 300.98 L596.37 301.07 L596.81 301.16 L597.25 301.25 L597.69 301.33 L598.13 301.41 L598.57 301.49 L599.01 301.57 L599.45 301.65 L599.89 301.73 L600.33 301.8 L600.77 301.87 L601.22 301.95 L601.66 302.02 L602.1 302.08 L602.54 302.15 L602.98 302.22 L603.42 302.28 L603.86 302.34 L604.3 302.4 L604.74 302.46 L605.18 302.52 L605.63 302.58 L606.07 302.64 L606.51 302.69 L606.95 302.75 L607.39 302.8 L607.83 302.85 L608.27 302.9 L608.71 302.95 L609.15 303 L609.59 303.05 L610.03 303.09 L610.48 303.14 L610.92 303.18 L611.36 303.23 L611.8 303.27 L612.24 303.31 L612.68 303.35 L613.12 303.39 L613.56 303.43 L614 303.47 L614.44 303.51 L614.88 303.55 L615.33 303.58 L615.77 303.62 L616.21 303.65 L616.65 303.69 L617.09 303.72 L617.53 303.75 L617.97 303.78 L618.41 303.81 L618.85 303.84 L619.29 303.87 L619.74 303.9 L620.18 303.93 L620.62 303.96 L621.06 303.99 L621.5 304.01 L621.94 304.04 L622.38 304.06 L622.82 304.09 L623.26 304.11 L623.7 304.14 L624.14 304.16 L624.59 304.18 L625.03 304.21 L625.47 304.23 L625.91 304.25 L626.35 304.27 L626.79 304.29 L627.23 304.31 L627.67 304.33 L628.11 304.35 L628.55 304.37 L629 304.39 L629.44 304.41 L629.88 304.43 L630.32 304.44 L630.76 304.46 L631.2 304.48 L631.64 304.49 L632.08 304.51 L632.52 304.52 L632.96 304.54 L633.4 304.55 L633.85 304.57 L634.29 304.58 L634.73 304.6 L635.17 304.61 L635.61 304.63 L636.05 304.64 L636.49 304.65 L636.93 304.66 L637.37 304.68 L637.81 304.69 L638.26 304.7 L638.7 304.71 L639.14 304.72 L639.58 304.73 L640.02 304.75 L640.46 304.76 L640.9 304.77 L641.34 304.78 L641.78 304.79 L642.22 304.8 L642.66 304.81 L643.11 304.82 L643.55 304.82 L643.99 304.83 L644.43 304.84 L644.87 304.85 L645.31 304.86 L645.75 304.87 L646.19 304.88 L646.63 304.88 L647.07 304.89 L647.52 304.9 L647.96 304.91 L648.4 304.91 L648.84 304.92 L649.28 304.93 L649.72 304.93 L650.16 304.94 L650.6 304.95 L651.04 304.95 L651.48 304.96 L651.92 304.97 L652.37 304.97 L652.81 304.98 L653.25 304.98 L653.69 304.99 L654.13 305 L654.57 305 L655.01 305.01 L655.45 305.01 L655.89 305.02 L656.33 305.02 L656.78 305.03 L657.22 305.03 L657.66 305.04 L658.1 305.04 L658.54 305.04 L658.98 305.05 L659.42 305.05 L659.86 305.06 L660.3 305.06 L660.74 305.07 L661.18 305.07 L661.63 305.07 L662.07 305.08 L662.51 305.08 L662.95 305.08 L663.39 305.09 L663.83 305.09 L664.27 305.09 L664.71 305.1 L665.15 305.1 L665.59 305.1 L666.03 305.11 L666.48 305.11 L666.92 305.11 L667.36 305.12 L667.8 305.12 L668.24 305.12 L668.68 305.12 L669.12 305.13 L669.56 305.13 L670 305.13 L670.44 305.13 L670.89 305.14 L671.33 305.14 L671.77 305.14 L672.21 305.14 L672.65 305.15 L673.09 305.15 L673.53 305.15 L673.97 305.15 L674.41 305.15 L674.85 305.16 L675.29 305.16 L675.74 305.16 L676.18 305.16 L676.62 305.16 L677.06 305.17 L677.5 305.17 L677.94 305.17 L678.38 305.17 L678.82 305.17 L679.26 305.17 L679.7 305.18 L680.15 305.18 L680.59 305.18 L681.03 305.18 L681.47 305.18 L681.91 305.18 L682.35 305.19 L682.79 305.19 L683.23 305.19 L683.67 305.19 L684.11 305.19 L684.55 305.19 L685 305.19 L685.44 305.19 L685.88 305.2 L686.32 305.2 L686.76 305.2 L687.2 305.2 L687.64 305.2 L688.08 305.2 L688.52 305.2 L688.96 305.2 L689.41 305.2 L689.85 305.2 L690.29 305.21 L690.73 305.21 L691.17 305.21 L691.61 305.21 L692.05 305.21 L692.49 305.21 L692.93 305.21 L693.37 305.21 L693.81 305.21 L694.26 305.21 L694.7 305.21 L695.14 305.22 L695.58 305.22 L696.02 305.22 L696.46 305.22 L696.9 305.22 L697.34 305.22 L697.78 305.22 L698.22 305.22 L698.67 305.22 L699.11 305.22 L699.55 305.22 L699.99 305.22 L700.43 305.22 L700.87 305.22 L701.31 305.22 L701.75 305.22 L702.19 305.23 L702.63 305.23 L703.07 305.23 L703.52 305.23 L703.96 305.23 L704.4 305.23 L704.84 305.23" fill="none" stroke="#8193d8" stroke-width="0.8" stroke-linejoin="round" />
<path d="M605.6 224.2 H619.4" stroke="#c9cdeb" stroke-width="1.3"/>
<text x="627.2" y="227.67" font-size="10.2" text-anchor="start" font-weight="normal" fill="#1a1a1a" >Trace 1</text>
<path d="M605.6 241.5 H619.4" stroke="#f0b4b4" stroke-width="1.3"/>
<text x="627.2" y="244.97" font-size="10.2" text-anchor="start" font-weight="normal" fill="#1a1a1a" >Trace 2</text>
<path d="M605.6 259.7 H619.4" stroke="#8e8e8e" stroke-width="1.3"/>
<text x="627.2" y="263.17" font-size="10.2" text-anchor="start" font-weight="normal" fill="#1a1a1a" >Trace 3</text>
<path d="M605.6 277.7 H619.4" stroke="#f5d0a8" stroke-width="1.3"/>
<text x="627.2" y="281.17" font-size="10.2" text-anchor="start" font-weight="normal" fill="#1a1a1a" >Total content</text>
<path d="M558.22 305.25 V300.25 M558.22 178.3 V183.3 M587.55 305.25 V300.25 M587.55 178.3 V183.3 M616.87 305.25 V300.25 M616.87 178.3 V183.3 M646.19 305.25 V300.25 M646.19 178.3 V183.3 M675.52 305.25 V300.25 M675.52 178.3 V183.3 M704.84 305.25 V300.25 M704.84 178.3 V183.3 M528.9 282.17 H533.9 M719.5 282.17 H714.5 M528.9 259.09 H533.9 M719.5 259.09 H714.5 M528.9 236 H533.9 M719.5 236 H714.5 M528.9 212.92 H533.9 M719.5 212.92 H714.5 M528.9 189.84 H533.9 M719.5 189.84 H714.5" stroke="#111" stroke-width="1.2" fill="none"/>
<rect x="528.9" y="178.3" width="190.6" height="126.95" fill="none" stroke="#111" stroke-width="1.4"/>
<text x="528.9" y="316.95" font-size="11" text-anchor="middle" font-weight="normal" fill="#1a1a1a" >0</text>
<text x="558.22" y="316.95" font-size="11" text-anchor="middle" font-weight="normal" fill="#1a1a1a" >10</text>
<text x="587.55" y="316.95" font-size="11" text-anchor="middle" font-weight="normal" fill="#1a1a1a" >20</text>
<text x="616.87" y="316.95" font-size="11" text-anchor="middle" font-weight="normal" fill="#1a1a1a" >30</text>
<text x="646.19" y="316.95" font-size="11" text-anchor="middle" font-weight="normal" fill="#1a1a1a" >40</text>
<text x="675.52" y="316.95" font-size="11" text-anchor="middle" font-weight="normal" fill="#1a1a1a" >50</text>
<text x="704.84" y="316.95" font-size="11" text-anchor="middle" font-weight="normal" fill="#1a1a1a" >60</text>
<text x="527.5" y="309.21" font-size="11" text-anchor="end" font-weight="normal" fill="#1a1a1a" >0.0</text>
<text x="527.5" y="286.13" font-size="11" text-anchor="end" font-weight="normal" fill="#1a1a1a" >0.2</text>
<text x="527.5" y="263.05" font-size="11" text-anchor="end" font-weight="normal" fill="#1a1a1a" >0.4</text>
<text x="527.5" y="239.96" font-size="11" text-anchor="end" font-weight="normal" fill="#1a1a1a" >0.6</text>
<text x="527.5" y="216.88" font-size="11" text-anchor="end" font-weight="normal" fill="#1a1a1a" >0.8</text>
<text x="527.5" y="193.8" font-size="11" text-anchor="end" font-weight="normal" fill="#1a1a1a" >1.0</text>
<text x="624.7" y="335.95" font-size="12.4" text-anchor="middle" font-weight="normal" fill="#1a1a1a" >Time, s</text>
<text x="507.2" y="241.08" font-size="12.4" text-anchor="middle" font-weight="normal" fill="#1a1a1a" transform="rotate(-90 507.2 241.08)" >EV Absorbance</text>
<text x="540" y="201.6" font-size="19.5" text-anchor="start" font-weight="bold" fill="#1a1a1a" >F</text>
<path d="M528.9 305.25 V195.61" stroke="#34384c" stroke-width="1.4"/>
<path d="M218 413.1 H234.6" stroke="#111" stroke-width="1" stroke-dasharray="1 1.6"/>
<path d="M44.1 383.99 V444.1 M45.62 383.5 V437.7 M47.21 383.25 V439.93 M49.03 377.89 V441.34 M51.07 381.06 V448.06 M52.61 375.21 V443.64 M54.56 381.83 V442.18 M56.69 371.59 V444.4 M58.73 372.83 V451.59 M60.32 383.32 V441.87 M62.5 382.68 V443.61 M64.75 378.21 V445.36 M66.51 377.69 V446.13 M68.05 378.53 V447.42 M70.14 386.07 V445.19 M71.73 386.22 V446.62 M73.48 389.71 V438.95 M75.01 387.12 V439.84 M76.73 389.86 V438.03 M78.69 393.45 V442.27 M80.74 393.71 V439.49 M82.79 390.7 V435.2 M84.72 388.61 V438.8 M86.95 389.89 V442.15 M88.58 394.39 V441.58 M90.4 394.78 V442.98 M92.19 390.04 V441.42 M94.38 390.78 V441.29 M96.16 392.91 V441.79 M98.01 385.55 V438.71 M100 391.38 V440.09 M101.86 386.09 V434.63 M103.56 382.46 V435.95 M105.08 384.74 V434 M107 382.28 V435.05 M109.21 384.85 V432.96 M111.44 384.07 V443.11 M113.09 388.96 V442.84 M115.14 388.78 V441.13 M117.23 379.19 V440.5 M118.85 387.61 V433.55 M120.39 385.06 V442.25 M122.32 382.14 V442.9 M123.93 385.63 V441.31 M126.19 384.04 V437.13 M128.32 388.7 V446.84 M130.13 382.78 V446.95 M132.08 390.64 V439.89 M133.69 391.44 V440.08 M135.38 384.16 V444.21 M136.91 390.57 V447.85 M138.86 389.21 V439.96 M140.95 389.82 V443.2 M143.21 384.41 V440.04 M145.1 387.69 V446.08 M146.74 394.19 V438.62 M148.63 388.78 V442.87 M150.39 384.93 V441.9 M152.2 388.34 V441.93 M154.23 389.97 V433.91 M156.03 385.95 V433.86 M158.12 390.62 V433.31 M160.25 389.74 V436.36 M162.17 383.99 V433.29 M163.74 386.16 V437.98 M165.95 384.86 V431.68 M167.65 387.44 V439.58 M169.89 387.24 V438.75 M171.9 387.8 V434.46 M173.88 385.71 V438.05 M176.1 386.88 V438.86 M177.75 389.64 V432.37 M179.65 391.43 V441.23 M181.8 392.59 V436.06 M183.57 392.18 V443.35 M185.36 384.69 V442.2 M187.54 385.11 V445.91 M189.41 387.24 V444.96 M191.15 387.04 V442.95 M192.68 385.48 V441.35 M194.82 388.08 V446.52 M196.78 389.74 V446.3 M198.76 391.67 V443.49 M200.8 383.13 V439.88 M203.06 388.8 V450.24 M205.04 383.43 V445.4 M207.04 388.04 V444.27 M209.13 380.82 V444.43 M211.18 379.9 V438.59 M213.21 383.92 V438.37 M215.04 384.74 V437.43 M217.03 385.2 V443.98" stroke="#b3dbe8" stroke-width="0.85" fill="none"/>
<path d="M43.9 399.65 V428.11 M44.72 391.92 V433.07 M45.83 392.44 V425.54 M46.6 389.48 V428.45 M47.66 392.15 V430.92 M48.57 389.19 V429 M49.45 394.25 V422.88 M50.29 397.48 V434.87 M51.02 387.96 V433.87 M52.02 391.12 V425.06 M52.9 394.2 V426.36 M53.85 394.81 V436.13 M54.97 395.78 V425.78 M55.71 392.6 V434.42 M56.45 396.12 V436.29 M57.3 391.15 V427.95 M57.99 392.54 V431.26 M58.7 391.08 V432.06 M59.68 397.48 V434.59 M60.43 392.34 V434.74 M61.08 394.89 V435.6 M62.16 391.97 V434.91 M63.3 388.26 V434.12 M63.99 390.65 V431.83 M64.95 389.04 V422.98 M65.99 390.38 V425.66 M66.76 392.08 V426.69 M67.82 395.1 V432.04 M68.99 397.81 V424.71 M70.1 396.05 V434.75 M71.08 391.92 V430.19 M71.99 402.45 V428.44 M72.64 402.72 V432.99 M73.28 400.98 V434.44 M74.29 398.22 V427.41 M75.16 399.9 V436.03 M75.9 403.72 V428.36 M76.93 401.79 V426.14 M77.84 404.38 V433.52 M78.63 406.2 V431.14 M79.71 402.48 V432.22 M80.62 400.72 V433.85 M81.68 405.51 V430.88 M82.56 396.44 V425.77 M83.34 404.76 V427.55 M84.03 399.41 V431 M85.03 398.22 V426.46 M86.12 401.64 V431.06 M87.09 404.59 V424.13 M87.73 405.51 V427.85 M88.42 406.11 V430.8 M89.26 399.65 V428.18 M90.13 402.44 V428.59 M91.2 403.39 V432.79 M91.85 400.01 V425.59 M92.81 407.12 V429.42 M93.44 398.28 V432.75 M94.5 398.32 V425.4 M95.22 404.79 V429.56 M96.34 396.66 V429.82 M97.36 396.7 V426.3 M98.13 403.04 V423.16 M99.2 402.5 V423.82 M100.27 400.2 V430.01 M101.04 397.59 V423.29 M102.16 398.62 V424.03 M103.07 392.77 V419.97 M104.09 392.99 V419.89 M105 398.44 V428.14 M105.93 394.9 V424.4 M106.9 399 V420.34 M107.84 398.97 V425.78 M108.97 398.02 V423.53 M109.8 392.99 V430.85 M110.88 393.12 V423.92 M111.56 400.23 V424.94 M112.29 396.2 V426.04 M113.36 400.37 V429.08 M114.12 396.02 V425.29 M114.78 399.43 V428.54 M115.68 395.96 V423.14 M116.61 390.4 V429.84 M117.56 390.2 V430.61 M118.52 400.16 V421.7 M119.18 395.43 V424.76 M120.34 398.46 V431.46 M121.38 391.29 V428 M122.37 395.42 V421.51 M123.19 395.59 V429.98 M124.08 396.44 V423.91 M124.71 393.43 V426.41 M125.88 400.26 V427.48 M126.79 394.8 V429.56 M127.49 400.25 V430.49 M128.48 395.59 V426.82 M129.12 398.73 V434.85 M129.76 397.21 V433.68 M130.63 394.67 V433.41 M131.26 399.65 V435.93 M132.34 397.79 V433.78 M133.28 401.94 V432.33 M134.28 400.86 V435.4 M135.01 396.24 V428.77 M136.06 399.61 V434.25 M136.88 401.85 V433.53 M137.68 395.95 V433.05 M138.43 401.71 V426.83 M139.13 399.93 V424.86 M139.82 396.75 V433.39 M140.5 401.78 V426.89 M141.62 396.9 V430.84 M142.42 395.9 V429.71 M143.55 397.83 V430.44 M144.24 395.27 V427.19 M144.98 401.42 V429.95 M145.69 398.52 V427.77 M146.67 398.54 V428.05 M147.63 398.75 V432.42 M148.58 403.43 V433.11 M149.72 401.85 V433.09 M150.38 397.46 V426.69 M151.22 402.52 V425 M152.34 401.21 V428.69 M153.24 403.04 V424.74 M153.91 398.92 V424.76 M154.73 402.39 V429.3 M155.42 393.47 V422.85 M156.36 402.25 V428.22 M157.09 397.36 V427.4 M157.8 397.01 V422.11 M158.84 395.33 V421.52 M159.94 402.12 V427.98 M160.87 398.68 V427.08 M161.89 393.48 V422.73 M162.52 394.18 V428.3 M163.54 398.4 V427.1 M164.59 399.97 V427.88 M165.63 397.89 V424.54 M166.63 403.58 V428.01 M167.75 401.24 V421.78 M168.5 400.47 V428.72 M169.42 400.32 V421.52 M170.21 396.96 V422.99 M171.08 398.19 V427.42 M171.95 398.77 V425.72 M172.69 397.35 V422.15 M173.66 393.2 V423.25 M174.72 397.02 V425.23 M175.42 397.24 V427.76 M176.37 394.15 V424.17 M177.27 393.64 V420.35 M178.21 393.01 V425.27 M178.95 394.28 V423.17 M179.96 397.85 V430.83 M180.92 395.44 V422.27 M182.09 403.69 V426.29 M183.23 404.94 V432.15 M184.32 400.9 V426.97 M185.39 400.66 V426.11 M186.52 396.26 V430.05 M187.61 401.06 V432.14 M188.46 399.9 V426.88 M189.61 401.77 V425.8 M190.32 404.54 V432.29 M191.25 395.8 V429.94 M192.31 396.58 V432.84 M193.16 396.95 V426.32 M193.96 402.14 V428.93 M194.72 399.58 V435.37 M195.52 393.29 V431.86 M196.36 394.85 V432 M197.12 395.78 V430.24 M197.95 401.25 V433.59 M198.72 396.12 V429.41 M199.64 400.03 V436.12 M200.75 403.74 V433.41 M201.87 400.89 V437.41 M202.65 399.01 V434.69 M203.4 405.66 V431.56 M204.54 401.57 V435.34 M205.26 401.25 V427.78 M206.28 396.64 V433.36 M207.05 396.25 V427.61 M207.91 399.33 V428.45 M208.57 395.98 V431.94 M209.53 395.22 V425.21 M210.24 396.36 V432.68 M210.97 396.62 V427.26 M211.87 399.7 V425.88 M212.64 391.97 V430.7 M213.5 394.57 V423.26 M214.41 398.06 V431.03 M215.4 394.58 V422.99 M216.28 391.01 V432.01" stroke="#b0d9e7" stroke-width="0.7" fill="none"/>
<path d="M43.8 405.86 V424.16 M44.59 402.1 V421.69 M45.4 397.63 V424.55 M46.2 396.23 V417.32 M47.24 404.5 V418.38 M47.95 403.64 V422.7 M48.42 401.62 V416.77 M49.3 397.31 V420.2 M49.86 396.36 V419.89 M50.79 399.13 V422.19 M51.25 397.44 V420.45 M51.84 399.84 V421.04 M52.57 393.85 V421.17 M53.49 398.84 V427.54 M54.15 402.5 V428.12 M54.63 394.55 V424.27 M55.3 394.16 V418.8 M56.06 405.38 V424.9 M56.62 398.53 V429.73 M57.6 400.66 V426.65 M58.51 400.14 V424.5 M59.05 401.53 V419.95 M59.94 400.18 V423.24 M60.92 399.46 V422.44 M61.53 404.49 V422.3 M62 401.95 V423.07 M63.03 403.83 V424.53 M63.78 396.48 V418.46 M64.28 400.64 V425.42 M64.84 396.76 V419.82 M65.42 404.9 V420.91 M66.1 398.33 V417.45 M66.64 405.26 V417.96 M67.48 401.7 V420.27 M68.27 396.26 V425.68 M69.14 397.76 V418.07 M69.63 402.57 V421.38 M70.64 403.3 V423.74 M71.63 404.58 V427.44 M72.23 406.7 V422.57 M73.01 407.78 V426.12 M73.55 409.29 V428.14 M74.14 406.98 V425.59 M74.9 410.15 V428.48 M75.92 403.95 V423.31 M76.69 408.28 V425.67 M77.72 408.56 V426.47 M78.37 404.54 V423.34 M79.35 404.61 V426.71 M80.09 409.02 V420.33 M80.73 410.3 V425.55 M81.58 406.8 V425.81 M82.35 409.86 V420.3 M82.92 407.32 V419.46 M83.73 405.79 V423.91 M84.44 403.06 V422.48 M84.9 402.88 V424.08 M85.84 402.39 V419.23 M86.44 409.64 V422.28 M87.4 409.74 V422.88 M87.93 404.4 V425.94 M88.41 406.83 V421.27 M89.43 403.55 V424.52 M90.46 408.58 V427.01 M91.17 409.58 V427.47 M92.03 411.02 V426.99 M92.9 406.74 V425.87 M93.5 406.69 V426.43 M93.99 410.28 V426.54 M94.81 406.83 V421.59 M95.44 403.85 V422.68 M95.92 403.39 V420.7 M96.87 402.91 V422.39 M97.68 405.15 V422.96 M98.64 406.39 V424.39 M99.43 407.16 V418.63 M100.24 405.62 V417.37 M100.79 400.41 V420.87 M101.82 403.91 V420.38 M102.62 401.4 V415.79 M103.53 398.44 V419.54 M104.09 399.95 V415.19 M104.74 398.55 V420.04 M105.7 401.19 V422.18 M106.68 403.73 V416.62 M107.56 402.92 V416.95 M108.36 406.55 V417.86 M109.29 406.98 V419.06 M109.75 398.58 V421.6 M110.38 399.23 V421.13 M111.1 402.22 V419.16 M111.73 404.1 V419.06 M112.53 401.16 V417.56 M113.57 400.41 V424 M114.47 406.15 V420.97 M115.18 400.56 V420.52 M116.06 400.13 V422.55 M116.88 404.64 V422.94 M117.8 397.42 V417.92 M118.35 401.98 V418.62 M119.29 399.74 V422.63 M120 404.48 V416.66 M120.67 403.63 V423.35 M121.48 399.12 V420.49 M121.99 403.54 V420.4 M122.55 405.73 V423.19 M123.44 403.27 V424.78 M124.15 398.59 V423.47 M124.95 405.42 V422.81 M125.93 405.09 V426.8 M126.93 405.52 V425.71 M127.92 408.56 V428.23 M128.48 401.42 V426.51 M129.14 408.43 V426.51 M130.1 402.3 V426.76 M131.12 404.72 V422.8 M131.83 407.19 V430.46 M132.51 400.86 V425.86 M133.06 409.61 V424.34 M133.58 404.14 V424.65 M134.63 401.09 V421.83 M135.31 405.39 V425.55 M136.23 404.93 V423.92 M136.84 400.79 V419.98 M137.78 407.5 V426.05 M138.45 400.06 V420.64 M139.01 400.88 V424.92 M139.64 409.25 V421.59 M140.18 407.44 V427.85 M141.16 403.07 V424.01 M142.1 405.29 V423.23 M142.72 401.61 V423.62 M143.46 408.05 V428.36 M144.14 407.93 V427.01 M144.71 409.76 V428.22 M145.6 405.81 V423.05 M146.43 405.59 V423.9 M146.92 403.53 V425.08 M147.83 409.11 V426.14 M148.53 407.92 V421.91 M149.13 410.43 V423.25 M150.03 405.5 V426.03 M150.48 404.77 V424.31 M151.07 408.8 V421.21 M152.03 401.39 V426.74 M152.68 402.72 V423.12 M153.62 404.63 V422.76 M154.55 407.26 V421.63 M155.22 402.71 V424.67 M155.9 404.13 V422.85 M156.74 403.79 V421.58 M157.43 405.7 V419.37 M158.08 404.92 V423.05 M158.95 401.79 V421.45 M159.72 401.03 V422.9 M160.69 405.47 V417.63 M161.18 399.11 V417.5 M162.03 406.42 V417.48 M162.78 406.51 V419.08 M163.55 404.86 V420.58 M164.32 404.64 V421.84 M165.18 402.44 V420.89 M165.85 403.08 V423.88 M166.65 400.19 V419.97 M167.55 407.51 V422.42 M168.31 407.6 V418.43 M169.08 401.36 V416.45 M169.86 400.81 V420.9 M170.87 406.17 V417.6 M171.87 400.3 V419.83 M172.82 398.92 V422.56 M173.87 404.73 V415.18 M174.36 405.68 V422.4 M174.87 398.98 V420.11 M175.61 403.02 V417.54 M176.21 398.52 V420.72 M176.68 402.3 V417.27 M177.15 398.98 V421.48 M177.79 399.95 V418.15 M178.43 399.15 V423.92 M179.19 399.36 V423.73 M179.95 404.64 V422.82 M180.68 403.14 V425.74 M181.59 405.98 V418.82 M182.15 404.67 V422 M183.08 401.64 V420.55 M184.05 401.77 V427.81 M184.52 409.7 V419.74 M185.16 409.86 V422.45 M185.82 402.05 V424.21 M186.44 406 V425.77 M186.96 403.69 V427.66 M187.91 402.32 V423.46 M188.63 409.21 V421.97 M189.66 407.27 V427.97 M190.65 401.15 V420.97 M191.63 403.53 V421.31 M192.28 407.74 V423.41 M192.78 407.63 V421.1 M193.65 403.78 V427.44 M194.24 403.26 V419.68 M195 401.15 V428.75 M195.46 406.97 V421.73 M195.94 409.37 V424.39 M196.42 406.98 V425.99 M197.04 407.26 V425.77 M197.72 403.39 V425.17 M198.55 407.02 V423.54 M199.08 401.62 V428.7 M200.09 409.13 V430.31 M201.1 408.4 V424.24 M201.89 409.42 V425.95 M202.45 402.08 V426.45 M203.47 404.85 V426.22 M204.51 409.35 V427.32 M205.35 406.17 V421.41 M206.1 405.46 V428.17 M206.7 405.8 V422.34 M207.56 399.51 V421.15 M208.51 406.15 V419.34 M209.04 399.09 V426.9 M209.66 398.61 V426.11 M210.37 402.8 V423.58 M210.92 406.85 V419.83 M211.38 400.43 V422.32 M212.02 399.25 V418.25 M212.62 403.72 V418.55 M213.12 398.25 V417.44 M213.98 405.24 V416.63 M214.77 398.01 V424.51 M215.42 406.28 V423.99 M216.35 398.77 V422.88" stroke="#8cc9dc" stroke-width="0.75" fill="none"/>
<path d="M61.57 371.88 V471.33" stroke="#8fcbdc" stroke-width="0.9"/>
<path d="M87.01 476.9 V471.9 M87.01 349.6 V354.6 M130.42 476.9 V471.9 M130.42 349.6 V354.6 M173.83 476.9 V471.9 M173.83 349.6 V354.6 M217.24 476.9 V471.9 M217.24 349.6 V354.6 M43.6 445.07 H48.6 M234.6 445.07 H229.6 M43.6 413.25 H48.6 M234.6 413.25 H229.6 M43.6 381.43 H48.6 M234.6 381.43 H229.6" stroke="#111" stroke-width="1.2" fill="none"/>
<rect x="43.6" y="349.6" width="191" height="127.3" fill="none" stroke="#111" stroke-width="1.4"/>
<text x="43.6" y="487.9" font-size="11" text-anchor="middle" font-weight="normal" fill="#1a1a1a" >0</text>
<text x="87.01" y="487.9" font-size="11" text-anchor="middle" font-weight="normal" fill="#1a1a1a" >5</text>
<text x="130.42" y="487.9" font-size="11" text-anchor="middle" font-weight="normal" fill="#1a1a1a" >10</text>
<text x="173.83" y="487.9" font-size="11" text-anchor="middle" font-weight="normal" fill="#1a1a1a" >15</text>
<text x="217.24" y="487.9" font-size="11" text-anchor="middle" font-weight="normal" fill="#1a1a1a" >20</text>
<text x="42.2" y="480.86" font-size="11" text-anchor="end" font-weight="normal" fill="#1a1a1a" >-0.04</text>
<text x="42.2" y="449.03" font-size="11" text-anchor="end" font-weight="normal" fill="#1a1a1a" >-0.02</text>
<text x="42.2" y="417.21" font-size="11" text-anchor="end" font-weight="normal" fill="#1a1a1a" >0.00</text>
<text x="42.2" y="385.38" font-size="11" text-anchor="end" font-weight="normal" fill="#1a1a1a" >0.02</text>
<text x="42.2" y="353.56" font-size="11" text-anchor="end" font-weight="normal" fill="#1a1a1a" >0.04</text>
<text x="139.6" y="507.4" font-size="12.4" text-anchor="middle" font-weight="normal" fill="#1a1a1a" >Time, s</text>
<text x="11" y="412.55" font-size="12.4" text-anchor="middle" font-weight="normal" fill="#1a1a1a" transform="rotate(-90 11 412.55)" >Residuals</text>
<text x="49" y="367.2" font-size="19.5" text-anchor="start" font-weight="bold" fill="#1a1a1a" >G</text>
<path d="M465 412 H476" stroke="#111" stroke-width="1" stroke-dasharray="1 1.6"/>
<path d="M285.2 379.47 V436.17 M286.83 379.26 V441.77 M288.32 382.44 V444.64 M289.79 381.53 V444.74 M291.41 383.51 V443.31 M292.81 374.35 V448.3 M294.41 373.75 V437.39 M296.01 385.24 V442.54 M297.35 384.68 V445.08 M298.78 385.34 V439.89 M300.28 380.68 V439.77 M301.97 380.98 V444.14 M303.5 377.12 V445.22 M304.88 378.81 V450.5 M306.48 376.66 V441.84 M308.13 383.33 V442.99 M309.9 382.18 V449.68 M311.53 388.43 V441.48 M313.36 384.22 V436.58 M314.79 388.7 V448.92 M316.7 379.07 V443.22 M318.46 387.14 V438.69 M320.08 384.57 V435.06 M321.99 383.28 V440.43 M323.48 385.42 V438.6 M325.29 379.15 V438.17 M326.58 378.25 V436.6 M328.23 387.91 V441.46 M329.76 381.82 V438.3 M331.26 381.07 V445.49 M332.61 384.08 V433.75 M334.37 379.67 V436.24 M335.91 379.87 V442.35 M337.3 376.82 V444.26 M338.67 377.01 V444.32 M340.46 381.34 V437.97 M342.33 380.76 V440.24 M343.78 376.46 V441.7 M345.4 380.55 V447.72 M347.08 386.38 V445.04 M348.67 381.21 V446.93 M350.11 386.07 V439.08 M351.57 388.37 V446.5 M353.04 385.69 V439.17 M354.5 385.06 V441.89 M356.08 380.01 V449.79 M357.99 386.7 V440.96 M359.68 384.73 V449.86 M361.1 376.12 V446.55 M362.89 385.92 V440.18 M364.63 384.82 V437 M366.13 377.44 V437.02 M367.46 385.12 V441.67 M369.16 382.84 V448.2 M370.72 376.91 V439.66 M372.39 372.38 V441.68 M373.81 380.01 V441.49 M375.41 378.94 V435.8 M376.8 380.33 V444.97 M378.57 376.38 V442.11 M380.47 383.06 V441.84 M382.23 376.6 V440.99 M384.05 382.77 V445.06 M385.33 388.73 V448.05 M386.68 380.76 V439.42 M388.09 384.73 V447.82 M389.73 378.27 V444.88 M391.33 383.87 V438.59 M392.62 385.16 V442.94 M394.46 381.95 V446.34 M396.33 378.58 V445.79 M397.69 386.02 V437.89 M399.53 380.11 V439.41 M401.17 379.63 V445.32 M402.59 380.25 V444.75 M403.89 387.88 V439.89 M405.31 377.61 V443.38 M407.05 378.53 V438.24 M408.48 379.99 V439.25 M410.36 379.3 V438.9 M412.18 382.33 V436.25 M413.96 380.81 V437.52 M415.69 373.75 V437.62 M417.47 376.49 V436.29 M419.29 380.49 V436.82 M420.91 382.77 V437.96 M422.24 384.17 V441.88 M423.94 385.85 V446.42 M425.28 384.73 V446.83 M427.13 373.47 V446.53 M428.71 386.28 V445.61 M430.11 380.32 V446.62 M431.92 383.14 V452.34 M433.84 376.02 V448.29 M435.59 375.33 V451.99 M437.41 378.66 V439.31 M439.09 382.69 V440.39 M440.94 375.88 V445.17 M442.52 380.53 V441.01 M444.06 381.16 V437.13 M445.91 386.73 V441.59 M447.25 384.29 V449.06 M448.77 376.89 V437.28 M450.21 374.83 V447.5 M451.67 373.75 V443.84 M453.28 381.84 V438.97 M455.16 377.83 V441.22 M456.47 383.95 V446.43 M458.11 382.78 V433.94 M459.55 384.43 V436.01 M461.05 385.45 V434.63 M462.39 381.98 V434.79" stroke="#b8deea" stroke-width="1.0" fill="none"/>
<path d="M285 390.48 V433.39 M285.85 389.58 V432.07 M286.6 389.61 V430.15 M287.6 386.16 V431.94 M288.71 388.51 V434.73 M289.62 389.07 V437.72 M290.71 384.33 V438.01 M291.34 387.61 V437.9 M292.04 389.96 V433.95 M293.04 389.27 V432.21 M294.09 392.2 V436.76 M294.95 386.85 V436.11 M295.63 384.46 V437.27 M296.46 391.17 V430.38 M297.26 386.59 V437.38 M298.07 391.32 V433.02 M299.22 392.74 V431.66 M300.22 392.6 V432.73 M301.29 391.41 V435.84 M302.22 391.97 V432.77 M303.01 386.67 V430.76 M303.69 391.66 V432.62 M304.62 390.1 V435.11 M305.42 390.53 V437.71 M306.49 390.56 V437.86 M307.13 394.03 V437.31 M307.97 392.71 V435.7 M308.8 387.65 V434.01 M309.88 390.47 V438.47 M310.78 387.46 V435.42 M311.42 389.42 V437.77 M312.1 387.52 V435.08 M313.13 393.89 V438.1 M314.11 391.16 V438.04 M315.04 391.23 V430.03 M315.97 389.38 V432.55 M316.96 390.83 V430.95 M317.89 391.49 V431.8 M318.88 394.84 V431.84 M319.74 387.14 V434.32 M320.71 393.81 V431.89 M321.54 387.21 V431.83 M322.63 389.44 V435.1 M323.26 387.12 V435.56 M323.98 394.11 V430.2 M324.92 390.22 V431 M326.05 389.72 V434.94 M326.99 392.79 V435.23 M328.16 390.55 V433.34 M329.13 392.63 V431.81 M330.11 389.23 V431.5 M331.06 388.25 V433.43 M331.74 386.55 V430.83 M332.75 390.9 V427.64 M333.74 391.1 V431.93 M334.51 392.48 V429.93 M335.59 386.53 V435.83 M336.45 387.84 V429.25 M337.48 390.84 V435.18 M338.22 387.56 V428.87 M339.3 391 V429.73 M340.1 388.63 V432.55 M340.85 392.71 V434.89 M341.83 394.31 V436.21 M342.54 392.85 V429.55 M343.44 387.63 V437.73 M344.32 394.18 V434.03 M345.11 392.43 V432.22 M346.26 391.69 V430.4 M347.15 389.03 V437.76 M348.19 388.99 V432.51 M349.01 391.12 V432.1 M349.87 394.28 V431.78 M350.95 393.6 V435.37 M351.92 386.56 V433.95 M352.65 387.03 V433.97 M353.43 393.51 V435.28 M354.18 391.5 V434.27 M355.15 390.55 V437.4 M355.94 391.53 V440.31 M356.7 387.34 V437.52 M357.68 393.04 V431.04 M358.71 393.19 V433.1 M359.88 384.78 V439.2 M360.82 389.3 V434.81 M361.63 384.39 V437.94 M362.8 390.34 V435.54 M363.8 389.39 V435.39 M364.53 389.91 V431.1 M365.51 389.58 V433.6 M366.35 392.07 V437.79 M367.37 389.46 V437.63 M368.37 383.25 V433.46 M369.05 391.22 V435.96 M370 390.33 V434 M370.91 384.48 V429.37 M371.6 388.31 V430.09 M372.77 390.62 V434.37 M373.64 385.44 V429.18 M374.44 388.38 V429.71 M375.42 387.97 V436.11 M376.29 390.29 V431.52 M377.05 384.76 V435.84 M377.86 389.27 V429.66 M378.81 387.05 V430.84 M379.68 387.78 V432.78 M380.6 392.26 V435.92 M381.29 390.05 V431.57 M381.98 386.91 V430.84 M382.86 389.29 V431.52 M383.75 390.28 V433.1 M384.58 392.87 V437.12 M385.48 389.32 V434 M386.27 391.44 V436.5 M387.37 387.81 V431.41 M388.19 394.94 V437.97 M389.16 390.21 V433.3 M389.92 393.01 V432.12 M390.84 389.57 V436.66 M391.62 394.98 V435.73 M392.48 395.02 V434.71 M393.17 395.78 V429.77 M393.91 392.63 V430.98 M394.58 392.53 V437.04 M395.21 394.7 V436.96 M396.19 389.7 V436.93 M396.93 390.4 V431.51 M398.07 388.49 V430.53 M399.14 395.82 V433.99 M400.03 391.14 V435.17 M401.13 391.72 V429.36 M402.25 395.13 V435.12 M402.95 388.03 V433.7 M403.75 388.15 V429.83 M404.49 392.42 V431.66 M405.24 387.32 V431.78 M406.38 392.57 V431.88 M407.45 386.17 V431.62 M408.33 386.36 V431.41 M409.2 386.05 V431.91 M409.9 385.99 V431.93 M410.72 386.15 V427.83 M411.86 392.86 V428.33 M413 389.36 V429.27 M414.16 390.45 V435.93 M415.04 390.09 V432.88 M416.16 384.68 V434.12 M416.99 385.65 V436.29 M417.92 386.95 V436.03 M418.91 387.48 V431.94 M419.87 391.12 V429.86 M420.64 389.35 V432.05 M421.65 389.98 V433.75 M422.43 392.68 V435.88 M423.19 389.37 V434.99 M424.18 389.92 V432.43 M425.29 387.95 V432.44 M426.34 389.04 V434.28 M427.02 391.99 V431.58 M428.02 387.28 V434.84 M428.68 392.65 V439.66 M429.8 390.66 V432.49 M430.67 390.4 V431.51 M431.68 388.4 V436.88 M432.75 386.95 V433.54 M433.42 391.15 V439.77 M434.47 392.23 V438.44 M435.4 392.03 V438.32 M436.19 391.42 V433.49 M437.12 390.41 V437.41 M437.75 390.77 V431.85 M438.55 393.68 V436.44 M439.67 386.52 V435.77 M440.49 394.3 V437.03 M441.29 390.65 V436.65 M442.02 389.02 V434.91 M442.86 386.41 V437.27 M443.57 385.67 V430.44 M444.33 392.64 V433.33 M445.04 391.25 V433.67 M445.93 391.26 V430.42 M446.85 387.9 V435.46 M447.5 392.58 V435.38 M448.18 392.87 V433.25 M449.01 387.4 V429.36 M449.76 390.81 V431.7 M450.39 388.44 V428.78 M451.19 385.26 V429.88 M452.16 389.25 V436.39 M453.03 391.49 V436.82 M454.05 392.16 V432.55 M454.85 385.7 V429.26 M455.82 385.16 V435.58 M456.94 387.84 V430.27 M457.61 392.12 V435.26 M458.62 392.85 V435.87 M459.53 392.43 V431.69 M460.37 392.24 V433 M461.29 391.92 V434.45 M462.21 391.58 V429.12 M463.11 393.33 V435.52 M464.01 387.24 V430.66" stroke="#a5d5e4" stroke-width="0.7" fill="none"/>
<path d="M284.7 391.44 L285.3 393.99 L285.9 394.21 L286.5 389.24 L287.1 390.18 L287.7 390.52 L288.3 387.98 L288.9 390.78 L289.5 391.94 L290.1 393.74 L290.7 393.23 L291.3 391.99 L291.9 388.31 L292.5 392.8 L293.1 390.04 L293.7 393.14 L294.3 389.68 L294.9 391.83 L295.5 391.76 L296.1 394.19 L296.7 394.32 L297.3 395.29 L297.9 394.5 L298.5 392.37 L299.1 391.79 L299.7 394.68 L300.3 394.17 L300.9 394.15 L301.5 391.04 L302.1 392.72 L302.7 395.95 L303.3 390.65 L303.9 393.42 L304.5 395.54 L305.1 396.21 L305.7 391.59 L306.3 396.73 L306.9 396.7 L307.5 396.7 L308.1 393.99 L308.7 393.63 L309.3 394.05 L309.9 394.4 L310.5 394.37 L311.1 392.07 L311.7 397.67 L312.3 393.83 L312.9 392.89 L313.5 392.96 L314.1 397.53 L314.7 393.21 L315.3 397.22 L315.9 393.3 L316.5 393.81 L317.1 397.41 L317.7 394.78 L318.3 394.3 L318.9 394.88 L319.5 391.67 L320.1 394.73 L320.7 392.66 L321.3 393.79 L321.9 394.33 L322.5 393.32 L323.1 395.79 L323.7 393.89 L324.3 392.88 L324.9 395.76 L325.5 392.14 L326.1 393.24 L326.7 395.53 L327.3 394.76 L327.9 396.43 L328.5 395.59 L329.1 394.83 L329.7 391.81 L330.3 391.77 L330.9 395.13 L331.5 395.62 L332.1 390.8 L332.7 392.13 L333.3 392.54 L333.9 395.09 L334.5 393.48 L335.1 390.43 L335.7 394.86 L336.3 394.51 L336.9 393.16 L337.5 393.52 L338.1 390.8 L338.7 392.16 L339.3 391.35 L339.9 391.54 L340.5 396.7 L341.1 396.45 L341.7 395.04 L342.3 394.98 L342.9 392.06 L343.5 391.66 L344.1 396.51 L344.7 394.1 L345.3 393.92 L345.9 396.13 L346.5 391.23 L347.1 392.12 L347.7 391.7 L348.3 395.85 L348.9 395.76 L349.5 395.63 L350.1 397.48 L350.7 396.87 L351.3 397.22 L351.9 394.43 L352.5 396.13 L353.1 397.23 L353.7 391.28 L354.3 393.99 L354.9 395.92 L355.5 395.32 L356.1 395.25 L356.7 393.51 L357.3 396.02 L357.9 393.61 L358.5 389.96 L359.1 395.19 L359.7 392.67 L360.3 393.78 L360.9 392.97 L361.5 395.42 L362.1 390.07 L362.7 390.33 L363.3 393.44 L363.9 388.89 L364.5 393.47 L365.1 391.52 L365.7 390.4 L366.3 388.62 L366.9 389.13 L367.5 393.92 L368.1 394.52 L368.7 394.19 L369.3 390.1 L369.9 393.37 L370.5 394.64 L371.1 388.96 L371.7 392.16 L372.3 388.36 L372.9 388.82 L373.5 392.67 L374.1 390.38 L374.7 391.15 L375.3 393.06 L375.9 388.86 L376.5 389.46 L377.1 390.86 L377.7 390.83 L378.3 390.9 L378.9 390.3 L379.5 390.57 L380.1 395.56 L380.7 390.17 L381.3 395.92 L381.9 394.36 L382.5 391.49 L383.1 396.64 L383.7 394.63 L384.3 391.13 L384.9 392.74 L385.5 394.94 L386.1 395.25 L386.7 393.27 L387.3 392.3 L387.9 397.77 L388.5 396.76 L389.1 397.51 L389.7 396.12 L390.3 398.07 L390.9 392.83 L391.5 396.63 L392.1 393.43 L392.7 395.26 L393.3 394.01 L393.9 396.1 L394.5 392.86 L395.1 393.85 L395.7 395.8 L396.3 395.42 L396.9 397.52 L397.5 393.61 L398.1 394.05 L398.7 398 L399.3 397.51 L399.9 396.66 L400.5 397.31 L401.1 395.89 L401.7 392.14 L402.3 396.11 L402.9 392.44 L403.5 394.43 L404.1 396.26 L404.7 391.72 L405.3 393.05 L405.9 395.5 L406.5 393.49 L407.1 394.83 L407.7 396.03 L408.3 396.14 L408.9 392.89 L409.5 392.35 L410.1 391.55 L410.7 391.33 L411.3 391.52 L411.9 390.63 L412.5 391.35 L413.1 393.29 L413.7 395.54 L414.3 394.18 L414.9 391.24 L415.5 393.11 L416.1 393.55 L416.7 391.87 L417.3 389.39 L417.9 393.42 L418.5 394.06 L419.1 391.4 L419.7 394.78 L420.3 392.83 L420.9 394.92 L421.5 395.22 L422.1 395.84 L422.7 389.98 L423.3 390.97 L423.9 395.02 L424.5 394.78 L425.1 394.18 L425.7 392.49 L426.3 393.82 L426.9 396.24 L427.5 390.35 L428.1 392.39 L428.7 395.47 L429.3 392.81 L429.9 392.4 L430.5 395.41 L431.1 392.15 L431.7 390.97 L432.3 390.52 L432.9 390.44 L433.5 395.8 L434.1 396.32 L434.7 397.09 L435.3 393.09 L435.9 391.12 L436.5 392.85 L437.1 390.59 L437.7 391.04 L438.3 396.83 L438.9 391.71 L439.5 390.96 L440.1 391.39 L440.7 393.13 L441.3 391.93 L441.9 395.95 L442.5 393.76 L443.1 394.1 L443.7 393.74 L444.3 395.36 L444.9 390.56 L445.5 391.45 L446.1 392.69 L446.7 393.95 L447.3 394.98 L447.9 394.54 L448.5 392.92 L449.1 390.34 L449.7 390.48 L450.3 392 L450.9 393.05 L451.5 392.57 L452.1 393.53 L452.7 393.01 L453.3 393.33 L453.9 393.22 L454.5 395.19 L455.1 393.01 L455.7 392.21 L456.3 390.9 L456.9 394.6 L457.5 393.63 L458.1 394.54 L458.7 390.08 L459.3 395.89 L459.9 394.53 L460.5 394.86 L461.1 390.92 L461.7 392.03 L462.3 396.25 L462.9 393.14 L463.5 391.88 L463.5 428.32 L462.9 428.82 L462.3 427.79 L461.7 426.34 L461.1 426.62 L460.5 426.32 L459.9 425.67 L459.3 430.25 L458.7 427.52 L458.1 431.28 L457.5 425.62 L456.9 428.82 L456.3 426.69 L455.7 430.5 L455.1 427.2 L454.5 427.17 L453.9 429.02 L453.3 426.39 L452.7 426.7 L452.1 426.63 L451.5 428.6 L450.9 428.1 L450.3 428.38 L449.7 431.51 L449.1 430.82 L448.5 431.91 L447.9 432.45 L447.3 430.95 L446.7 428.89 L446.1 428.11 L445.5 432.99 L444.9 431.55 L444.3 430.32 L443.7 433.74 L443.1 433.13 L442.5 430.31 L441.9 432.75 L441.3 430.86 L440.7 428.89 L440.1 429.7 L439.5 431.12 L438.9 434.37 L438.3 430.93 L437.7 430.08 L437.1 433.2 L436.5 429.58 L435.9 434.78 L435.3 431.16 L434.7 434.56 L434.1 433.32 L433.5 430.36 L432.9 430.36 L432.3 430.85 L431.7 433.65 L431.1 432.75 L430.5 432.61 L429.9 429.2 L429.3 429.04 L428.7 432.98 L428.1 431.27 L427.5 428.48 L426.9 429.41 L426.3 428.95 L425.7 433.32 L425.1 431.53 L424.5 427.89 L423.9 432.21 L423.3 430.68 L422.7 432.88 L422.1 427.18 L421.5 429.98 L420.9 429.9 L420.3 431.2 L419.7 432.67 L419.1 427.44 L418.5 432.17 L417.9 432.06 L417.3 426.57 L416.7 426.11 L416.1 430.53 L415.5 431.32 L414.9 426.74 L414.3 427.71 L413.7 425.67 L413.1 428.93 L412.5 425.44 L411.9 426.36 L411.3 430.15 L410.7 428.29 L410.1 428.17 L409.5 428.63 L408.9 428.18 L408.3 427.37 L407.7 427.28 L407.1 426.46 L406.5 431.28 L405.9 429.29 L405.3 431.19 L404.7 429.66 L404.1 430.87 L403.5 427.54 L402.9 431.96 L402.3 432.29 L401.7 427.18 L401.1 430.19 L400.5 428.03 L399.9 429.24 L399.3 431.02 L398.7 427.4 L398.1 430.29 L397.5 432.78 L396.9 431.34 L396.3 428.28 L395.7 430.55 L395.1 430 L394.5 433.21 L393.9 429.28 L393.3 427.82 L392.7 428.39 L392.1 432.56 L391.5 427.56 L390.9 428 L390.3 427.54 L389.7 431.73 L389.1 431 L388.5 428.17 L387.9 433.01 L387.3 430.48 L386.7 432.14 L386.1 427.41 L385.5 430.69 L384.9 431.18 L384.3 428.4 L383.7 433.09 L383.1 429.7 L382.5 430.97 L381.9 427.09 L381.3 430.69 L380.7 432.85 L380.1 427.27 L379.5 432.21 L378.9 427.62 L378.3 426.76 L377.7 427.49 L377.1 427.03 L376.5 431.1 L375.9 430.07 L375.3 432.25 L374.7 432.59 L374.1 428.94 L373.5 430.44 L372.9 431.75 L372.3 432.06 L371.7 431.43 L371.1 427.56 L370.5 426.96 L369.9 427.53 L369.3 431.64 L368.7 428.1 L368.1 432.55 L367.5 429.54 L366.9 431.28 L366.3 427.42 L365.7 431.65 L365.1 429.61 L364.5 433.54 L363.9 431.53 L363.3 428.7 L362.7 428.1 L362.1 429.2 L361.5 431.09 L360.9 434.58 L360.3 428.6 L359.7 434.66 L359.1 434.78 L358.5 430.69 L357.9 432.05 L357.3 429.12 L356.7 428.72 L356.1 431.53 L355.5 433.05 L354.9 432.64 L354.3 432.21 L353.7 430.18 L353.1 429.27 L352.5 433.33 L351.9 432.76 L351.3 434.72 L350.7 432.06 L350.1 429.59 L349.5 432.89 L348.9 429.88 L348.3 434.19 L347.7 430.21 L347.1 429.25 L346.5 429.65 L345.9 432.9 L345.3 433.96 L344.7 429.24 L344.1 430.15 L343.5 432.6 L342.9 431.05 L342.3 430.05 L341.7 428.59 L341.1 429.43 L340.5 431.52 L339.9 426.63 L339.3 428.06 L338.7 427.62 L338.1 431.52 L337.5 431.49 L336.9 425.89 L336.3 431.3 L335.7 425.9 L335.1 426.04 L334.5 431.15 L333.9 427.84 L333.3 425.17 L332.7 426.97 L332.1 427.93 L331.5 430.3 L330.9 429.36 L330.3 425.93 L329.7 428.93 L329.1 426.62 L328.5 428.07 L327.9 430.57 L327.3 430.49 L326.7 427 L326.1 428.58 L325.5 427.85 L324.9 427.12 L324.3 426.63 L323.7 431.26 L323.1 430.6 L322.5 427.1 L321.9 430.06 L321.3 427.56 L320.7 426.13 L320.1 428.76 L319.5 426.43 L318.9 430.79 L318.3 431.7 L317.7 432.11 L317.1 430.04 L316.5 429.5 L315.9 428.33 L315.3 431.65 L314.7 431.89 L314.1 428.69 L313.5 427.98 L312.9 429.79 L312.3 433.68 L311.7 429.79 L311.1 429.5 L310.5 428.14 L309.9 431.28 L309.3 430.22 L308.7 431.57 L308.1 430.71 L307.5 428.61 L306.9 431.76 L306.3 430.85 L305.7 430.7 L305.1 434.7 L304.5 430.59 L303.9 429.17 L303.3 432.3 L302.7 433.44 L302.1 431.76 L301.5 433.2 L300.9 432.4 L300.3 431.79 L299.7 434.32 L299.1 433.86 L298.5 430.03 L297.9 430.36 L297.3 428.57 L296.7 430.59 L296.1 427.74 L295.5 430.97 L294.9 427.69 L294.3 428.33 L293.7 433.29 L293.1 431.5 L292.5 428.58 L291.9 433.4 L291.3 430.89 L290.7 429.19 L290.1 430.82 L289.5 428.3 L288.9 432.64 L288.3 427.09 L287.7 432.27 L287.1 430.19 L286.5 429.24 L285.9 432.7 L285.3 429.27 L284.7 432.63 Z" fill="#8fcbdc" stroke="none"/>
<path d="M297.85 368.95 V475.4" stroke="#8cc9db" stroke-width="1"/>
<path d="M314.59 475.4 V470.4 M314.59 348.3 V353.3 M344.48 475.4 V470.4 M344.48 348.3 V353.3 M374.37 475.4 V470.4 M374.37 348.3 V353.3 M404.26 475.4 V470.4 M404.26 348.3 V353.3 M434.15 475.4 V470.4 M434.15 348.3 V353.3 M464.04 475.4 V470.4 M464.04 348.3 V353.3 M284.7 443.62 H289.7 M476 443.62 H471 M284.7 411.85 H289.7 M476 411.85 H471 M284.7 380.07 H289.7 M476 380.07 H471" stroke="#111" stroke-width="1.2" fill="none"/>
<rect x="284.7" y="348.3" width="191.3" height="127.1" fill="none" stroke="#111" stroke-width="1.4"/>
<text x="0" y="0" font-size="11" text-anchor="middle" font-weight="normal" fill="#1a1a1a" transform="translate(284.7 487.4) scale(1.09 1)" >0</text>
<text x="0" y="0" font-size="11" text-anchor="middle" font-weight="normal" fill="#1a1a1a" transform="translate(314.59 487.4) scale(1.09 1)" >5</text>
<text x="0" y="0" font-size="11" text-anchor="middle" font-weight="normal" fill="#1a1a1a" transform="translate(344.48 487.4) scale(1.09 1)" >10</text>
<text x="0" y="0" font-size="11" text-anchor="middle" font-weight="normal" fill="#1a1a1a" transform="translate(374.37 487.4) scale(1.09 1)" >15</text>
<text x="0" y="0" font-size="11" text-anchor="middle" font-weight="normal" fill="#1a1a1a" transform="translate(404.26 487.4) scale(1.09 1)" >20</text>
<text x="0" y="0" font-size="11" text-anchor="middle" font-weight="normal" fill="#1a1a1a" transform="translate(434.15 487.4) scale(1.09 1)" >25</text>
<text x="0" y="0" font-size="11" text-anchor="middle" font-weight="normal" fill="#1a1a1a" transform="translate(464.04 487.4) scale(1.09 1)" >30</text>
<text x="0" y="0" font-size="11" text-anchor="end" font-weight="normal" fill="#1a1a1a" transform="translate(283.3 479.36) scale(0.92 1)" >-0.04</text>
<text x="0" y="0" font-size="11" text-anchor="end" font-weight="normal" fill="#1a1a1a" transform="translate(283.3 447.58) scale(0.92 1)" >-0.02</text>
<text x="0" y="0" font-size="11" text-anchor="end" font-weight="normal" fill="#1a1a1a" transform="translate(283.3 415.81) scale(0.92 1)" >0.00</text>
<text x="0" y="0" font-size="11" text-anchor="end" font-weight="normal" fill="#1a1a1a" transform="translate(283.3 384.03) scale(0.92 1)" >0.02</text>
<text x="0" y="0" font-size="11" text-anchor="end" font-weight="normal" fill="#1a1a1a" transform="translate(283.3 352.26) scale(0.92 1)" >0.04</text>
<text x="380.85" y="505.9" font-size="12.4" text-anchor="middle" font-weight="normal" fill="#1a1a1a" >Time, s</text>
<text x="255.2" y="411.15" font-size="12.4" text-anchor="middle" font-weight="normal" fill="#1a1a1a" transform="rotate(-90 255.2 411.15)" >Residuals</text>
<text x="291.8" y="367.2" font-size="19.5" text-anchor="start" font-weight="bold" fill="#1a1a1a" >H</text>
<path d="M530.6 403.6 L531.5 409 L532.7 411.3 L534.3 413.8 L535.4 417 L536.2 418" fill="none" stroke="#cde8f1" stroke-width="1.8" stroke-linejoin="round" />
<path d="M536.5 412 L536.66 407.37 L536.9 400.57 L537.16 394.05 L537.4 390.3 L537.59 390.51 L537.76 393.19 L537.95 396.75 L538.2 399.6 L538.53 401.46 L538.93 403.14 L539.33 404.65 L539.7 406 L540.02 407.14 L540.33 408.07 L540.61 408.92 L540.9 409.8 L541.17 410.75 L541.43 411.7 L541.7 412.63 L542 413.5 L542.35 414.42 L542.73 415.36 L543.12 416.12 L543.5 416.5 L543.88 416.23 L544.25 415.5 L544.62 414.77 L545 414.5 L545.38 415.03 L545.75 416.03 L546.12 417.02 L546.5 417.5 L546.88 417.14 L547.25 416.27 L547.62 415.39 L548 415 L548.38 415.45 L548.75 416.39 L549.12 417.32 L549.5 417.7 L549.88 417.19 L550.25 416.12 L550.62 415.05 L551 414.5 L551.38 414.81 L551.75 415.62 L552.12 416.45 L552.5 416.8 L552.86 416.35 L553.22 415.42 L553.59 414.48 L554 414 L554.47 414.21 L554.99 414.82 L555.51 415.53 L556 416 L556.44 416.34 L556.84 416.64 L557.25 416.63 L557.7 416 L558.19 414.26 L558.72 411.71 L559.26 409.22 L559.8 407.7 L560.33 407.52 L560.87 408.17 L561.42 409.16 L562 410 L562.61 410.75 L563.26 411.61 L563.92 412.29 L564.6 412.5 L565.29 412.04 L566 411.12 L566.73 410.01 L567.5 409 L568.31 407.95 L569.17 406.77 L570.04 405.86 L570.9 405.6 L571.77 406.41 L572.64 407.99 L573.5 409.6 L574.3 410.5 L575.02 410.38 L575.68 409.66 L576.33 408.74 L577 408 L577.7 407.32 L578.41 406.56 L579.14 406.1 L579.9 406.3 L580.71 407.69 L581.56 409.94 L582.43 412.1 L583.3 413.2 L584.15 412.68 L585.01 411.14 L585.88 409.44 L586.8 408.4 L587.81 408.25 L588.89 408.54 L589.95 409.11 L590.9 409.8 L591.66 410.89 L592.29 412.37 L592.93 413.59 L593.7 413.9 L594.69 412.56 L595.81 410.1 L596.92 407.82 L597.9 407 L598.65 408.65 L599.25 411.85 L599.85 415.05 L600.6 416.7 L601.58 415.92 L602.69 413.69 L603.81 411.24 L604.8 409.8 L605.58 409.98 L606.25 411.02 L606.89 412.13 L607.6 412.5 L608.42 411.59 L609.29 409.94 L610.16 408.37 L611 407.7 L611.77 408.32 L612.51 409.73 L613.24 411.45 L614 413 L614.82 414.5 L615.67 416.14 L616.51 417.48 L617.3 418.1 L618.03 417.64 L618.72 416.42 L619.38 415.01 L620 414 L620.53 413.4 L621 412.95 L621.49 412.82 L622.1 413.2 L622.85 414.54 L623.69 416.61 L624.61 418.55 L625.6 419.5 L626.69 418.87 L627.88 417.23 L629.1 415.5 L630.3 414.6 L631.47 414.91 L632.63 415.9 L633.8 417.09 L635 418 L636.25 418.65 L637.53 419.24 L638.8 419.59 L640 419.5 L641.09 418.57 L642.11 417.02 L643.13 415.58 L644.2 415 L645.36 415.86 L646.56 417.64 L647.78 419.4 L649 420.2 L650.27 419.44 L651.58 417.74 L652.83 415.97 L653.9 415 L654.71 415.34 L655.34 416.43 L655.93 417.55 L656.6 418 L657.37 417.5 L658.16 416.45 L659.03 415.18 L660 414 L661.12 412.79 L662.36 411.44 L663.64 410.32 L664.9 409.8 L666.13 410.32 L667.36 411.58 L668.58 412.8 L669.8 413.2 L671.02 412.22 L672.24 410.4 L673.44 408.6 L674.6 407.7 L675.69 408.31 L676.74 409.85 L677.76 411.36 L678.8 411.9 L679.87 410.83 L680.95 408.79 L682.01 406.73 L683 405.6 L683.9 405.97 L684.74 407.22 L685.56 408.54 L686.4 409.1 L687.25 408.35 L688.11 406.83 L688.98 405.39 L689.9 404.9 L690.95 405.76 L692.08 407.44 L693.15 409.44 L694 411.2 L694.52 412.92 L694.82 414.76 L695.06 416.2 L695.4 416.7 L695.88 415.81 L696.41 413.92 L696.96 411.75 L697.5 410 L697.98 408.76 L698.42 407.69 L698.93 406.85 L699.6 406.3 L700.51 406.15 L701.61 406.33 L702.72 406.67 L703.7 407 L704.56 407.33 L705.36 407.74 L706.03 408.13 L706.5 408.4" fill="none" stroke="#cde8f1" stroke-width="1.8" stroke-linejoin="round" />
<path d="M530.6 403.6 L531.5 409 L532.7 411.3 L534.3 413.8 L535.4 417 L536.2 418" fill="none" stroke="#95cfe0" stroke-width="0.7" stroke-linejoin="round" />
<path d="M536.5 412.13 L537.1 396.65 L537.7 393.36 L538.3 401.33 L538.9 403.77 L539.5 405.91 L540.1 407.27 L540.7 408.43 L541.3 410.88 L541.9 412.52 L542.5 413.76 L543.1 415.19 L543.7 416.4 L544.3 414.79 L544.9 413.36 L545.5 414.62 L546.1 418.29 L546.7 418.44 L547.3 416.38 L547.9 414.23 L548.5 414.98 L549.1 415.78 L549.7 416.31 L550.3 415.75 L550.9 415.38 L551.5 416.04 L552.1 416.62 L552.7 416.42 L553.3 414.96 L553.9 414.38 L554.5 414.4 L555.1 414.95 L555.7 415.38 L556.3 416.12 L556.9 416.7 L557.5 416.6 L558.1 415.57 L558.7 412.74 L559.3 410.45 L559.9 408.44 L560.5 408 L561.1 408.17 L561.7 409.62 L562.3 410.76 L562.9 412.13 L563.5 413.45 L564.1 414.04 L564.7 413.19 L565.3 412.01 L565.9 411.73 L566.5 411.35 L567.1 409.69 L567.7 407.67 L568.3 406.58 L568.9 406.98 L569.5 406.8 L570.1 407.44 L570.7 407.36 L571.3 407.47 L571.9 406.82 L572.5 407.97 L573.1 409.19 L573.7 409.82 L574.3 410.12 L574.9 410.41 L575.5 410.77 L576.1 409.82 L576.7 407.41 L577.3 406.2 L577.9 405.27 L578.5 406.4 L579.1 407.1 L579.7 407.93 L580.3 406.89 L580.9 406.49 L581.5 408.71 L582.1 411.13 L582.7 412.59 L583.3 412.58 L583.9 413.55 L584.5 413.55 L585.1 412.58 L585.7 410.81 L586.3 410.22 L586.9 409.95 L587.5 409.1 L588.1 408.25 L588.7 407.6 L589.3 407.78 L589.9 408.8 L590.5 409.65 L591.1 410.2 L591.7 410.34 L592.3 411.59 L592.9 413.19 L593.5 413.93 L594.1 413.38 L594.7 412.24 L595.3 411.58 L595.9 410.86 L596.5 409.46 L597.1 407.2 L597.7 406.26 L598.3 407.37 L598.9 411.01 L599.5 413.8 L600.1 417.09 L600.7 417.33 L601.3 417.1 L601.9 415.24 L602.5 414.26 L603.1 412.88 L603.7 411.63 L604.3 409.44 L604.9 407.51 L605.5 408.21 L606.1 411.57 L606.7 412.81 L607.3 412.6 L607.9 412.26 L608.5 412.69 L609.1 411.24 L609.7 408.5 L610.3 406.19 L610.9 405.48 L611.5 406.43 L612.1 407.16 L612.7 407.68 L613.3 409.51 L613.9 411.98 L614.5 413.4 L615.1 414.15 L615.7 415.15 L616.3 416.9 L616.9 418.9 L617.5 420.64 L618.1 420.07 L618.7 418.33 L619.3 416.75 L619.9 416.32 L620.5 416.04 L621.1 415.32 L621.7 414.11 L622.3 412.85 L622.9 413.73 L623.5 415.88 L624.1 417.9 L624.7 418.16 L625.3 418.1 L625.9 418.86 L626.5 419.57 L627.1 418.83 L627.7 417.21 L628.3 416.47 L628.9 416.41 L629.5 416.67 L630.1 416.39 L630.7 415.05 L631.3 413.98 L631.9 414.3 L632.5 415.64 L633.1 416.53 L633.7 417.57 L634.3 417.58 L634.9 417.94 L635.5 418 L636.1 418.7 L636.7 418.81 L637.3 418.65 L637.9 418.74 L638.5 418.96 L639.1 420.11 L639.7 420.39 L640.3 420.58 L640.9 419.37 L641.5 418.26 L642.1 415.87 L642.7 415.13 L643.3 414.64 L643.9 415.59 L644.5 415.01 L645.1 415.56 L645.7 415.81 L646.3 416.51 L646.9 417.3 L647.5 418.65 L648.1 419.76 L648.7 419.46 L649.3 418.81 L649.9 418.9 L650.5 419.62 L651.1 419.71 L651.7 418.83 L652.3 416.8 L652.9 415.81 L653.5 415.36 L654.1 415.34 L654.7 415.63 L655.3 417.12 L655.9 418.61 L656.5 418.05 L657.1 416.93 L657.7 415.28 L658.3 414.92 L658.9 414.66 L659.5 415.14 L660.1 414.63 L660.7 413.68 L661.3 413.49 L661.9 412.62 L662.5 411 L663.1 409.05 L663.7 409.48 L664.3 409.83 L664.9 409.61 L665.5 408.91 L666.1 410.08 L666.7 410.98 L667.3 411.3 L667.9 411.08 L668.5 411.71 L669.1 412.39 L669.7 413.31 L670.3 413.49 L670.9 412.7 L671.5 411.12 L672.1 410.27 L672.7 409.77 L673.3 409.51 L673.9 408.69 L674.5 407.32 L675.1 406.97 L675.7 408.19 L676.3 409.63 L676.9 410.45 L677.5 410.03 L678.1 410.92 L678.7 410.92 L679.3 410.43 L679.9 409.01 L680.5 408.83 L681.1 408.35 L681.7 406.96 L682.3 405.64 L682.9 404.78 L683.5 404.2 L684.1 404.59 L684.7 405.74 L685.3 407.78 L685.9 408.76 L686.5 409.65 L687.1 409.46 L687.7 408.97 L688.3 408 L688.9 407.09 L689.5 405.93 L690.1 405.9 L690.7 405.84 L691.3 406.26 L691.9 407.09 L692.5 408.6 L693.1 409.93 L693.7 410.5 L694.3 411.59 L694.9 414.8 L695.5 417.05 L696.1 416.41 L696.7 413.87 L697.3 411.26 L697.9 409.44 L698.5 408.33 L699.1 406.64 L699.7 405.35 L700.3 405.85 L700.9 406.24 L701.5 406.51 L702.1 406.06 L702.7 407.19 L703.3 406.94 L703.9 407.07 L704.5 405.95 L705.1 406.27 L705.7 407.44 L706.3 408.98" fill="none" stroke="#95cfe0" stroke-width="0.7" stroke-linejoin="round" />
<path d="M536.2 418 L536.4 476" stroke="#a4d5e4" stroke-width="0.9"/>
<path d="M531 412.6 H721.3" stroke="#111" stroke-width="1" stroke-dasharray="1 1.6"/>
<path d="M559.85 476.25 V471.25 M559.85 348.75 V353.75 M589.21 476.25 V471.25 M589.21 348.75 V353.75 M618.56 476.25 V471.25 M618.56 348.75 V353.75 M647.92 476.25 V471.25 M647.92 348.75 V353.75 M677.27 476.25 V471.25 M677.27 348.75 V353.75 M706.62 476.25 V471.25 M706.62 348.75 V353.75 M530.5 455 H535.5 M721.3 455 H716.3 M530.5 433.75 H535.5 M721.3 433.75 H716.3 M530.5 412.5 H535.5 M721.3 412.5 H716.3 M530.5 391.25 H535.5 M721.3 391.25 H716.3 M530.5 370 H535.5 M721.3 370 H716.3" stroke="#111" stroke-width="1.2" fill="none"/>
<rect x="530.5" y="348.75" width="190.8" height="127.5" fill="none" stroke="#111" stroke-width="1.4"/>
<text x="530.5" y="487.25" font-size="11" text-anchor="middle" font-weight="normal" fill="#1a1a1a" >0</text>
<text x="559.85" y="487.25" font-size="11" text-anchor="middle" font-weight="normal" fill="#1a1a1a" >10</text>
<text x="589.21" y="487.25" font-size="11" text-anchor="middle" font-weight="normal" fill="#1a1a1a" >20</text>
<text x="618.56" y="487.25" font-size="11" text-anchor="middle" font-weight="normal" fill="#1a1a1a" >30</text>
<text x="647.92" y="487.25" font-size="11" text-anchor="middle" font-weight="normal" fill="#1a1a1a" >40</text>
<text x="677.27" y="487.25" font-size="11" text-anchor="middle" font-weight="normal" fill="#1a1a1a" >50</text>
<text x="706.62" y="487.25" font-size="11" text-anchor="middle" font-weight="normal" fill="#1a1a1a" >60</text>
<text x="529.1" y="480.21" font-size="11" text-anchor="end" font-weight="normal" fill="#1a1a1a" >-0.03</text>
<text x="529.1" y="458.96" font-size="11" text-anchor="end" font-weight="normal" fill="#1a1a1a" >-0.02</text>
<text x="529.1" y="437.71" font-size="11" text-anchor="end" font-weight="normal" fill="#1a1a1a" >-0.01</text>
<text x="529.1" y="416.46" font-size="11" text-anchor="end" font-weight="normal" fill="#1a1a1a" >0.00</text>
<text x="529.1" y="395.21" font-size="11" text-anchor="end" font-weight="normal" fill="#1a1a1a" >0.01</text>
<text x="529.1" y="373.96" font-size="11" text-anchor="end" font-weight="normal" fill="#1a1a1a" >0.02</text>
<text x="529.1" y="352.71" font-size="11" text-anchor="end" font-weight="normal" fill="#1a1a1a" >0.03</text>
<text x="626.4" y="506.75" font-size="12.4" text-anchor="middle" font-weight="normal" fill="#1a1a1a" >Time, s</text>
<text x="500" y="411.8" font-size="12.4" text-anchor="middle" font-weight="normal" fill="#1a1a1a" transform="rotate(-90 500 411.8)" >Residuals</text>
<text x="543.5" y="366.8" font-size="19.5" text-anchor="start" font-weight="bold" fill="#1a1a1a" >I</text>
</svg></body></html>
